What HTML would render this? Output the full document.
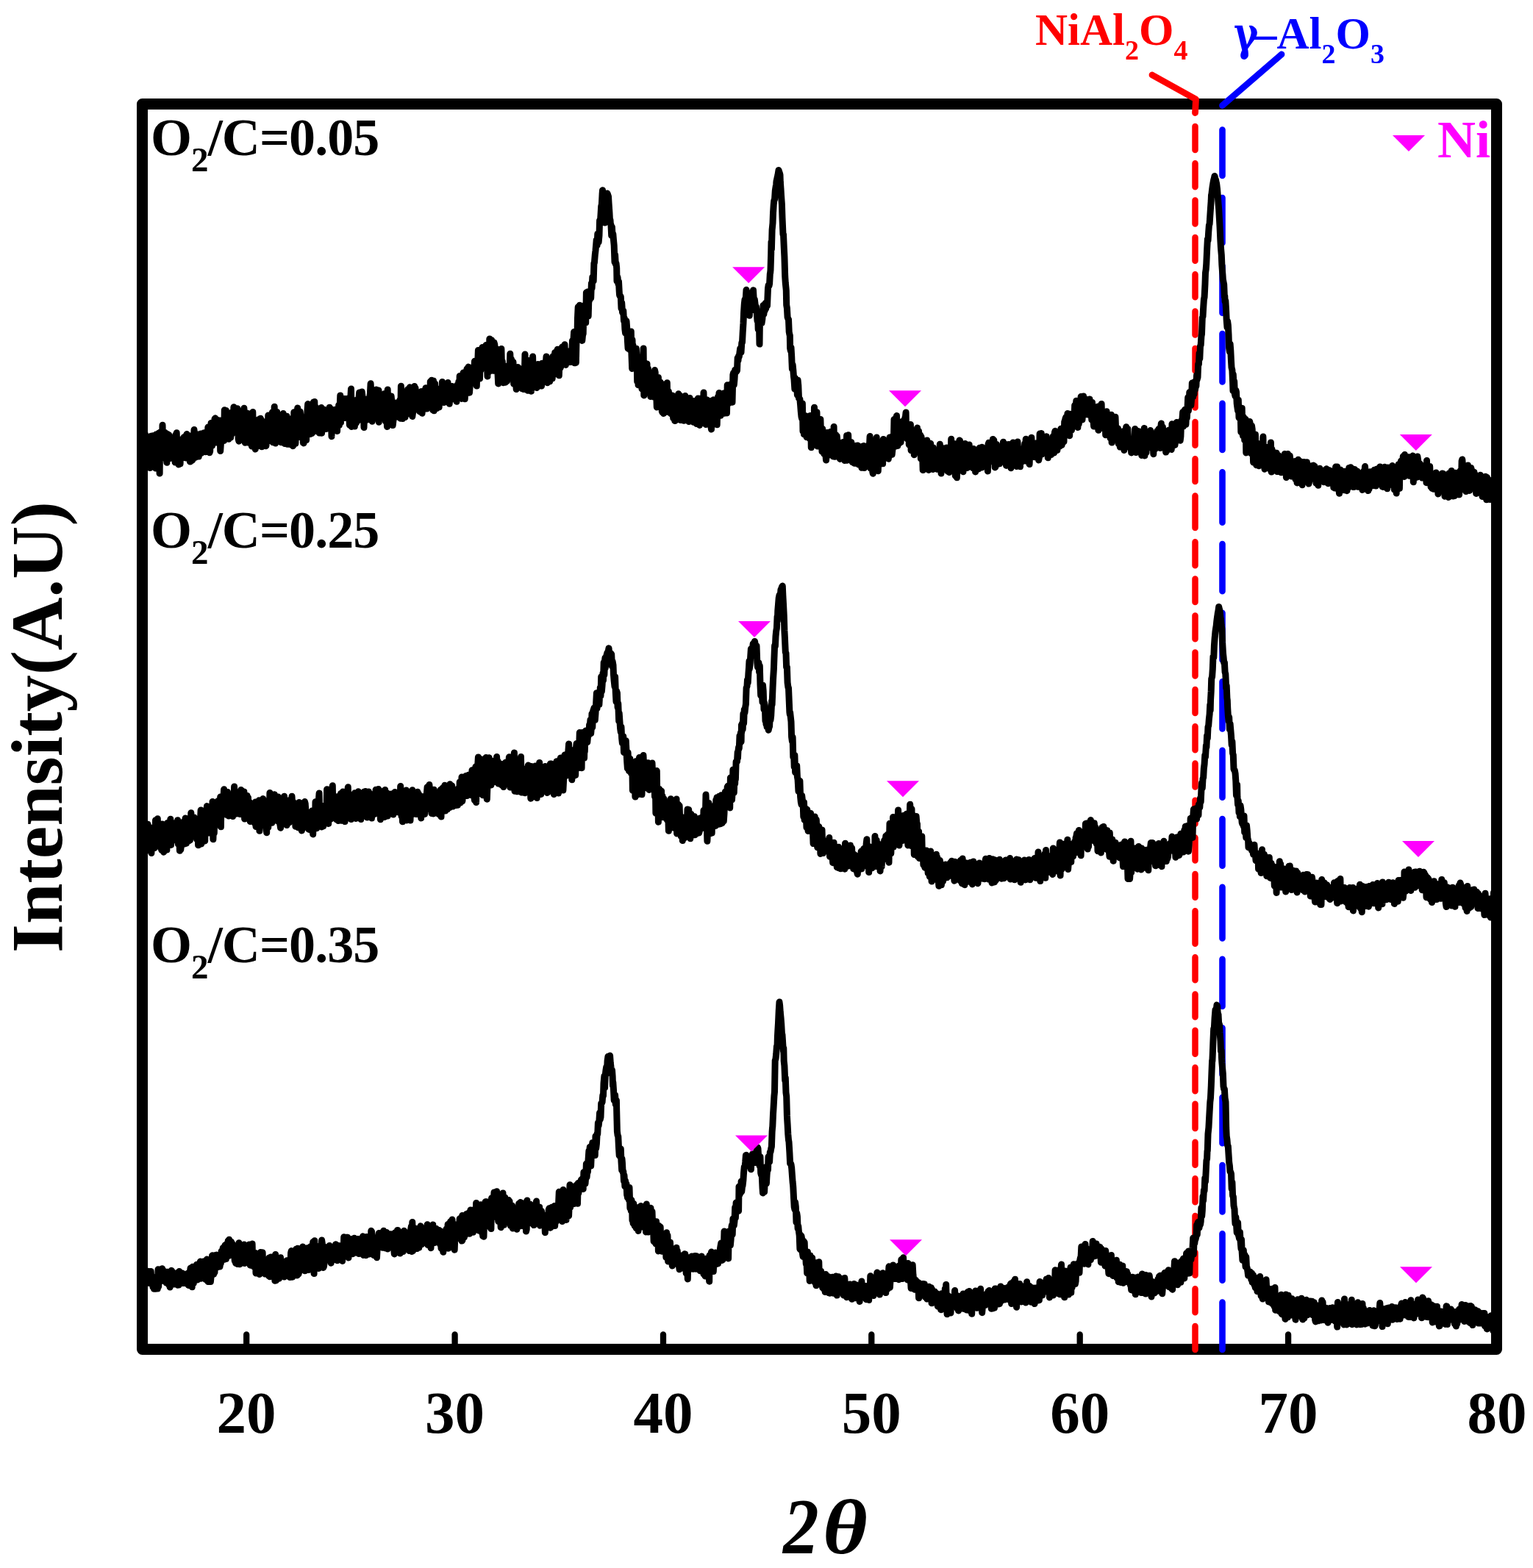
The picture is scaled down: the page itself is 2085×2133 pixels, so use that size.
<!DOCTYPE html>
<html><head><meta charset="utf-8"><title>XRD patterns</title>
<style>
html,body{margin:0;padding:0;background:#fff;overflow:hidden;width:2085px;height:2133px;}
svg{display:block;}
text{font-family:"Liberation Serif","Times New Roman",serif;font-weight:bold;}
</style></head><body>
<svg width="2085" height="2133" viewBox="0 0 2085 2133">
<rect x="0" y="0" width="2085" height="2133" fill="#fff"/>
<!-- frame -->
<rect x="193.5" y="141.5" width="1842" height="1694" fill="none" stroke="#000" stroke-width="15" stroke-linejoin="round"/>
<!-- ticks -->
<g stroke="#000" stroke-width="8.3" stroke-linecap="round">
<line x1="335.2" y1="1830" x2="335.2" y2="1815.5"/>
<line x1="618.6" y1="1830" x2="618.6" y2="1815.5"/>
<line x1="902.0" y1="1830" x2="902.0" y2="1815.5"/>
<line x1="1185.3" y1="1830" x2="1185.3" y2="1815.5"/>
<line x1="1468.7" y1="1830" x2="1468.7" y2="1815.5"/>
<line x1="1752.1" y1="1830" x2="1752.1" y2="1815.5"/>
</g>
<!-- tick labels -->
<g font-size="81" text-anchor="middle">
<text x="335" y="1949">20</text>
<text x="618.6" y="1949">30</text>
<text x="902" y="1949">40</text>
<text x="1185.3" y="1949">50</text>
<text x="1468.7" y="1949">60</text>
<text x="1752.1" y="1949">70</text>
<text x="2036" y="1949">80</text>
</g>
<!-- axis titles -->
<text transform="translate(1065,2113) scale(0.91,1)" font-size="107" font-style="italic">2</text>
<text transform="translate(1119,2113) scale(1.118,1)" font-size="105" font-style="italic">θ</text>
<text transform="translate(84,1296) rotate(-90)" font-size="100">Intensity(A.U)</text>
<!-- sample labels -->
<g font-size="72">
<text x="205" y="210.6" letter-spacing="-0.9">O<tspan font-size="47" dy="22">2</tspan><tspan dy="-22">/C=0.05</tspan></text>
<text x="205" y="744.5" letter-spacing="-0.9">O<tspan font-size="47" dy="22">2</tspan><tspan dy="-22">/C=0.25</tspan></text>
<text x="205" y="1308.6" letter-spacing="-0.9">O<tspan font-size="47" dy="22">2</tspan><tspan dy="-22">/C=0.35</tspan></text>
</g>
<!-- phase labels -->
<text x="1408" y="61" font-size="61" fill="#ff0000">NiAl<tspan font-size="38" dy="20">2</tspan><tspan dy="-20">O</tspan><tspan font-size="38" dy="20">4</tspan></text>
<text transform="translate(1678,67.5) scale(0.79,1)" font-size="64" fill="#0000ff" style="font-family:'DejaVu Serif',serif">γ</text>
<text x="1706" y="65.5" font-size="61" fill="#0000ff">–Al<tspan font-size="38" dy="20">2</tspan><tspan dy="-20">O</tspan><tspan font-size="38" dy="20">3</tspan></text>
<!-- Ni legend -->
<polygon points="1894,184 1938,184 1916,206" fill="#ff00ff"/>
<text x="1955" y="214" font-size="72" fill="#ff00ff">Ni</text>
<path d="M1625.5,171.9V203.9M1625.5,222.2V254.2M1625.5,272.6V304.6M1625.5,322.9V354.8M1625.5,373.2V404.2M1625.5,423.6V455.4M1625.5,473.9V504.2M1625.5,522.8V554.5M1625.5,573.9V605.8M1625.5,624.2V655.1M1625.5,674.5V718.0M1625.5,737.2V769.2M1625.5,787.6V819.0M1625.5,837.4V869.2M1625.5,887.6V919.5M1625.5,938.0V970.0M1625.5,988.2V1020.2M1625.5,1038.5V1070.5M1625.5,1088.8V1120.8M1625.5,1139.5V1170.5M1625.5,1189.0V1220.8M1625.5,1239.2V1283.8M1625.5,1302.2V1333.2M1625.5,1352.5V1383.5M1625.5,1401.8V1433.8M1625.5,1452.2V1484.2M1625.5,1501.8V1535.0M1625.5,1553.7V1584.7M1625.5,1603.2V1635.3M1625.5,1654.0V1685.2M1625.5,1703.8V1734.8M1625.5,1753.2V1785.3M1625.5,1804.0V1836.0" fill="none" stroke="#ff0000" stroke-width="8.5" stroke-linecap="round"/>
<path d="M1662.5,176.5V238.9M1662.5,269.0V330.5M1662.5,361.8V425.7M1662.5,454.1V519.5M1662.5,548.7V612.0M1662.5,642.2V710.8M1662.5,740.1V804.2M1662.5,833.8V897.7M1662.5,927.3V991.4M1662.5,1020.7V1084.7M1662.5,1114.1V1177.7M1662.5,1206.9V1276.5M1662.5,1304.9V1369.0M1662.5,1398.3V1461.7M1662.5,1492.8V1555.2M1662.5,1585.1V1648.5M1662.5,1678.3V1741.7M1662.5,1771.6V1836.0" fill="none" stroke="#0000ff" stroke-width="8.6" stroke-linecap="round"/>
<polyline points="1567,102 1626.5,135 1625.5,153.5" fill="none" stroke="#ff0000" stroke-width="8.8" stroke-linecap="round" stroke-linejoin="round"/>
<line x1="1743" y1="74" x2="1662.5" y2="143.5" stroke="#0000ff" stroke-width="8.8" stroke-linecap="round"/>
<path d="M194.0,612.2 L194.7,621.9 L195.4,611.3 L196.1,615.1 L196.8,612.1 L197.5,591.0 L198.2,624.0 L198.9,601.4 L199.6,607.8 L200.3,631.1 L201.0,630.8 L201.7,628.9 L202.4,600.1 L203.1,598.3 L203.8,636.6 L204.5,599.3 L205.2,593.2 L205.9,633.3 L206.6,631.5 L207.3,618.5 L208.0,592.8 L208.7,618.3 L209.4,622.8 L210.1,605.2 L210.8,614.8 L211.5,636.9 L212.2,591.1 L212.9,602.6 L213.6,599.4 L214.0,623.1 L214.3,632.2 L215.0,632.7 L215.7,589.2 L216.4,602.7 L217.1,644.1 L217.8,587.9 L218.5,596.4 L219.2,616.9 L219.9,623.3 L220.6,601.5 L221.0,578.3 L221.3,590.3 L222.0,586.9 L222.7,590.3 L223.4,593.1 L224.1,617.0 L224.8,588.5 L225.5,589.5 L226.2,621.6 L226.9,629.3 L227.6,590.4 L228.3,593.0 L229.0,618.0 L229.7,591.7 L230.4,608.4 L231.1,611.2 L231.8,623.6 L232.5,622.2 L233.2,595.5 L233.9,602.5 L234.6,622.0 L235.3,597.4 L236.0,596.3 L236.7,594.7 L237.4,595.6 L238.1,628.9 L238.8,591.4 L239.5,617.5 L240.2,588.8 L240.9,615.7 L241.6,617.5 L242.3,625.9 L243.0,631.9 L243.7,598.0 L244.4,615.9 L245.1,630.8 L245.8,605.3 L246.5,599.2 L247.2,621.5 L247.9,601.0 L248.6,614.0 L249.3,612.2 L250.0,594.7 L250.7,622.5 L251.4,598.7 L252.1,607.5 L252.8,623.0 L253.5,591.6 L254.2,590.5 L254.9,593.7 L255.6,614.3 L256.3,612.0 L257.0,594.7 L257.7,612.8 L258.4,628.0 L259.1,604.4 L260.0,592.8 L260.5,623.7 L261.2,626.3 L261.9,625.8 L262.6,618.2 L263.3,602.0 L264.0,584.6 L264.7,591.2 L265.4,622.4 L266.1,601.1 L266.8,606.4 L267.5,612.9 L268.2,596.9 L268.9,606.7 L269.6,591.0 L270.3,621.0 L271.0,603.6 L271.7,590.8 L272.4,598.0 L273.1,590.1 L273.8,616.5 L274.5,607.6 L275.2,591.5 L275.9,607.8 L276.6,592.4 L277.3,588.8 L278.0,596.0 L278.7,588.5 L279.4,614.8 L280.1,601.1 L280.8,603.5 L281.5,611.8 L282.2,593.1 L282.9,581.1 L283.6,584.0 L284.3,585.2 L285.0,615.8 L285.7,613.8 L286.0,588.8 L286.4,584.4 L287.1,575.4 L287.8,604.1 L288.5,606.5 L289.2,580.3 L289.9,580.7 L290.6,590.3 L291.3,580.5 L292.0,569.9 L292.7,568.8 L293.4,602.0 L294.1,594.2 L294.8,589.6 L295.5,571.2 L296.2,571.7 L297.0,581.2 L297.6,597.9 L298.3,586.1 L299.0,572.1 L299.7,613.4 L300.4,603.2 L301.1,590.6 L301.8,580.1 L302.5,598.1 L303.2,580.2 L303.9,590.0 L304.6,599.4 L305.3,557.7 L306.0,596.1 L306.7,587.0 L307.4,558.6 L308.1,580.3 L308.8,573.3 L309.5,584.7 L310.0,588.3 L310.9,597.3 L311.6,573.2 L312.3,579.4 L313.0,567.3 L313.7,595.2 L314.4,570.2 L315.1,561.0 L315.8,590.0 L316.5,586.3 L317.2,573.5 L317.9,553.8 L318.6,574.0 L319.3,566.9 L320.0,574.4 L320.7,578.3 L321.4,576.0 L322.1,584.1 L322.8,555.7 L323.5,559.9 L324.2,597.3 L324.9,600.2 L325.6,594.8 L326.0,566.6 L326.3,563.6 L327.0,580.8 L327.7,574.8 L328.4,588.9 L329.1,584.3 L329.8,559.1 L330.5,559.0 L331.2,576.6 L331.9,555.2 L332.6,574.1 L333.3,602.2 L334.0,589.3 L334.7,592.2 L335.4,580.5 L336.1,572.6 L336.8,562.2 L337.5,564.2 L338.2,602.3 L338.9,586.0 L339.6,570.4 L340.3,593.6 L341.0,578.5 L341.7,571.1 L342.4,607.0 L343.0,578.8 L343.8,560.6 L344.5,605.9 L345.2,602.4 L345.9,607.7 L346.6,606.6 L347.3,611.0 L348.0,602.2 L348.7,598.9 L349.4,588.1 L350.1,577.2 L350.8,606.8 L351.5,570.8 L352.2,583.7 L352.9,573.9 L353.6,569.7 L354.3,569.2 L355.0,570.4 L355.7,590.6 L356.0,607.7 L356.4,603.5 L357.1,587.6 L357.8,588.2 L358.5,597.8 L359.2,587.1 L359.9,574.1 L360.6,594.8 L361.3,606.8 L362.0,606.5 L362.7,573.0 L363.4,579.8 L364.1,600.4 L364.8,565.1 L365.5,568.7 L366.2,592.7 L366.9,580.3 L367.6,573.1 L368.3,574.3 L369.0,580.0 L369.7,584.5 L370.4,560.7 L371.1,601.8 L371.8,594.1 L372.5,594.1 L373.2,553.2 L373.9,594.7 L374.6,603.1 L375.3,576.2 L376.0,585.8 L376.7,560.6 L377.4,581.8 L378.1,594.7 L378.8,580.4 L379.5,591.1 L380.2,590.4 L380.9,573.5 L381.6,566.0 L382.3,601.8 L383.0,590.1 L383.7,594.6 L384.4,587.4 L385.1,562.5 L385.8,593.7 L386.5,570.4 L387.2,603.5 L387.9,571.6 L388.6,568.2 L389.3,587.4 L390.0,566.2 L390.7,604.2 L391.4,591.9 L392.1,570.3 L392.8,594.2 L393.5,604.0 L394.2,604.4 L394.9,603.1 L395.6,593.9 L396.3,594.8 L397.0,577.2 L397.7,569.0 L398.4,606.8 L399.1,605.7 L399.8,560.7 L400.5,596.3 L401.2,573.5 L401.9,603.2 L402.6,586.0 L403.0,587.4 L403.3,582.7 L404.0,564.4 L404.7,555.0 L405.4,568.5 L406.1,576.6 L406.8,594.6 L407.5,564.0 L408.2,560.0 L408.9,565.6 L409.6,579.0 L410.3,585.6 L411.0,589.5 L411.7,574.5 L412.4,602.4 L413.1,602.9 L413.8,588.3 L414.5,571.3 L415.2,583.7 L415.9,578.3 L416.6,598.6 L417.3,571.1 L418.0,558.4 L418.7,549.6 L419.4,579.9 L420.1,583.7 L420.8,581.8 L421.5,556.4 L422.2,590.5 L422.9,557.8 L423.6,583.8 L424.3,589.5 L425.0,588.0 L425.7,587.3 L426.4,547.1 L427.1,586.9 L427.8,546.6 L428.5,581.6 L429.2,553.8 L429.9,586.3 L430.6,567.0 L431.3,576.2 L432.0,568.9 L432.7,573.4 L433.4,562.4 L434.1,589.0 L434.8,578.7 L435.5,556.2 L436.2,557.8 L436.9,554.5 L437.6,589.2 L438.3,579.8 L439.0,582.1 L439.7,563.3 L440.4,557.0 L441.1,572.9 L441.8,560.1 L442.5,558.4 L443.2,583.6 L443.9,564.7 L444.6,559.2 L445.3,564.4 L446.0,564.1 L446.7,569.1 L447.4,567.7 L448.1,554.2 L448.8,583.6 L449.5,570.1 L450.2,556.5 L451.0,593.7 L451.6,576.4 L452.3,570.4 L453.0,575.9 L453.7,579.9 L454.4,566.8 L455.1,577.0 L455.8,571.9 L456.5,556.9 L457.2,559.8 L457.9,571.2 L458.6,586.5 L459.3,556.0 L460.0,570.2 L460.7,551.0 L461.4,578.4 L462.1,555.9 L462.8,537.9 L463.5,574.7 L464.2,552.7 L464.9,565.1 L465.6,565.1 L466.0,559.0 L466.3,568.8 L467.0,542.3 L467.7,552.2 L468.4,551.9 L469.1,568.4 L469.8,542.5 L470.5,567.9 L471.2,550.3 L471.9,543.9 L472.6,547.3 L473.0,546.1 L473.3,545.8 L474.0,541.8 L474.7,559.5 L475.4,578.1 L476.1,562.5 L476.8,541.6 L477.5,529.0 L478.2,580.4 L478.9,563.4 L479.6,557.2 L480.3,560.5 L481.0,549.1 L481.7,558.7 L482.4,580.0 L483.1,566.8 L483.8,544.5 L484.5,575.0 L485.2,550.9 L485.9,573.0 L486.6,543.0 L487.3,565.3 L488.0,541.8 L488.7,534.0 L489.4,567.8 L490.1,570.8 L490.8,539.2 L491.5,542.9 L492.2,532.9 L493.0,539.5 L493.6,550.6 L494.3,548.3 L495.0,581.5 L495.7,561.3 L496.4,549.4 L497.1,543.1 L497.8,546.6 L498.5,559.9 L499.2,567.8 L499.9,570.9 L500.6,546.0 L501.3,549.5 L502.0,564.7 L502.7,540.9 L503.4,535.3 L504.1,521.8 L504.8,534.4 L505.5,563.2 L506.2,573.3 L506.9,558.8 L507.6,555.8 L508.3,552.2 L509.0,555.4 L509.7,541.1 L510.4,554.0 L511.1,541.4 L511.8,529.9 L512.5,530.7 L513.2,539.0 L513.9,570.2 L514.6,555.9 L515.0,530.9 L515.3,574.3 L516.0,538.2 L516.7,556.1 L517.4,564.3 L518.1,536.5 L518.8,552.9 L519.5,567.7 L520.2,565.5 L520.9,566.7 L521.6,553.8 L522.3,545.0 L523.0,535.5 L523.7,554.3 L524.4,573.3 L525.1,552.3 L525.8,563.4 L526.5,580.4 L527.2,530.0 L527.9,566.8 L528.6,543.5 L529.3,539.1 L530.0,566.9 L530.7,574.4 L531.4,572.1 L532.1,539.1 L532.8,545.5 L533.5,555.6 L534.2,578.6 L534.9,572.6 L535.6,566.1 L536.3,556.8 L537.0,554.4 L537.7,566.1 L538.4,548.1 L539.1,558.6 L539.8,552.2 L540.5,562.2 L541.2,567.2 L541.9,565.4 L542.6,564.5 L543.3,561.6 L544.0,543.7 L544.7,569.3 L545.4,525.3 L546.1,547.4 L546.8,551.0 L547.5,569.5 L548.2,554.9 L548.9,537.0 L549.6,567.3 L550.3,547.0 L551.0,567.6 L551.7,555.3 L552.4,562.2 L553.1,542.4 L553.8,536.5 L554.5,529.7 L555.2,539.7 L555.9,534.4 L556.6,536.2 L557.3,526.8 L558.0,563.2 L558.7,547.3 L559.4,548.1 L560.1,555.1 L560.8,566.5 L561.5,561.6 L562.2,558.2 L562.9,550.2 L563.6,525.4 L564.3,554.2 L565.0,528.0 L565.7,544.8 L566.4,548.7 L567.1,539.9 L567.8,552.2 L568.5,546.7 L569.2,551.4 L569.9,541.6 L570.6,559.8 L571.3,545.1 L572.0,534.3 L572.7,532.6 L573.4,548.3 L574.1,562.2 L574.8,546.7 L575.5,536.7 L576.2,540.1 L576.9,531.3 L577.6,538.0 L578.3,534.4 L579.0,527.8 L579.7,540.6 L580.4,556.1 L581.1,531.1 L581.8,530.1 L582.5,541.9 L583.2,553.3 L583.9,544.4 L584.6,548.1 L585.3,518.9 L586.0,524.8 L586.7,540.9 L587.0,517.3 L587.4,534.2 L588.1,544.2 L588.8,558.0 L589.5,518.1 L590.2,558.8 L590.9,538.2 L591.6,522.0 L592.3,555.2 L593.0,544.8 L593.7,555.5 L594.4,531.1 L595.1,553.1 L595.8,529.1 L596.5,535.9 L597.2,553.9 L597.9,534.1 L598.6,537.6 L599.3,542.5 L600.0,536.4 L600.7,546.1 L601.0,538.2 L601.4,519.5 L602.1,527.4 L602.8,532.5 L603.5,547.5 L604.2,527.1 L604.9,526.7 L605.6,528.8 L606.3,524.4 L607.0,528.8 L607.7,530.4 L608.4,533.4 L609.1,520.6 L609.8,536.5 L610.5,539.3 L611.2,549.3 L611.9,541.9 L612.6,539.2 L613.3,530.8 L614.0,536.5 L614.7,525.4 L615.0,536.3 L615.4,537.2 L616.1,541.0 L616.8,528.2 L617.5,534.6 L618.2,543.3 L618.9,535.1 L619.6,539.9 L620.3,540.6 L621.0,546.3 L621.7,523.8 L622.4,534.7 L623.1,532.5 L623.8,519.2 L624.5,541.9 L625.2,511.4 L625.9,518.6 L626.6,514.5 L627.3,541.9 L628.0,542.4 L628.7,531.5 L629.0,519.5 L629.4,528.0 L630.1,507.0 L630.8,518.6 L631.5,507.6 L632.2,542.8 L632.9,533.4 L633.6,524.8 L634.3,518.1 L635.0,501.7 L635.7,519.2 L636.4,504.4 L637.1,499.1 L637.8,505.0 L638.5,534.2 L639.2,525.1 L639.9,522.5 L640.6,503.1 L641.3,503.4 L642.0,521.4 L642.7,519.5 L643.0,499.6 L643.4,519.2 L644.1,511.1 L644.8,504.2 L645.5,491.3 L646.2,499.0 L646.9,491.8 L647.6,490.5 L648.3,525.1 L649.0,499.2 L649.7,494.0 L650.4,476.4 L651.0,486.0 L651.8,510.4 L652.5,515.1 L653.2,482.2 L653.9,503.6 L654.6,497.6 L655.3,479.1 L656.0,472.6 L656.7,492.5 L657.4,498.2 L658.0,478.4 L658.8,489.8 L659.5,496.5 L660.2,480.5 L660.9,469.6 L661.6,488.3 L662.3,488.8 L663.0,512.0 L663.7,476.1 L664.4,479.9 L665.0,505.7 L665.8,461.1 L666.5,478.7 L667.2,492.9 L667.9,493.7 L668.6,462.7 L669.3,494.6 L670.0,495.4 L670.7,504.3 L671.4,503.9 L672.0,466.0 L672.8,468.8 L673.5,503.4 L674.2,493.3 L674.9,502.3 L675.6,474.7 L676.3,503.0 L677.0,508.3 L677.7,521.9 L678.4,489.2 L679.0,483.4 L679.8,477.7 L680.5,479.2 L681.2,513.7 L681.9,474.6 L682.6,504.4 L683.3,491.7 L684.0,513.6 L684.7,520.7 L685.4,518.8 L686.0,515.6 L686.8,516.7 L687.5,520.2 L688.2,501.7 L688.9,498.3 L689.6,518.5 L690.3,508.7 L691.0,511.6 L691.7,501.2 L692.4,507.7 L693.1,504.4 L693.8,481.2 L694.5,500.5 L695.2,488.1 L695.9,490.0 L696.6,501.3 L697.3,493.6 L698.0,492.4 L698.7,522.2 L699.4,507.7 L700.0,506.5 L700.8,509.0 L701.5,517.2 L702.2,529.6 L702.9,515.9 L703.6,512.2 L704.3,499.4 L705.0,499.8 L705.7,510.7 L706.4,510.7 L707.1,505.8 L707.8,507.4 L708.5,521.1 L709.2,513.2 L709.9,528.7 L710.6,516.7 L711.3,515.4 L712.0,529.6 L712.7,517.9 L713.4,507.3 L714.0,481.9 L714.8,500.1 L715.5,516.4 L716.2,509.3 L716.9,508.8 L717.6,531.3 L718.3,499.8 L719.0,490.5 L719.7,529.8 L720.4,525.3 L721.1,504.2 L721.8,514.9 L722.5,532.2 L723.2,490.8 L723.9,527.2 L724.6,485.1 L725.3,514.9 L726.0,499.0 L726.7,516.9 L727.4,500.5 L728.0,525.2 L728.8,507.7 L729.5,525.7 L730.2,527.6 L730.9,507.3 L731.6,495.4 L732.3,509.9 L733.0,514.5 L733.7,517.2 L734.4,510.8 L735.1,510.5 L735.8,521.9 L736.5,525.1 L737.2,494.3 L737.9,496.4 L738.6,502.3 L739.3,501.1 L740.0,497.5 L740.7,514.6 L741.4,509.6 L742.1,497.1 L743.0,485.0 L743.5,508.3 L744.2,520.7 L744.9,504.2 L745.6,503.6 L746.3,518.1 L747.0,496.6 L747.7,519.0 L748.4,509.6 L749.1,503.3 L749.8,496.0 L750.5,493.4 L751.2,515.0 L751.9,484.8 L752.6,504.5 L753.3,509.9 L754.0,505.5 L754.7,479.4 L755.4,501.8 L756.1,507.9 L757.0,508.2 L757.5,505.7 L758.2,475.2 L758.9,501.8 L759.6,479.4 L760.3,510.8 L761.0,491.4 L761.7,501.4 L762.4,499.7 L763.1,498.3 L763.8,477.1 L764.5,472.1 L765.2,479.5 L765.9,493.3 L766.6,480.4 L767.3,489.2 L768.0,468.7 L768.7,487.6 L769.4,496.4 L770.1,491.2 L771.0,479.5 L771.5,480.6 L772.2,477.9 L772.9,492.8 L773.6,487.2 L774.3,482.3 L775.0,478.9 L775.7,492.5 L776.4,486.5 L777.1,483.6 L778.0,475.7 L778.5,463.2 L779.2,490.0 L779.9,463.2 L780.6,451.6 L781.3,493.8 L782.0,488.5 L782.7,469.1 L783.0,492.5 L783.4,493.4 L784.1,459.2 L785.0,458.8 L785.5,432.7 L786.2,417.6 L786.9,443.1 L787.6,460.6 L788.3,415.3 L789.0,452.7 L789.7,442.0 L790.0,423.1 L790.4,422.2 L791.1,458.1 L791.8,463.4 L792.5,456.1 L793.2,453.9 L793.9,420.6 L794.6,416.0 L795.3,414.9 L796.0,419.7 L796.7,438.8 L797.4,397.9 L798.1,406.6 L799.0,396.9 L799.5,419.8 L800.2,429.8 L800.9,404.8 L801.6,408.6 L802.3,398.1 L803.0,396.7 L803.7,405.4 L804.4,385.3 L805.1,391.7 L805.8,376.9 L806.5,382.1 L807.2,382.0 L807.9,358.0 L808.4,357.6 L809.3,346.5 L810.0,340.7 L810.7,332.8 L811.2,326.5 L812.1,333.6 L812.8,318.0 L813.5,317.7 L814.2,329.0 L815.0,320.3 L815.6,299.7 L816.3,303.7 L817.0,292.6 L817.7,280.7 L818.4,278.0 L819.1,263.9 L819.5,258.8 L819.8,261.7 L820.5,266.0 L821.0,279.1 L821.9,295.1 L822.5,303.1 L823.3,290.9 L824.0,283.6 L824.7,274.6 L825.4,269.5 L826.0,263.0 L826.8,265.4 L827.5,267.3 L828.0,275.7 L828.9,288.8 L829.6,302.3 L830.0,299.4 L830.3,304.0 L831.0,306.0 L831.7,320.5 L832.4,309.0 L833.0,320.5 L833.8,318.0 L834.5,326.7 L835.2,333.9 L836.0,356.7 L836.6,346.8 L837.3,359.2 L838.0,357.9 L838.7,364.5 L839.0,382.5 L839.4,375.8 L840.1,377.8 L840.8,386.0 L841.5,383.1 L842.2,396.1 L842.5,400.7 L842.9,402.4 L843.6,402.5 L844.3,403.6 L845.0,419.6 L845.7,412.1 L846.5,424.7 L847.1,426.1 L847.8,423.0 L848.5,436.5 L849.2,432.8 L849.9,447.6 L850.6,453.3 L851.0,437.8 L851.3,438.6 L852.0,436.6 L852.7,446.1 L853.4,463.0 L854.1,474.0 L855.0,462.4 L855.5,459.8 L856.2,475.5 L856.9,473.0 L857.6,468.2 L858.3,450.9 L859.0,482.6 L859.7,501.4 L860.0,462.5 L860.4,476.0 L861.1,470.0 L861.8,500.8 L862.5,475.2 L863.2,495.7 L863.9,491.6 L864.6,488.9 L865.0,498.6 L865.3,474.2 L866.0,484.3 L866.7,519.1 L867.4,489.5 L868.1,523.8 L868.8,517.2 L869.5,507.1 L870.0,499.7 L870.9,521.3 L871.6,510.3 L872.3,504.4 L873.0,529.1 L873.7,518.7 L874.4,499.2 L875.1,474.0 L875.8,537.9 L876.5,517.0 L877.2,514.9 L877.9,515.9 L878.6,501.0 L879.3,499.5 L880.0,494.9 L880.7,533.8 L881.4,501.5 L882.1,528.5 L882.8,510.9 L883.5,511.5 L884.2,530.8 L884.9,539.6 L885.6,526.5 L886.3,508.1 L887.0,507.6 L887.7,524.9 L888.4,514.5 L889.1,540.0 L890.0,527.3 L890.5,503.6 L891.2,506.6 L891.9,534.2 L892.6,532.9 L893.3,553.9 L894.0,520.1 L894.7,538.6 L895.4,513.4 L896.1,537.9 L896.8,527.6 L897.5,526.5 L898.2,520.0 L898.9,526.6 L899.6,523.0 L900.0,532.9 L900.3,559.7 L901.0,561.0 L901.7,543.9 L902.4,562.4 L903.1,530.0 L903.8,529.6 L904.5,522.7 L905.2,541.4 L905.9,528.4 L906.6,557.3 L907.3,520.8 L908.0,560.2 L908.7,535.8 L909.4,532.6 L910.0,554.8 L910.8,539.3 L911.5,559.9 L912.2,562.6 L912.9,560.1 L913.6,544.4 L914.3,537.9 L915.0,561.3 L915.7,568.9 L916.4,569.0 L917.1,554.9 L917.8,572.5 L918.5,552.1 L919.2,557.8 L920.0,571.2 L920.6,546.2 L921.3,561.3 L922.0,551.0 L922.7,535.8 L923.4,539.8 L924.1,551.9 L924.8,538.2 L925.5,571.5 L926.2,559.1 L926.9,543.4 L927.6,541.1 L928.3,539.8 L929.0,541.0 L929.7,551.3 L930.0,572.2 L930.4,563.1 L931.1,549.7 L931.8,538.5 L932.5,558.2 L933.2,552.6 L933.9,568.9 L934.6,569.8 L935.3,547.4 L936.0,556.7 L936.7,573.5 L937.4,552.7 L938.1,541.6 L938.8,568.6 L939.5,564.5 L940.0,558.2 L940.9,568.9 L941.6,562.4 L942.3,552.6 L943.0,574.2 L943.7,545.6 L944.4,552.5 L945.1,554.4 L945.8,548.1 L946.5,560.8 L947.2,576.5 L947.9,567.9 L948.6,572.8 L949.3,541.9 L950.0,573.0 L950.7,567.7 L951.4,578.4 L952.1,551.6 L952.8,555.3 L953.5,541.9 L954.2,574.0 L954.9,575.1 L955.6,555.6 L956.3,563.0 L957.0,533.9 L957.7,565.5 L958.4,576.0 L959.1,567.9 L960.0,577.5 L960.5,552.3 L961.2,543.7 L961.9,564.9 L962.6,553.1 L963.3,570.2 L964.0,567.2 L964.7,567.9 L965.4,553.9 L966.1,545.4 L966.8,579.7 L967.5,584.0 L968.2,555.5 L968.9,551.5 L969.6,557.3 L970.0,545.1 L970.3,543.8 L971.0,576.3 L971.7,559.6 L972.4,548.6 L973.1,564.6 L973.8,550.5 L974.5,574.2 L975.2,577.8 L975.9,551.5 L976.6,539.3 L977.3,558.4 L978.0,534.4 L978.7,551.5 L979.4,554.1 L980.0,565.3 L980.8,554.3 L981.5,536.1 L982.2,541.3 L982.9,539.0 L983.6,556.4 L984.3,534.9 L985.0,562.3 L985.7,540.6 L986.4,543.2 L987.1,554.8 L987.8,548.6 L988.5,562.0 L989.2,523.8 L990.0,548.3 L990.6,549.1 L991.3,528.8 L992.0,536.6 L992.7,531.8 L993.4,523.1 L994.1,533.6 L994.8,539.2 L995.5,524.8 L996.0,547.2 L996.9,509.9 L997.6,507.0 L998.3,523.4 L999.0,515.8 L999.7,503.2 L1000.4,507.0 L1001.0,505.3 L1001.8,505.3 L1002.5,503.8 L1003.2,486.7 L1004.0,490.3 L1004.6,484.3 L1005.3,485.3 L1006.0,479.3 L1006.7,474.2 L1007.4,476.5 L1008.0,479.1 L1008.8,466.2 L1009.5,465.7 L1010.2,452.0 L1011.0,439.5 L1011.6,424.3 L1012.3,413.6 L1013.0,407.4 L1013.7,408.7 L1014.4,403.7 L1015.0,394.3 L1015.8,404.7 L1016.5,407.1 L1017.0,414.5 L1017.9,417.2 L1018.6,418.6 L1019.3,429.3 L1020.0,410.3 L1020.7,418.7 L1021.4,421.1 L1022.1,404.8 L1022.5,421.7 L1022.8,397.7 L1023.5,408.6 L1024.2,398.3 L1024.5,394.8 L1024.9,401.7 L1025.6,412.6 L1026.3,407.4 L1027.0,412.8 L1027.7,422.8 L1028.4,417.3 L1029.1,423.3 L1030.0,436.5 L1030.5,423.8 L1031.2,448.2 L1031.9,432.4 L1032.6,447.1 L1033.0,468.1 L1033.3,445.0 L1034.0,439.7 L1034.7,429.3 L1035.4,435.9 L1036.0,439.6 L1036.8,434.4 L1037.5,425.7 L1038.0,415.4 L1038.9,427.2 L1039.6,417.9 L1040.3,422.4 L1041.0,412.4 L1041.7,419.7 L1042.4,413.2 L1043.1,410.3 L1043.5,415.9 L1043.8,409.1 L1044.5,392.1 L1045.2,387.8 L1046.0,388.9 L1046.6,385.9 L1047.3,372.6 L1047.7,370.7 L1048.0,367.3 L1048.7,344.6 L1049.0,328.9 L1049.4,338.8 L1050.1,312.7 L1051.0,303.6 L1051.5,290.0 L1052.2,278.7 L1052.7,273.3 L1053.6,270.9 L1054.3,259.5 L1055.0,254.8 L1055.7,250.7 L1056.0,246.8 L1056.4,245.0 L1057.1,241.8 L1057.8,238.9 L1058.5,234.6 L1059.0,231.5 L1059.9,234.3 L1060.6,236.3 L1061.0,238.1 L1061.3,247.4 L1062.0,256.8 L1062.5,265.5 L1063.4,278.1 L1064.0,296.3 L1065.0,318.7 L1065.5,318.8 L1066.3,337.3 L1066.9,349.0 L1067.7,375.8 L1068.3,385.0 L1069.0,391.7 L1069.3,395.2 L1069.7,414.9 L1070.4,419.0 L1071.1,431.6 L1071.6,433.0 L1072.5,434.5 L1073.2,451.5 L1073.9,455.1 L1074.3,456.1 L1074.6,473.5 L1075.3,477.0 L1076.0,473.0 L1076.7,484.9 L1077.0,493.0 L1077.4,502.0 L1078.1,496.1 L1078.8,503.3 L1079.5,512.5 L1080.0,516.2 L1080.9,529.4 L1081.6,514.4 L1082.3,523.4 L1083.0,529.6 L1083.7,522.4 L1084.4,537.4 L1085.1,517.3 L1085.8,524.1 L1086.5,541.8 L1087.0,541.6 L1087.9,543.0 L1088.6,550.6 L1089.3,559.8 L1090.0,566.8 L1090.7,569.6 L1091.4,549.0 L1092.0,586.7 L1092.8,579.0 L1093.5,590.9 L1094.2,581.0 L1094.9,569.5 L1095.6,565.6 L1096.3,579.3 L1097.0,594.6 L1097.7,572.8 L1098.4,589.0 L1099.1,582.5 L1100.0,584.3 L1100.5,596.3 L1101.2,581.3 L1101.9,565.4 L1102.6,568.2 L1103.3,608.8 L1104.0,597.1 L1104.7,569.2 L1105.4,572.1 L1106.1,566.0 L1106.8,593.0 L1107.5,554.2 L1108.2,589.0 L1108.9,588.3 L1109.6,581.2 L1110.0,599.7 L1110.3,601.9 L1111.0,560.8 L1111.7,607.1 L1112.4,586.9 L1113.1,606.9 L1113.8,606.8 L1114.5,596.9 L1115.2,591.8 L1115.9,570.5 L1116.6,593.3 L1117.3,586.5 L1118.0,614.3 L1118.7,583.6 L1119.4,611.8 L1120.0,593.0 L1120.8,617.5 L1121.5,598.8 L1122.2,594.5 L1122.9,618.7 L1123.6,626.0 L1124.3,616.0 L1125.0,588.4 L1125.7,604.2 L1126.4,595.6 L1127.1,609.8 L1127.8,603.7 L1128.5,596.9 L1129.2,587.6 L1130.0,589.6 L1130.6,619.2 L1131.3,597.1 L1132.0,601.6 L1132.7,609.3 L1133.4,621.1 L1134.1,580.4 L1134.8,619.6 L1135.5,621.3 L1136.2,610.0 L1136.9,591.7 L1137.6,600.1 L1138.3,593.3 L1139.0,601.0 L1139.7,610.5 L1140.0,604.1 L1140.4,610.1 L1141.1,620.2 L1141.8,623.1 L1142.5,624.4 L1143.2,613.7 L1143.9,605.4 L1144.6,613.1 L1145.3,621.7 L1146.0,615.9 L1146.7,601.4 L1147.4,624.4 L1148.1,616.4 L1148.8,626.5 L1149.5,601.0 L1150.0,611.7 L1150.9,614.3 L1151.6,592.4 L1152.3,626.2 L1153.0,607.9 L1153.7,591.8 L1154.4,624.2 L1155.1,614.6 L1155.8,607.4 L1156.5,613.6 L1157.2,602.7 L1157.9,601.6 L1158.6,609.5 L1159.3,628.8 L1160.0,616.2 L1160.7,608.2 L1161.4,618.0 L1162.1,630.3 L1162.8,616.8 L1163.5,620.6 L1164.2,629.2 L1164.9,606.2 L1165.6,609.4 L1166.3,606.0 L1167.0,626.7 L1167.7,631.8 L1168.4,616.0 L1169.1,623.7 L1170.0,630.5 L1170.5,630.6 L1171.2,631.8 L1171.9,636.3 L1172.6,607.2 L1173.3,614.8 L1174.0,612.2 L1174.7,606.5 L1175.4,636.4 L1176.1,622.8 L1176.8,623.7 L1177.5,610.6 L1178.2,616.7 L1178.9,612.0 L1179.6,627.3 L1180.0,613.3 L1180.3,626.0 L1181.0,606.8 L1181.7,604.9 L1182.4,608.5 L1183.1,593.6 L1183.8,637.0 L1184.5,624.8 L1185.2,632.2 L1185.9,622.6 L1186.6,641.0 L1187.3,644.3 L1188.0,634.2 L1188.7,624.1 L1189.4,611.4 L1190.0,611.8 L1190.8,636.8 L1191.5,608.1 L1192.2,595.0 L1192.9,615.9 L1193.6,634.5 L1194.3,640.7 L1195.0,621.2 L1195.7,617.2 L1196.4,616.0 L1197.1,630.7 L1197.8,621.6 L1198.5,610.3 L1199.2,615.3 L1200.0,609.8 L1200.6,630.8 L1201.3,597.6 L1202.0,613.7 L1202.7,616.0 L1203.4,599.4 L1204.1,609.7 L1204.8,609.7 L1205.5,602.3 L1206.2,618.0 L1206.9,602.2 L1207.6,614.8 L1208.3,624.2 L1209.0,606.3 L1209.7,620.2 L1210.0,594.9 L1210.4,599.4 L1211.1,609.8 L1211.8,602.6 L1212.5,594.5 L1213.2,618.3 L1213.9,611.8 L1214.6,605.8 L1215.3,603.8 L1216.0,570.5 L1216.7,581.8 L1217.4,603.9 L1218.1,607.2 L1218.8,573.0 L1219.5,565.6 L1220.0,576.9 L1220.9,606.4 L1221.6,586.3 L1222.3,593.7 L1223.0,603.1 L1223.7,596.7 L1224.4,594.3 L1225.1,601.5 L1225.8,585.9 L1226.5,578.8 L1227.2,573.3 L1227.9,573.9 L1228.6,584.9 L1229.3,592.7 L1230.0,591.0 L1230.7,568.9 L1231.4,567.4 L1232.1,561.0 L1232.8,596.0 L1233.5,586.0 L1234.2,597.4 L1234.9,577.9 L1235.6,579.8 L1236.3,604.9 L1237.0,581.6 L1237.7,578.3 L1238.4,577.4 L1239.1,612.7 L1239.8,586.0 L1240.5,597.4 L1241.2,607.6 L1241.9,606.8 L1242.6,601.6 L1243.3,618.7 L1244.0,596.6 L1244.7,590.4 L1245.0,591.5 L1245.4,599.0 L1246.1,590.9 L1246.8,590.8 L1247.5,582.1 L1248.2,605.8 L1248.9,592.5 L1249.6,586.8 L1250.0,610.6 L1250.3,597.7 L1251.0,609.7 L1251.7,592.1 L1252.4,624.1 L1253.1,594.5 L1253.8,610.6 L1254.5,615.8 L1255.2,639.6 L1255.9,611.8 L1256.6,606.0 L1257.3,612.6 L1258.0,634.4 L1258.7,611.9 L1259.4,630.0 L1260.0,622.3 L1260.8,598.9 L1261.5,616.4 L1262.2,625.7 L1262.9,639.4 L1263.6,609.8 L1264.3,615.0 L1265.0,604.3 L1265.7,603.2 L1266.4,627.4 L1267.1,624.0 L1267.8,624.7 L1268.5,638.5 L1269.2,609.0 L1270.0,628.7 L1270.6,632.3 L1271.3,628.7 L1272.0,614.4 L1272.7,618.3 L1273.4,636.9 L1274.1,638.2 L1274.8,622.6 L1275.5,632.5 L1276.2,627.1 L1276.9,616.5 L1277.6,630.0 L1278.3,604.3 L1279.0,619.2 L1279.7,608.4 L1280.0,644.0 L1280.4,635.9 L1281.1,626.4 L1281.8,623.8 L1282.5,621.3 L1283.2,628.2 L1283.9,609.9 L1284.6,636.2 L1285.3,623.5 L1286.0,612.2 L1286.7,615.1 L1287.4,608.9 L1288.1,638.4 L1288.8,641.0 L1289.5,630.7 L1290.0,636.5 L1290.9,642.5 L1291.6,608.7 L1292.3,609.0 L1293.0,635.2 L1293.7,597.3 L1294.4,626.6 L1295.1,630.0 L1295.8,616.9 L1296.5,634.3 L1297.2,606.6 L1297.9,617.5 L1298.6,603.8 L1299.3,647.2 L1300.0,641.9 L1300.7,611.2 L1301.4,649.7 L1302.1,633.0 L1302.8,604.7 L1303.5,629.7 L1304.2,614.5 L1304.9,599.0 L1305.6,599.3 L1306.3,607.3 L1307.0,611.1 L1307.7,618.8 L1308.4,608.8 L1309.1,635.2 L1310.0,641.7 L1310.5,609.9 L1311.2,629.4 L1311.9,608.2 L1312.6,603.4 L1313.3,612.7 L1314.0,611.5 L1314.7,628.4 L1315.4,636.5 L1316.1,623.0 L1316.8,629.3 L1317.5,631.2 L1318.2,605.1 L1318.9,622.3 L1319.6,615.4 L1320.0,621.1 L1320.3,630.3 L1321.0,626.4 L1321.7,634.9 L1322.4,622.3 L1323.1,636.7 L1323.8,612.1 L1324.5,610.5 L1325.2,616.8 L1325.9,628.3 L1326.6,642.0 L1327.3,636.4 L1328.0,615.9 L1328.7,620.7 L1329.4,625.3 L1330.0,629.4 L1330.8,638.0 L1331.5,629.4 L1332.2,609.3 L1332.9,614.9 L1333.6,618.2 L1334.3,618.1 L1335.0,636.1 L1335.7,608.2 L1336.4,610.0 L1337.1,624.9 L1337.8,622.8 L1338.5,619.5 L1339.2,628.1 L1340.0,614.4 L1340.6,613.2 L1341.3,631.5 L1342.0,631.5 L1342.7,608.4 L1343.4,641.0 L1344.1,604.1 L1344.8,602.2 L1345.5,625.4 L1346.2,605.6 L1346.9,623.0 L1347.6,613.3 L1348.3,601.8 L1349.0,627.5 L1349.7,618.1 L1350.4,597.4 L1351.1,618.5 L1351.8,599.0 L1352.5,623.2 L1353.2,635.9 L1353.9,635.6 L1354.6,622.9 L1355.3,604.5 L1356.0,623.1 L1356.7,607.3 L1357.4,631.3 L1358.0,621.0 L1358.8,612.7 L1359.5,630.7 L1360.2,615.3 L1360.9,626.2 L1361.6,607.9 L1362.3,620.5 L1363.0,612.5 L1363.7,616.2 L1364.4,601.3 L1365.1,609.1 L1365.8,619.4 L1366.5,610.1 L1367.2,610.5 L1367.9,629.7 L1368.6,633.4 L1369.3,604.8 L1370.0,614.4 L1370.7,605.4 L1371.4,625.9 L1372.1,604.5 L1372.8,605.1 L1373.5,621.0 L1374.2,631.4 L1374.9,636.7 L1375.6,607.8 L1376.3,610.1 L1377.0,632.0 L1377.7,601.9 L1378.4,614.9 L1379.1,625.3 L1379.8,603.6 L1380.5,626.8 L1381.2,619.6 L1381.9,617.5 L1382.6,634.5 L1383.3,630.8 L1384.0,601.1 L1384.7,613.0 L1385.4,625.6 L1386.1,628.2 L1386.8,613.2 L1387.5,634.7 L1388.2,616.8 L1388.9,619.6 L1389.6,621.2 L1390.3,627.8 L1391.0,622.7 L1391.7,624.1 L1392.4,627.0 L1393.1,610.4 L1393.8,603.1 L1394.5,619.7 L1395.2,597.3 L1396.0,627.3 L1396.6,605.2 L1397.3,626.4 L1398.0,604.4 L1398.7,602.1 L1399.4,608.8 L1400.1,631.5 L1400.8,614.5 L1401.5,616.9 L1402.2,602.9 L1402.9,595.2 L1403.6,613.7 L1404.3,609.0 L1405.0,607.3 L1405.7,617.6 L1406.4,613.6 L1407.1,621.7 L1407.8,606.2 L1408.5,603.0 L1409.2,615.3 L1409.9,616.4 L1410.6,607.2 L1411.3,621.3 L1412.0,603.2 L1412.7,626.0 L1413.4,622.4 L1414.1,590.0 L1415.0,611.5 L1415.5,599.8 L1416.2,589.5 L1416.9,617.9 L1417.6,612.1 L1418.3,612.5 L1419.0,611.3 L1419.7,614.9 L1420.4,594.1 L1421.1,599.8 L1421.8,594.7 L1422.5,602.1 L1423.2,593.8 L1423.9,613.8 L1424.6,600.0 L1425.3,622.8 L1426.0,609.3 L1426.7,618.7 L1427.4,616.3 L1428.1,612.3 L1428.8,607.5 L1429.5,618.6 L1430.2,612.3 L1431.0,599.1 L1431.6,610.9 L1432.3,593.2 L1433.0,608.6 L1433.7,615.9 L1434.4,588.3 L1435.1,586.3 L1435.8,593.9 L1436.5,605.9 L1437.2,603.4 L1437.9,612.4 L1438.6,600.2 L1439.3,590.1 L1440.0,598.8 L1440.7,605.5 L1441.4,607.1 L1442.1,601.4 L1442.8,583.3 L1443.5,598.8 L1444.2,605.4 L1444.9,598.1 L1445.6,599.3 L1446.3,600.6 L1447.0,601.0 L1447.7,573.9 L1448.4,572.1 L1449.1,569.2 L1449.8,567.5 L1450.5,587.6 L1451.2,590.8 L1451.9,562.5 L1452.6,566.0 L1453.3,591.5 L1454.0,584.0 L1454.7,592.7 L1455.4,563.3 L1456.1,572.3 L1456.8,573.9 L1457.5,585.0 L1458.2,571.0 L1459.0,577.9 L1459.6,571.1 L1460.3,576.7 L1461.0,571.3 L1461.7,551.2 L1462.4,551.3 L1463.1,553.9 L1463.8,545.3 L1464.5,580.5 L1465.2,548.0 L1465.9,581.5 L1466.6,547.9 L1467.3,576.7 L1468.0,557.1 L1468.7,556.6 L1469.4,554.0 L1470.1,539.6 L1470.8,553.7 L1471.5,560.6 L1472.0,570.9 L1472.9,559.3 L1473.6,538.9 L1474.3,564.6 L1475.0,549.9 L1475.7,558.9 L1476.4,558.2 L1477.1,543.3 L1477.8,549.7 L1478.5,552.7 L1479.2,564.0 L1479.9,553.1 L1480.6,554.5 L1481.3,550.9 L1482.0,543.1 L1482.7,558.8 L1483.4,554.6 L1484.0,559.8 L1484.8,571.1 L1485.5,547.4 L1486.2,566.3 L1486.9,571.0 L1487.6,580.0 L1488.3,573.1 L1489.0,559.5 L1489.7,565.8 L1490.4,572.0 L1491.1,571.2 L1491.8,558.8 L1492.5,553.3 L1493.2,552.9 L1493.9,585.3 L1494.6,570.5 L1495.3,567.6 L1496.0,577.0 L1496.7,582.8 L1497.0,574.9 L1497.4,565.9 L1498.1,549.4 L1498.8,573.6 L1499.5,563.4 L1500.2,573.0 L1500.9,567.0 L1501.6,562.4 L1502.3,569.4 L1503.0,569.2 L1503.7,591.8 L1504.4,589.5 L1505.1,559.8 L1505.8,585.4 L1506.5,579.9 L1507.2,589.7 L1507.9,587.3 L1508.6,587.2 L1509.3,567.3 L1510.0,596.0 L1510.7,595.8 L1511.4,564.2 L1512.1,602.1 L1512.8,572.9 L1513.5,575.2 L1514.2,578.4 L1514.9,577.5 L1515.6,593.2 L1516.3,592.7 L1517.0,567.3 L1517.7,585.4 L1518.4,594.4 L1519.1,598.4 L1519.8,596.6 L1520.5,583.1 L1521.2,603.6 L1522.0,600.5 L1522.6,591.8 L1523.3,608.1 L1524.0,605.3 L1524.7,601.0 L1525.4,587.3 L1526.1,600.0 L1526.8,596.2 L1527.5,596.5 L1528.2,603.7 L1528.9,612.5 L1529.6,607.3 L1530.3,584.7 L1531.0,605.2 L1531.7,580.8 L1532.4,584.1 L1533.1,589.7 L1533.8,583.5 L1534.5,596.7 L1535.0,596.6 L1535.9,607.6 L1536.6,606.8 L1537.3,609.5 L1538.0,604.7 L1538.7,615.9 L1539.4,601.8 L1540.1,601.0 L1540.8,597.0 L1541.5,600.1 L1542.2,604.3 L1542.9,608.3 L1543.6,583.6 L1544.3,612.7 L1545.0,615.6 L1545.7,606.3 L1546.4,594.3 L1547.0,611.7 L1547.8,591.0 L1548.5,586.6 L1549.2,598.0 L1549.9,590.5 L1550.6,614.8 L1551.3,612.6 L1552.0,592.9 L1552.7,619.5 L1553.4,593.9 L1554.1,600.5 L1554.8,589.7 L1555.5,592.9 L1556.2,582.5 L1556.9,620.0 L1557.6,594.7 L1558.3,604.1 L1559.0,615.5 L1559.7,598.4 L1560.0,594.4 L1560.4,596.5 L1561.1,591.6 L1561.8,588.5 L1562.5,590.5 L1563.2,597.7 L1563.9,601.4 L1564.6,585.6 L1565.3,588.7 L1566.0,590.0 L1566.7,603.4 L1567.4,610.6 L1568.1,597.0 L1568.8,617.7 L1569.5,591.5 L1570.2,608.7 L1570.9,611.2 L1571.6,604.8 L1572.3,603.3 L1573.0,604.5 L1573.7,586.4 L1574.4,592.8 L1575.1,593.2 L1575.8,583.6 L1576.5,592.7 L1577.2,596.6 L1577.9,609.6 L1578.6,583.6 L1579.3,576.1 L1580.0,602.7 L1580.7,593.0 L1581.4,580.9 L1582.1,598.8 L1582.8,600.7 L1583.5,587.2 L1584.2,599.1 L1585.0,601.9 L1585.6,615.1 L1586.3,589.2 L1587.0,613.1 L1587.7,593.0 L1588.4,603.0 L1589.1,587.3 L1589.8,585.1 L1590.5,609.1 L1591.2,602.5 L1591.9,596.4 L1592.6,610.3 L1593.3,611.5 L1594.0,576.7 L1594.7,578.9 L1595.4,606.3 L1596.1,590.5 L1596.8,604.1 L1597.5,582.7 L1598.0,605.2 L1598.9,599.4 L1599.6,589.2 L1600.3,574.6 L1601.0,585.2 L1601.7,582.6 L1602.4,578.1 L1603.1,595.6 L1603.8,583.5 L1604.5,582.1 L1605.2,599.2 L1605.9,593.7 L1606.6,572.2 L1607.3,579.8 L1608.0,569.9 L1608.7,560.4 L1609.4,580.0 L1610.0,574.7 L1610.8,575.5 L1611.5,557.2 L1612.2,561.4 L1612.9,577.4 L1613.6,562.3 L1614.3,568.4 L1615.0,556.5 L1615.7,540.6 L1616.4,558.6 L1617.0,554.1 L1617.8,533.5 L1618.5,547.9 L1619.2,537.1 L1619.9,551.0 L1620.6,543.3 L1621.3,521.0 L1622.0,526.5 L1622.7,539.7 L1623.4,529.5 L1624.1,536.1 L1625.0,519.1 L1625.5,529.9 L1626.2,525.9 L1626.9,525.3 L1627.6,510.1 L1628.0,516.7 L1628.3,515.6 L1629.0,513.3 L1629.7,495.1 L1630.4,495.5 L1631.1,480.2 L1631.5,488.4 L1631.8,487.8 L1632.5,470.7 L1633.2,469.3 L1633.9,457.6 L1634.5,454.4 L1635.3,431.9 L1636.0,430.5 L1636.5,421.3 L1637.4,407.5 L1638.1,404.0 L1639.0,386.3 L1639.5,371.2 L1640.2,366.4 L1640.8,358.4 L1641.6,340.1 L1642.4,325.0 L1643.0,327.0 L1643.7,315.8 L1644.4,306.3 L1645.1,304.5 L1645.5,298.2 L1645.8,293.5 L1646.5,282.9 L1647.2,273.1 L1647.5,265.6 L1647.9,263.9 L1648.6,257.8 L1649.3,252.7 L1650.0,248.5 L1650.7,244.7 L1651.4,242.4 L1652.0,239.4 L1652.8,243.3 L1653.5,244.5 L1654.2,248.2 L1654.5,249.0 L1654.9,251.7 L1655.6,257.8 L1656.5,269.4 L1657.0,276.3 L1657.7,284.7 L1658.4,296.9 L1659.0,307.7 L1659.8,325.6 L1660.5,337.7 L1661.3,346.8 L1661.9,360.7 L1662.6,370.1 L1663.0,374.7 L1663.3,379.8 L1664.0,383.5 L1664.7,387.2 L1665.4,404.0 L1665.8,402.6 L1666.1,410.3 L1666.8,408.9 L1667.5,420.3 L1668.2,435.4 L1669.0,445.3 L1669.6,437.2 L1670.3,442.1 L1671.0,454.7 L1671.6,473.6 L1672.4,478.6 L1673.1,467.9 L1673.8,476.9 L1674.5,491.4 L1675.0,499.8 L1675.9,503.6 L1676.6,519.4 L1677.0,531.8 L1677.3,509.5 L1678.0,525.2 L1678.7,519.0 L1679.0,527.0 L1679.4,536.4 L1680.1,539.1 L1681.0,531.3 L1681.5,533.4 L1682.2,548.9 L1682.9,554.2 L1683.6,558.8 L1684.0,546.5 L1684.3,544.1 L1685.0,568.2 L1685.7,556.6 L1686.4,562.8 L1687.1,557.0 L1687.8,587.7 L1688.5,565.2 L1689.2,555.2 L1690.0,590.0 L1690.6,593.1 L1691.3,567.2 L1692.0,569.9 L1692.7,598.8 L1693.4,582.3 L1694.1,570.6 L1694.8,615.9 L1695.5,576.6 L1696.2,600.4 L1696.9,601.7 L1697.6,576.1 L1698.3,587.7 L1699.0,611.9 L1699.7,573.4 L1700.0,574.7 L1700.4,610.7 L1701.1,595.3 L1701.8,617.0 L1702.5,579.2 L1703.2,584.0 L1703.9,608.0 L1704.6,628.9 L1705.3,611.1 L1706.0,627.1 L1706.7,599.4 L1707.4,591.1 L1708.1,615.6 L1708.8,632.8 L1709.5,615.0 L1710.0,603.1 L1710.9,619.8 L1711.6,631.9 L1712.3,633.8 L1713.0,629.4 L1713.7,621.7 L1714.4,614.0 L1715.1,620.4 L1715.8,608.8 L1716.5,630.9 L1717.2,614.9 L1717.9,594.1 L1718.6,620.6 L1719.3,630.0 L1720.0,638.2 L1720.7,637.6 L1721.4,608.9 L1722.1,608.3 L1722.8,628.6 L1723.5,618.0 L1724.2,618.3 L1724.9,631.8 L1725.6,611.1 L1726.3,611.9 L1727.0,638.1 L1727.7,621.6 L1728.4,601.9 L1729.1,642.0 L1730.0,611.3 L1730.5,618.3 L1731.2,633.3 L1731.9,623.6 L1732.6,637.6 L1733.3,635.9 L1734.0,632.5 L1734.7,616.2 L1735.4,640.0 L1736.1,616.3 L1736.8,641.6 L1737.5,636.0 L1738.2,637.1 L1738.9,619.7 L1739.6,628.0 L1740.0,631.6 L1740.3,641.7 L1741.0,625.8 L1741.7,631.7 L1742.4,642.8 L1743.1,623.7 L1743.8,641.1 L1744.5,626.8 L1745.2,638.5 L1745.9,639.3 L1746.6,625.6 L1747.3,617.5 L1748.0,642.6 L1748.7,623.1 L1749.4,649.5 L1750.0,639.7 L1750.8,633.5 L1751.5,617.4 L1752.2,633.1 L1752.9,646.1 L1753.6,636.1 L1754.3,620.3 L1755.0,627.4 L1755.7,628.4 L1756.4,647.9 L1757.1,631.1 L1757.8,648.0 L1758.5,646.4 L1759.2,644.4 L1760.0,639.1 L1760.6,637.1 L1761.3,627.5 L1762.0,652.1 L1762.7,641.5 L1763.4,647.9 L1764.1,656.9 L1764.8,636.5 L1765.5,625.3 L1766.2,649.2 L1766.9,650.6 L1767.6,627.3 L1768.3,627.5 L1769.0,640.4 L1769.7,650.2 L1770.0,636.7 L1770.4,635.4 L1771.1,659.7 L1771.8,653.8 L1772.5,639.5 L1773.2,628.6 L1773.9,648.8 L1774.6,636.6 L1775.3,632.4 L1776.0,649.2 L1776.7,646.2 L1777.4,628.7 L1778.1,646.3 L1778.8,653.5 L1779.5,645.9 L1780.0,658.1 L1780.9,654.2 L1781.6,649.9 L1782.3,642.8 L1783.0,648.8 L1783.7,633.7 L1784.4,637.1 L1785.1,644.4 L1785.8,633.6 L1786.5,633.1 L1787.2,640.8 L1787.9,634.2 L1788.6,647.4 L1789.3,647.2 L1790.0,657.4 L1790.7,649.1 L1791.4,653.6 L1792.1,641.3 L1792.8,660.3 L1793.5,638.9 L1794.2,653.2 L1794.9,637.3 L1795.6,654.2 L1796.3,647.8 L1797.0,640.2 L1797.7,653.2 L1798.4,647.1 L1799.1,643.1 L1800.0,640.3 L1800.5,655.8 L1801.2,653.3 L1801.9,655.2 L1802.6,641.1 L1803.3,642.1 L1804.0,637.8 L1804.7,641.8 L1805.4,644.3 L1806.1,657.7 L1806.8,650.6 L1807.5,648.0 L1808.2,639.8 L1808.9,652.2 L1809.6,647.1 L1810.0,656.3 L1810.3,644.9 L1811.0,642.1 L1811.7,645.7 L1812.4,656.4 L1813.1,642.3 L1813.8,663.3 L1814.5,646.6 L1815.2,664.0 L1815.9,647.7 L1816.6,635.1 L1817.3,663.7 L1818.0,664.5 L1818.7,635.1 L1819.4,638.6 L1820.0,648.4 L1820.8,665.1 L1821.5,671.3 L1822.2,654.4 L1822.9,639.1 L1823.6,659.2 L1824.3,663.9 L1825.0,661.7 L1825.7,659.8 L1826.4,656.6 L1827.1,653.4 L1827.8,666.8 L1828.5,641.3 L1829.2,665.5 L1830.0,662.9 L1830.6,655.8 L1831.3,666.9 L1832.0,667.7 L1832.7,650.1 L1833.4,642.2 L1834.1,641.8 L1834.8,636.4 L1835.5,642.5 L1836.2,662.2 L1836.9,635.8 L1837.6,661.3 L1838.3,658.7 L1839.0,643.8 L1839.7,637.6 L1840.0,643.5 L1840.4,645.6 L1841.1,662.6 L1841.8,646.2 L1842.5,638.5 L1843.2,646.4 L1843.9,650.1 L1844.6,656.2 L1845.3,644.0 L1846.0,641.2 L1846.7,662.3 L1847.4,656.9 L1848.1,653.9 L1848.8,657.1 L1849.5,646.0 L1850.0,652.2 L1850.9,647.4 L1851.6,655.1 L1852.3,652.4 L1853.0,666.6 L1853.7,664.9 L1854.4,641.3 L1855.1,641.6 L1855.8,644.9 L1856.5,634.6 L1857.2,642.3 L1857.9,655.8 L1858.6,641.7 L1859.3,658.0 L1860.0,662.2 L1860.7,667.6 L1861.4,645.9 L1862.1,664.9 L1862.8,658.5 L1863.5,641.7 L1864.2,645.8 L1864.9,647.7 L1865.6,652.7 L1866.3,655.8 L1867.0,660.6 L1867.7,660.5 L1868.4,649.6 L1869.1,639.2 L1870.0,650.1 L1870.5,642.6 L1871.2,661.0 L1871.9,641.1 L1872.6,638.0 L1873.3,657.9 L1874.0,650.9 L1874.7,653.0 L1875.4,650.1 L1876.1,644.7 L1876.8,635.0 L1877.5,640.1 L1878.2,650.8 L1878.9,646.6 L1879.6,648.8 L1880.0,662.0 L1880.3,658.2 L1881.0,662.4 L1881.7,635.9 L1882.4,635.8 L1883.1,635.3 L1883.8,649.6 L1884.5,656.1 L1885.2,637.6 L1885.9,643.5 L1886.6,664.8 L1887.3,635.9 L1888.0,660.8 L1888.7,654.0 L1889.4,659.3 L1890.0,658.5 L1890.8,647.3 L1891.5,647.1 L1892.2,657.0 L1892.9,638.5 L1893.6,633.5 L1894.3,635.2 L1895.0,634.8 L1895.7,655.1 L1896.4,666.1 L1897.1,648.3 L1897.8,663.3 L1898.5,661.3 L1899.2,671.0 L1900.0,644.6 L1900.6,640.0 L1901.3,656.3 L1902.0,631.8 L1902.7,637.7 L1903.4,664.4 L1904.1,630.4 L1904.8,645.1 L1905.5,627.1 L1906.2,647.0 L1906.9,642.9 L1907.6,642.7 L1908.3,620.9 L1909.0,640.2 L1909.7,648.4 L1910.0,625.8 L1910.4,618.5 L1911.1,638.9 L1911.8,645.4 L1912.5,631.7 L1913.2,635.4 L1913.9,636.6 L1914.6,645.7 L1915.3,632.6 L1916.0,621.8 L1916.7,647.3 L1917.4,628.9 L1918.1,636.4 L1918.8,633.3 L1919.5,623.1 L1920.0,632.0 L1920.9,621.1 L1921.6,620.0 L1922.3,655.7 L1923.0,638.0 L1923.7,631.3 L1924.4,629.3 L1925.1,642.4 L1925.8,648.0 L1926.5,630.9 L1927.2,649.2 L1927.9,620.9 L1928.6,625.6 L1929.3,639.2 L1930.0,637.3 L1930.7,644.7 L1931.4,630.9 L1932.1,635.1 L1932.8,648.3 L1933.5,635.5 L1934.2,650.1 L1934.9,635.5 L1935.6,643.3 L1936.3,643.2 L1937.0,648.6 L1937.7,634.7 L1938.4,632.8 L1939.1,639.1 L1940.0,656.7 L1940.5,626.4 L1941.2,653.2 L1941.9,645.9 L1942.6,647.1 L1943.3,638.8 L1944.0,650.0 L1944.7,634.6 L1945.4,652.5 L1946.1,662.4 L1946.8,661.8 L1947.5,664.2 L1948.2,650.2 L1948.9,646.0 L1949.6,665.2 L1950.0,663.2 L1950.3,664.5 L1951.0,665.3 L1951.7,659.0 L1952.4,654.3 L1953.1,642.9 L1953.8,655.5 L1954.5,652.9 L1955.2,649.0 L1955.9,671.9 L1956.6,656.1 L1957.3,652.3 L1958.0,660.0 L1958.7,649.1 L1959.4,645.5 L1960.0,658.9 L1960.8,663.4 L1961.5,644.1 L1962.2,656.0 L1962.9,644.5 L1963.6,665.2 L1964.3,657.8 L1965.0,675.2 L1965.7,650.6 L1966.4,663.3 L1967.1,646.1 L1967.8,669.7 L1968.5,667.9 L1969.2,646.6 L1970.0,676.5 L1970.6,643.9 L1971.3,654.6 L1972.0,670.6 L1972.7,654.7 L1973.4,656.6 L1974.1,640.4 L1974.8,666.5 L1975.5,643.5 L1976.2,675.1 L1976.9,643.6 L1977.6,652.3 L1978.3,674.6 L1979.0,669.7 L1979.7,643.3 L1980.0,653.9 L1980.4,660.8 L1981.1,650.0 L1981.8,653.5 L1982.5,660.2 L1983.2,658.1 L1983.9,666.3 L1984.6,672.9 L1985.3,649.9 L1986.0,640.5 L1986.7,661.4 L1987.4,659.8 L1988.1,627.1 L1988.8,624.9 L1989.5,633.7 L1990.0,651.9 L1990.9,665.8 L1991.6,643.1 L1992.3,637.5 L1993.0,643.8 L1993.7,668.5 L1994.4,654.2 L1995.1,643.0 L1995.8,651.8 L1996.5,633.0 L1997.2,639.1 L1997.9,663.3 L1998.6,667.4 L1999.3,645.2 L2000.0,661.3 L2000.7,636.4 L2001.4,638.8 L2002.1,661.7 L2002.8,658.4 L2003.5,652.7 L2004.2,651.0 L2004.9,642.2 L2005.6,659.0 L2006.3,645.4 L2007.0,657.5 L2007.7,671.4 L2008.4,649.8 L2009.1,655.7 L2010.0,670.0 L2010.5,660.9 L2011.2,655.5 L2011.9,651.1 L2012.6,651.6 L2013.3,646.2 L2014.0,656.3 L2014.7,667.5 L2015.4,668.6 L2016.1,675.6 L2016.8,667.9 L2017.5,665.0 L2018.2,652.5 L2018.9,666.3 L2019.6,674.4 L2020.0,651.1 L2020.3,648.2 L2021.0,668.0 L2021.7,679.8 L2022.4,649.6 L2023.1,668.3 L2023.8,670.4 L2024.5,652.5 L2025.2,666.5 L2025.9,654.7 L2026.6,679.5 L2027.3,668.4 L2028.0,658.6 L2028.7,661.6 L2029.4,658.2 L2030.1,660.6 L2030.8,666.4 L2031.5,676.4 L2032.2,657.0 L2032.9,652.2 L2033.6,661.6 L2034.3,674.0 L2035.0,673.1" fill="none" stroke="#000" stroke-width="9" stroke-linejoin="round" stroke-linecap="round"/>
<path d="M194.0,1120.6 L194.7,1156.2 L195.4,1143.5 L196.1,1121.9 L196.8,1144.9 L197.5,1158.5 L198.2,1120.5 L198.9,1148.7 L199.6,1134.1 L200.3,1142.2 L201.0,1121.3 L201.7,1125.7 L202.4,1150.5 L203.1,1142.5 L203.8,1129.2 L204.5,1130.3 L205.2,1141.6 L205.9,1160.4 L206.6,1146.7 L207.3,1126.1 L208.0,1147.0 L208.7,1128.9 L209.4,1143.7 L210.1,1153.6 L210.8,1148.9 L211.5,1115.8 L212.0,1131.0 L212.9,1117.2 L213.6,1148.2 L214.3,1113.7 L215.0,1134.6 L215.7,1131.2 L216.4,1141.7 L217.1,1139.3 L217.8,1141.2 L218.5,1153.6 L219.2,1154.4 L219.9,1156.6 L220.6,1121.1 L221.3,1131.0 L222.0,1121.8 L222.7,1159.2 L223.0,1128.0 L223.4,1133.1 L224.1,1126.1 L224.8,1136.2 L225.5,1150.2 L226.2,1128.7 L226.9,1156.1 L227.6,1119.4 L228.3,1141.6 L229.0,1120.1 L229.7,1147.4 L230.4,1125.1 L231.1,1129.2 L231.8,1114.3 L232.5,1149.5 L233.2,1118.9 L234.0,1119.0 L234.6,1121.2 L235.3,1130.2 L236.0,1140.6 L236.7,1141.5 L237.4,1140.7 L238.1,1122.6 L238.8,1129.2 L239.5,1143.4 L240.2,1133.5 L240.9,1129.1 L241.6,1115.7 L242.3,1148.3 L243.0,1121.8 L243.7,1126.9 L244.4,1157.3 L245.0,1147.1 L245.8,1155.8 L246.5,1149.9 L247.2,1144.6 L247.9,1118.7 L248.6,1137.0 L249.3,1118.9 L250.0,1130.6 L250.7,1116.9 L251.4,1147.9 L252.1,1113.0 L252.8,1135.2 L253.5,1147.0 L254.0,1134.6 L254.9,1144.3 L255.6,1137.8 L256.3,1115.5 L257.0,1143.6 L257.7,1139.8 L258.4,1143.0 L259.1,1129.8 L259.8,1105.7 L260.5,1114.9 L261.2,1111.6 L261.9,1136.7 L262.6,1132.5 L263.3,1125.0 L264.0,1112.1 L264.7,1129.7 L265.4,1120.9 L266.1,1137.0 L267.0,1130.7 L267.5,1141.6 L268.2,1137.5 L268.9,1121.0 L269.6,1149.8 L270.3,1116.7 L271.0,1129.9 L271.7,1125.2 L272.4,1116.6 L273.1,1102.1 L273.8,1148.1 L274.5,1146.1 L275.2,1129.9 L275.9,1130.3 L276.6,1134.2 L277.3,1127.0 L278.0,1135.6 L278.7,1143.9 L279.4,1116.4 L280.1,1103.1 L280.8,1102.7 L281.5,1096.6 L282.2,1116.1 L282.9,1129.8 L283.6,1126.6 L284.3,1117.2 L285.0,1132.9 L285.7,1123.2 L286.4,1103.6 L287.1,1125.7 L287.8,1106.9 L288.5,1119.3 L289.0,1090.5 L289.9,1141.8 L290.6,1120.7 L291.3,1133.1 L292.0,1098.0 L292.7,1094.0 L293.4,1121.8 L294.1,1111.6 L294.8,1106.9 L295.5,1120.9 L296.2,1089.7 L296.9,1119.9 L297.6,1112.7 L298.3,1120.9 L299.0,1112.2 L299.7,1084.0 L300.0,1103.7 L300.4,1124.8 L301.1,1085.8 L301.8,1100.8 L302.5,1106.0 L303.2,1101.4 L303.9,1087.1 L304.6,1073.8 L305.3,1084.7 L306.0,1090.3 L306.7,1084.4 L307.4,1108.1 L308.1,1108.3 L308.8,1087.0 L309.5,1077.4 L310.2,1082.7 L310.9,1110.1 L311.6,1103.4 L312.3,1085.1 L313.0,1087.6 L313.7,1097.2 L314.4,1108.4 L315.0,1086.7 L315.8,1085.8 L316.5,1110.6 L317.2,1080.6 L317.9,1102.3 L318.6,1070.0 L319.3,1105.3 L320.0,1082.9 L320.7,1097.6 L321.4,1077.7 L322.1,1106.9 L322.8,1106.2 L323.5,1099.8 L324.2,1105.2 L324.9,1103.9 L325.6,1077.8 L326.3,1107.5 L327.0,1102.8 L327.7,1074.4 L328.4,1090.9 L329.1,1096.0 L330.0,1102.1 L330.5,1097.6 L331.2,1085.5 L331.9,1076.9 L332.6,1114.0 L333.3,1090.6 L334.0,1081.5 L334.7,1093.6 L335.4,1107.5 L336.1,1082.6 L336.8,1095.1 L337.5,1085.2 L338.2,1113.6 L338.9,1092.3 L339.6,1091.2 L340.3,1117.6 L341.0,1104.4 L341.7,1116.9 L342.4,1111.9 L343.1,1109.2 L344.0,1109.6 L344.5,1109.2 L345.2,1100.7 L345.9,1112.2 L346.6,1120.1 L347.3,1091.0 L348.0,1124.5 L348.7,1116.3 L349.4,1091.0 L350.1,1099.7 L350.8,1098.3 L351.5,1116.4 L352.2,1088.7 L352.9,1130.3 L353.6,1090.9 L354.3,1102.7 L355.0,1100.7 L355.7,1111.1 L356.4,1110.0 L357.1,1089.1 L357.8,1086.5 L358.5,1090.4 L359.2,1092.7 L359.9,1098.2 L360.6,1123.7 L361.3,1107.0 L362.0,1126.6 L362.7,1132.8 L363.0,1091.9 L363.4,1118.3 L364.1,1119.4 L364.8,1125.3 L365.5,1093.4 L366.2,1120.1 L366.9,1078.5 L367.6,1110.2 L368.3,1087.1 L369.0,1091.3 L369.7,1119.3 L370.4,1093.6 L371.1,1109.8 L371.8,1108.5 L372.5,1090.3 L373.2,1080.8 L373.9,1115.9 L374.6,1116.1 L375.3,1111.1 L376.0,1091.8 L376.7,1106.1 L377.4,1116.9 L378.1,1083.9 L378.8,1097.0 L379.5,1089.2 L380.2,1118.6 L381.0,1122.4 L381.6,1126.2 L382.3,1115.9 L383.0,1089.6 L383.7,1094.1 L384.4,1104.9 L385.1,1097.7 L385.8,1086.5 L386.5,1083.2 L387.2,1111.9 L387.9,1118.5 L388.6,1120.2 L389.3,1111.4 L390.0,1122.6 L390.7,1108.2 L391.4,1111.6 L392.0,1089.1 L392.8,1116.6 L393.5,1118.9 L394.2,1115.3 L394.9,1108.9 L395.6,1104.0 L396.3,1096.3 L397.0,1083.2 L397.7,1093.9 L398.4,1109.1 L399.1,1091.6 L399.8,1098.5 L400.5,1104.2 L401.2,1096.0 L401.9,1124.3 L402.6,1095.4 L403.3,1104.3 L404.0,1115.4 L404.7,1107.9 L405.4,1125.7 L406.1,1099.2 L406.8,1091.4 L407.5,1116.2 L408.2,1106.1 L408.9,1100.0 L409.6,1097.6 L410.3,1129.9 L411.0,1105.7 L411.7,1127.0 L412.4,1110.7 L413.1,1120.8 L413.8,1112.0 L414.5,1090.6 L415.2,1093.2 L415.9,1103.8 L416.6,1120.1 L417.3,1108.7 L418.0,1120.1 L418.7,1105.3 L419.4,1124.4 L420.1,1128.4 L420.8,1114.4 L421.5,1114.2 L422.2,1128.8 L422.9,1108.0 L423.6,1124.9 L424.3,1103.1 L425.0,1124.0 L425.7,1134.9 L426.4,1102.5 L427.1,1111.7 L427.8,1120.7 L428.5,1127.0 L429.0,1090.8 L429.9,1121.2 L430.6,1126.7 L431.3,1109.1 L432.0,1118.4 L432.7,1097.3 L433.4,1088.4 L434.1,1079.0 L434.8,1115.7 L435.5,1120.4 L436.2,1122.5 L436.9,1101.9 L437.6,1124.9 L438.3,1118.1 L439.0,1104.5 L439.7,1124.0 L440.4,1096.2 L441.1,1108.5 L441.8,1100.9 L442.5,1112.9 L443.2,1102.3 L443.9,1109.8 L444.6,1073.8 L445.3,1112.7 L446.0,1073.9 L446.7,1120.4 L447.0,1103.1 L447.4,1096.2 L448.1,1077.8 L448.8,1111.5 L449.5,1113.8 L450.2,1114.1 L450.9,1107.4 L451.6,1104.3 L452.3,1068.8 L453.0,1107.8 L453.7,1090.0 L454.4,1085.1 L455.1,1089.5 L455.8,1084.1 L456.5,1103.5 L457.2,1104.3 L457.9,1115.2 L458.6,1110.8 L459.3,1083.6 L460.0,1116.4 L460.7,1104.0 L461.4,1098.3 L462.1,1109.5 L462.8,1094.5 L463.5,1079.4 L464.2,1116.2 L464.9,1108.9 L465.6,1093.8 L466.0,1088.5 L466.3,1077.0 L467.0,1084.9 L467.7,1116.0 L468.4,1101.7 L469.1,1117.6 L469.8,1101.4 L470.5,1088.3 L471.2,1106.7 L471.9,1083.7 L472.6,1083.1 L473.3,1070.8 L474.0,1111.7 L474.7,1090.7 L475.4,1080.8 L476.1,1083.1 L476.8,1104.1 L477.5,1114.6 L478.2,1110.8 L478.9,1106.3 L479.6,1097.0 L480.3,1092.5 L481.0,1109.4 L481.7,1112.2 L482.4,1078.7 L483.1,1093.0 L484.0,1113.5 L484.5,1082.2 L485.2,1092.9 L485.9,1099.1 L486.6,1099.0 L487.3,1076.7 L488.0,1078.7 L488.7,1080.5 L489.4,1101.9 L490.1,1104.5 L490.8,1114.5 L491.5,1089.3 L492.2,1099.8 L492.9,1088.9 L493.6,1089.3 L494.3,1078.8 L495.0,1077.1 L495.7,1103.7 L496.4,1083.1 L497.1,1076.4 L497.8,1107.4 L498.5,1087.4 L499.2,1112.1 L499.9,1106.8 L500.6,1080.4 L501.3,1076.9 L502.0,1086.1 L502.7,1097.6 L503.4,1095.8 L504.1,1080.2 L504.8,1084.5 L505.5,1113.0 L506.2,1088.3 L506.9,1085.4 L507.6,1101.5 L508.3,1088.1 L509.0,1093.1 L509.7,1107.3 L510.4,1106.9 L511.1,1074.2 L511.8,1094.3 L512.5,1104.5 L513.2,1094.2 L513.9,1085.7 L514.6,1073.5 L515.3,1106.9 L516.0,1088.7 L516.7,1084.9 L517.4,1114.7 L518.1,1109.4 L518.8,1098.4 L519.5,1086.4 L520.2,1092.4 L521.0,1088.7 L521.6,1076.1 L522.3,1091.5 L523.0,1111.4 L523.7,1074.4 L524.4,1098.5 L525.1,1096.6 L525.8,1089.8 L526.5,1079.1 L527.2,1110.0 L527.9,1102.3 L528.6,1086.8 L529.3,1101.8 L530.0,1099.0 L530.7,1080.3 L531.4,1101.8 L532.1,1080.0 L532.8,1083.2 L533.5,1099.7 L534.2,1094.8 L534.9,1108.1 L535.6,1093.9 L536.3,1100.1 L537.0,1077.6 L537.7,1091.8 L538.4,1093.8 L539.1,1095.0 L539.8,1094.7 L540.5,1089.0 L541.2,1104.8 L541.9,1104.9 L542.6,1105.2 L543.3,1100.5 L544.0,1090.7 L544.7,1069.5 L545.4,1091.5 L546.1,1110.5 L546.8,1091.1 L547.5,1117.8 L548.2,1096.3 L548.9,1108.8 L549.6,1084.0 L550.3,1091.6 L551.0,1097.9 L551.7,1100.9 L552.4,1075.1 L553.1,1115.9 L553.8,1098.1 L554.5,1089.0 L555.2,1082.5 L555.9,1085.1 L556.6,1109.8 L557.3,1086.6 L558.0,1116.0 L558.7,1094.8 L559.4,1094.5 L560.1,1105.6 L560.8,1074.7 L561.5,1092.9 L562.2,1089.9 L562.9,1107.2 L563.6,1089.0 L564.3,1094.4 L565.0,1093.3 L565.7,1103.4 L566.4,1107.6 L567.1,1092.6 L567.8,1077.2 L568.5,1100.4 L569.2,1079.7 L569.9,1102.9 L570.6,1083.5 L571.3,1102.0 L572.0,1082.9 L572.7,1113.0 L573.4,1083.5 L574.1,1108.5 L574.8,1107.6 L575.5,1088.3 L576.2,1093.8 L576.9,1094.3 L577.6,1107.4 L578.3,1087.2 L579.0,1082.1 L579.7,1081.4 L580.4,1078.9 L581.1,1070.7 L581.8,1078.9 L582.5,1096.7 L583.2,1100.2 L583.9,1067.5 L584.6,1074.3 L585.3,1097.2 L586.0,1079.5 L586.7,1085.3 L587.0,1106.5 L587.4,1079.8 L588.1,1101.8 L588.8,1079.8 L589.5,1107.0 L590.2,1074.2 L590.9,1105.4 L591.6,1078.6 L592.3,1101.3 L593.0,1101.4 L593.7,1097.0 L594.4,1086.0 L595.1,1102.6 L595.8,1083.0 L596.5,1107.4 L597.2,1103.1 L597.9,1080.3 L598.6,1077.7 L599.3,1074.2 L600.0,1111.1 L600.7,1079.6 L601.0,1077.9 L601.4,1080.6 L602.1,1071.8 L602.8,1087.2 L603.5,1101.5 L604.2,1078.8 L604.9,1068.2 L605.6,1103.0 L606.3,1086.1 L607.0,1088.3 L607.7,1089.0 L608.4,1100.9 L609.1,1081.0 L609.8,1068.8 L610.5,1088.0 L611.2,1098.6 L611.9,1066.8 L612.6,1085.6 L613.3,1073.5 L614.0,1093.3 L614.7,1069.0 L615.0,1071.2 L615.4,1093.3 L616.1,1097.0 L616.8,1084.5 L617.5,1080.8 L618.2,1083.6 L618.9,1085.4 L619.6,1080.6 L620.3,1095.5 L621.0,1078.0 L621.7,1090.2 L622.4,1095.3 L623.1,1072.7 L623.8,1072.8 L624.5,1090.3 L625.2,1063.7 L625.9,1092.2 L626.6,1062.9 L627.3,1078.4 L628.0,1057.0 L628.7,1089.9 L629.0,1088.9 L629.4,1060.2 L630.1,1070.8 L630.8,1063.7 L631.5,1072.6 L632.2,1082.5 L632.9,1077.3 L633.6,1055.5 L634.3,1063.8 L635.0,1082.6 L635.7,1061.3 L636.4,1077.7 L637.1,1054.2 L637.8,1055.6 L638.5,1068.5 L639.2,1067.3 L639.9,1081.1 L640.6,1060.2 L641.3,1081.8 L642.0,1047.8 L642.7,1062.6 L643.0,1054.7 L643.4,1066.1 L644.1,1047.4 L644.8,1083.6 L645.5,1088.7 L646.2,1079.2 L646.9,1042.9 L647.6,1091.4 L648.3,1047.4 L649.0,1042.0 L649.7,1041.7 L650.4,1029.9 L651.1,1079.7 L651.8,1058.9 L652.5,1045.5 L653.2,1058.0 L653.9,1032.8 L654.6,1046.2 L655.3,1055.7 L656.0,1052.8 L656.7,1081.8 L657.4,1051.8 L658.0,1039.1 L658.8,1035.7 L659.5,1034.7 L660.2,1060.2 L660.9,1030.4 L661.6,1075.3 L662.3,1087.2 L663.0,1067.9 L663.7,1050.1 L664.4,1036.0 L665.1,1030.7 L665.8,1036.2 L666.5,1063.1 L667.2,1048.7 L667.9,1068.0 L668.6,1034.9 L669.3,1039.1 L670.0,1064.5 L670.7,1058.8 L671.4,1054.7 L672.0,1037.2 L672.8,1063.6 L673.5,1058.7 L674.2,1044.1 L674.9,1055.4 L675.6,1029.6 L676.3,1049.7 L677.0,1035.6 L677.7,1066.0 L678.4,1049.2 L679.1,1046.3 L679.8,1062.7 L680.5,1039.1 L681.2,1050.2 L681.9,1067.8 L682.6,1058.2 L683.3,1055.3 L684.0,1044.9 L684.7,1070.5 L685.4,1057.4 L686.0,1059.9 L686.8,1066.7 L687.5,1037.3 L688.2,1051.9 L688.9,1049.1 L689.6,1059.2 L690.3,1051.7 L691.0,1042.3 L691.7,1039.8 L692.4,1029.8 L693.1,1037.3 L693.8,1071.1 L694.5,1041.5 L695.2,1068.2 L695.9,1062.8 L696.6,1058.6 L697.3,1037.1 L698.0,1041.9 L698.7,1034.9 L699.4,1023.9 L700.0,1076.2 L700.8,1033.8 L701.5,1040.2 L702.2,1059.3 L702.9,1062.6 L703.6,1076.8 L704.3,1035.2 L705.0,1038.5 L705.7,1052.5 L706.4,1054.9 L707.1,1053.7 L707.8,1063.5 L708.5,1029.6 L709.2,1078.0 L709.9,1073.2 L710.6,1077.9 L711.3,1074.6 L712.0,1046.7 L712.7,1046.2 L713.4,1070.8 L714.0,1078.8 L714.8,1076.1 L715.5,1075.6 L716.2,1067.9 L716.9,1054.5 L717.6,1048.9 L718.3,1041.1 L719.0,1066.0 L719.7,1067.5 L720.4,1059.9 L721.1,1060.3 L721.8,1086.2 L722.5,1042.4 L723.2,1058.2 L723.9,1079.6 L724.6,1076.5 L725.3,1058.6 L726.0,1067.2 L726.7,1070.0 L727.4,1083.7 L728.0,1041.9 L728.8,1049.6 L729.5,1078.3 L730.2,1085.6 L730.9,1076.2 L731.6,1073.2 L732.3,1055.2 L733.0,1059.8 L733.7,1037.4 L734.4,1060.6 L735.1,1060.0 L735.8,1080.4 L736.5,1063.7 L737.2,1057.3 L737.9,1057.4 L738.6,1072.8 L739.3,1048.1 L740.0,1065.3 L740.7,1072.5 L741.4,1042.6 L742.1,1054.7 L743.0,1052.0 L743.5,1056.6 L744.2,1078.4 L744.9,1059.4 L745.6,1056.4 L746.3,1059.4 L747.0,1062.1 L747.7,1074.8 L748.4,1039.1 L749.1,1076.3 L749.8,1038.9 L750.5,1040.9 L751.2,1072.7 L751.9,1044.7 L752.6,1054.0 L753.3,1080.5 L754.0,1076.2 L754.7,1055.3 L755.4,1053.8 L756.1,1045.9 L757.0,1035.8 L757.5,1046.9 L758.2,1043.4 L758.9,1043.9 L759.6,1079.0 L760.3,1050.2 L761.0,1043.3 L761.7,1035.1 L762.4,1031.0 L763.1,1045.2 L763.8,1045.1 L764.5,1054.2 L765.2,1037.9 L765.9,1074.9 L766.6,1062.1 L767.3,1051.3 L768.0,1027.1 L768.7,1030.0 L769.4,1043.7 L770.1,1054.3 L771.0,1055.1 L771.5,1041.0 L772.2,1031.5 L772.9,1021.8 L773.6,1011.9 L774.3,1038.1 L775.0,1019.1 L775.7,1041.8 L776.4,1054.9 L777.1,1033.8 L777.8,1060.7 L778.5,1043.2 L779.2,1042.3 L779.9,1047.7 L780.6,1053.8 L781.3,1055.0 L782.0,1045.3 L782.7,1054.5 L783.4,1018.0 L784.1,1011.6 L785.0,1043.3 L785.5,1037.3 L786.2,1013.5 L786.9,1044.7 L787.6,1020.6 L788.3,996.6 L789.0,1029.9 L789.7,1018.0 L790.4,1016.8 L791.1,1044.8 L791.8,996.4 L792.5,1020.9 L793.2,1027.9 L793.9,1019.1 L794.6,1031.2 L795.0,1012.5 L795.3,1022.3 L796.0,997.9 L796.7,994.0 L797.4,1002.9 L798.1,1009.3 L798.8,1009.7 L799.5,1002.0 L800.2,998.9 L801.0,1000.1 L801.6,985.9 L802.3,986.9 L803.0,979.1 L803.7,997.6 L804.4,989.3 L805.0,970.7 L805.8,989.0 L806.5,968.0 L807.2,965.5 L808.0,963.0 L808.6,972.0 L809.3,979.4 L810.0,970.4 L810.7,955.9 L811.4,942.7 L812.0,963.6 L812.8,953.5 L813.5,942.6 L814.2,955.9 L814.9,958.5 L815.6,946.7 L816.0,947.5 L816.3,935.3 L817.0,946.3 L817.7,920.4 L818.4,940.3 L819.1,932.0 L820.0,915.7 L820.5,925.3 L821.2,901.0 L821.9,917.9 L822.6,898.0 L823.0,894.9 L823.3,908.5 L824.0,901.9 L824.7,892.7 L825.4,889.9 L826.0,887.6 L826.8,887.3 L827.5,884.5 L828.0,881.8 L828.9,889.8 L829.6,888.5 L830.3,889.7 L831.0,889.0 L831.7,889.9 L832.4,906.2 L833.1,899.8 L834.0,904.8 L834.5,917.9 L835.2,926.6 L836.0,934.1 L836.6,920.7 L837.3,941.8 L838.0,954.6 L838.7,940.3 L839.4,942.5 L840.1,962.4 L840.8,957.3 L841.7,981.0 L842.2,970.3 L842.9,980.7 L843.6,990.8 L844.3,995.8 L845.0,989.1 L845.7,1004.5 L846.4,1011.1 L847.1,1004.2 L847.8,1001.9 L848.5,1023.4 L849.2,1014.5 L849.9,1014.7 L850.7,1022.2 L851.3,1007.7 L852.0,1022.1 L852.7,1035.8 L853.4,1045.3 L854.1,1023.7 L855.0,1043.7 L855.5,1048.8 L856.2,1034.9 L856.9,1032.2 L857.6,1042.7 L858.3,1051.9 L859.0,1050.1 L859.7,1041.9 L860.0,1049.5 L860.4,1075.3 L861.1,1037.3 L861.8,1056.8 L862.5,1055.7 L863.2,1037.4 L863.9,1084.0 L864.6,1061.8 L865.0,1035.5 L865.3,1079.5 L866.0,1040.8 L866.7,1081.2 L867.4,1043.6 L868.1,1070.7 L868.8,1057.2 L869.5,1030.5 L870.0,1080.2 L870.9,1041.0 L871.6,1060.1 L872.3,1063.0 L873.0,1080.8 L873.7,1060.1 L874.4,1048.6 L875.0,1027.6 L875.8,1047.4 L876.5,1060.2 L877.2,1036.9 L877.9,1048.5 L878.6,1061.6 L879.3,1058.6 L880.0,1072.2 L880.7,1053.6 L881.4,1037.7 L882.1,1060.9 L882.8,1074.5 L883.5,1064.7 L884.2,1059.0 L885.0,1062.9 L885.6,1047.6 L886.3,1049.6 L887.0,1038.0 L887.7,1053.0 L888.4,1073.4 L889.1,1068.1 L890.0,1059.5 L890.5,1083.7 L891.2,1049.0 L891.9,1106.3 L892.6,1096.0 L893.3,1048.6 L894.0,1097.3 L894.7,1089.1 L895.0,1084.9 L895.4,1118.2 L896.1,1090.4 L896.8,1073.4 L897.5,1083.7 L898.2,1098.7 L898.9,1095.7 L899.6,1076.3 L900.0,1109.7 L900.3,1097.5 L901.0,1083.0 L901.7,1111.8 L902.4,1089.2 L903.1,1086.8 L903.8,1103.9 L904.5,1108.4 L905.0,1100.6 L905.9,1113.0 L906.6,1093.0 L907.3,1115.4 L908.0,1111.2 L908.7,1105.8 L909.4,1130.3 L910.0,1108.1 L910.8,1105.1 L911.5,1116.5 L912.2,1086.7 L912.9,1116.0 L913.6,1116.8 L914.3,1115.5 L915.0,1111.9 L915.7,1108.6 L916.4,1126.1 L917.1,1096.9 L917.8,1099.7 L918.5,1102.2 L919.2,1115.7 L920.0,1086.9 L920.6,1134.0 L921.3,1102.5 L922.0,1111.9 L922.7,1094.6 L923.4,1104.3 L924.1,1096.2 L925.0,1120.9 L925.5,1133.1 L926.2,1137.6 L926.9,1122.9 L927.6,1111.7 L928.3,1143.6 L929.0,1128.7 L929.7,1114.2 L930.0,1124.7 L930.4,1140.3 L931.1,1135.5 L931.8,1133.0 L932.5,1114.4 L933.2,1136.5 L933.9,1113.5 L934.6,1111.7 L935.0,1100.9 L935.3,1129.2 L936.0,1124.6 L936.7,1101.4 L937.4,1115.2 L938.1,1110.0 L938.8,1140.8 L939.5,1121.3 L940.0,1107.5 L940.9,1112.6 L941.6,1123.6 L942.3,1126.5 L943.0,1115.2 L943.7,1121.9 L944.4,1110.8 L945.0,1135.7 L945.8,1120.1 L946.5,1121.0 L947.2,1134.2 L947.9,1115.9 L948.6,1116.1 L949.3,1120.3 L950.0,1124.5 L950.7,1133.1 L951.4,1130.6 L952.1,1112.9 L952.8,1121.1 L953.5,1118.1 L954.2,1122.1 L955.0,1115.0 L955.6,1123.2 L956.3,1126.3 L957.0,1102.2 L957.7,1105.9 L958.4,1114.6 L959.1,1124.4 L960.0,1081.1 L960.5,1093.4 L961.2,1115.6 L961.9,1144.2 L962.6,1129.0 L963.3,1106.5 L964.0,1092.6 L964.7,1108.8 L965.0,1114.1 L965.4,1134.1 L966.1,1099.1 L966.8,1108.6 L967.5,1098.4 L968.2,1133.2 L968.9,1097.3 L969.6,1109.6 L970.0,1109.1 L970.3,1118.9 L971.0,1111.1 L971.7,1106.0 L972.4,1099.2 L973.1,1123.4 L973.8,1088.0 L974.5,1089.0 L975.0,1084.8 L975.9,1121.0 L976.6,1096.4 L977.3,1121.3 L978.0,1083.3 L978.7,1101.3 L979.4,1090.8 L980.0,1120.7 L980.8,1081.8 L981.5,1102.8 L982.2,1119.5 L982.9,1106.7 L983.6,1109.6 L984.3,1117.0 L985.0,1106.7 L985.7,1084.0 L986.4,1077.1 L987.1,1090.4 L987.8,1091.1 L988.5,1089.0 L989.2,1070.5 L990.0,1069.2 L990.6,1069.6 L991.3,1084.3 L992.0,1086.2 L992.7,1098.9 L993.4,1058.1 L994.1,1065.9 L995.0,1078.2 L995.5,1087.9 L996.2,1077.3 L996.9,1047.0 L997.6,1055.1 L998.3,1078.1 L999.0,1055.7 L999.7,1065.8 L1000.0,1051.4 L1000.4,1060.0 L1001.1,1036.1 L1001.8,1036.8 L1002.5,1036.1 L1003.2,1023.1 L1003.5,1031.1 L1003.9,1022.2 L1004.6,1016.5 L1005.3,1018.0 L1006.0,1000.8 L1006.7,1010.5 L1007.4,996.6 L1008.1,1008.7 L1008.5,985.9 L1008.8,995.8 L1009.5,983.8 L1010.2,991.9 L1010.9,970.9 L1011.6,983.8 L1012.3,965.0 L1013.0,969.4 L1013.7,962.0 L1014.4,958.0 L1015.1,935.9 L1016.0,933.5 L1016.5,924.7 L1017.2,928.7 L1017.9,916.5 L1018.6,906.9 L1019.0,899.2 L1019.3,909.8 L1020.0,905.2 L1020.7,893.3 L1021.4,882.6 L1022.0,886.0 L1022.8,886.9 L1023.5,882.8 L1024.2,875.6 L1024.9,880.6 L1025.6,874.7 L1026.5,872.4 L1027.0,875.1 L1027.7,882.9 L1028.4,883.9 L1029.0,878.7 L1029.8,901.6 L1030.5,907.6 L1031.0,901.0 L1031.9,901.5 L1032.6,914.3 L1033.3,906.1 L1034.0,931.9 L1034.7,946.1 L1035.4,934.5 L1036.1,936.6 L1037.0,955.2 L1037.5,932.2 L1038.2,939.9 L1039.0,965.1 L1039.6,956.0 L1040.3,959.6 L1041.0,980.8 L1041.7,979.2 L1042.0,985.3 L1042.4,971.6 L1043.1,989.0 L1043.8,981.6 L1044.5,974.4 L1045.2,993.2 L1045.8,990.3 L1046.6,988.0 L1047.3,972.9 L1048.0,979.4 L1048.7,973.8 L1049.4,960.2 L1049.7,953.4 L1050.1,958.3 L1051.0,935.9 L1051.5,924.5 L1052.4,910.1 L1052.9,896.4 L1053.6,878.1 L1054.4,879.0 L1055.0,865.8 L1055.7,858.5 L1056.4,854.6 L1057.1,838.6 L1057.4,844.7 L1057.8,830.9 L1058.5,822.3 L1059.2,813.6 L1060.0,809.5 L1060.6,814.1 L1061.3,810.1 L1062.0,801.8 L1062.5,801.5 L1063.4,798.6 L1064.3,797.1 L1064.8,809.0 L1065.5,821.7 L1066.3,837.8 L1066.9,858.0 L1067.4,867.1 L1068.3,887.3 L1069.0,888.5 L1069.6,907.3 L1070.4,907.5 L1071.1,928.6 L1072.0,935.4 L1072.5,935.7 L1073.2,952.8 L1073.9,969.0 L1074.3,971.9 L1074.6,969.1 L1075.3,975.6 L1076.0,981.7 L1076.6,1002.3 L1077.4,1008.5 L1078.1,1003.0 L1078.8,1029.9 L1079.7,1027.1 L1080.2,1043.3 L1080.9,1027.6 L1081.6,1050.6 L1082.0,1049.9 L1082.3,1043.5 L1083.0,1043.4 L1083.7,1041.4 L1084.4,1056.7 L1085.1,1060.8 L1086.0,1076.6 L1086.5,1061.4 L1087.2,1065.8 L1087.9,1062.3 L1088.6,1083.7 L1089.3,1090.9 L1090.0,1094.4 L1090.7,1082.6 L1091.4,1088.6 L1092.1,1091.6 L1092.8,1111.2 L1093.5,1091.5 L1094.2,1115.6 L1095.0,1099.2 L1095.6,1115.7 L1096.3,1107.9 L1097.0,1125.7 L1097.7,1101.3 L1098.4,1104.4 L1099.1,1130.5 L1099.8,1122.9 L1100.5,1115.7 L1101.0,1118.6 L1101.9,1127.1 L1102.6,1106.6 L1103.3,1122.6 L1104.0,1115.2 L1104.7,1123.3 L1105.4,1129.0 L1106.1,1147.6 L1106.8,1113.1 L1107.5,1143.9 L1108.2,1111.0 L1108.9,1129.1 L1109.6,1130.4 L1110.0,1145.1 L1110.3,1115.3 L1111.0,1132.4 L1111.7,1152.7 L1112.4,1150.0 L1113.1,1125.5 L1113.8,1124.5 L1114.5,1143.2 L1115.2,1135.4 L1115.9,1161.4 L1116.6,1160.6 L1117.3,1136.0 L1118.0,1129.0 L1118.7,1148.1 L1119.4,1160.6 L1120.0,1143.6 L1120.8,1155.7 L1121.5,1157.9 L1122.2,1144.9 L1122.9,1147.3 L1123.6,1151.0 L1124.3,1153.6 L1125.0,1144.6 L1125.7,1156.7 L1126.4,1151.9 L1127.1,1153.0 L1127.8,1139.5 L1128.5,1165.2 L1129.2,1146.2 L1130.0,1158.8 L1130.6,1159.0 L1131.3,1156.2 L1132.0,1162.5 L1132.7,1173.7 L1133.4,1169.0 L1134.1,1146.2 L1134.8,1173.5 L1135.5,1153.4 L1136.2,1172.6 L1136.9,1164.7 L1137.6,1163.0 L1138.3,1179.7 L1139.0,1171.8 L1139.7,1155.2 L1140.0,1180.6 L1140.4,1152.3 L1141.1,1169.2 L1141.8,1177.8 L1142.5,1168.1 L1143.2,1181.8 L1143.9,1174.9 L1144.6,1158.8 L1145.3,1177.7 L1146.0,1167.8 L1146.7,1166.4 L1147.4,1154.1 L1148.1,1168.5 L1148.8,1182.2 L1149.5,1147.3 L1150.0,1177.1 L1150.9,1177.2 L1151.6,1154.2 L1152.3,1157.8 L1153.0,1178.3 L1153.7,1174.8 L1154.4,1169.8 L1155.1,1151.2 L1155.8,1169.2 L1156.5,1150.1 L1157.2,1158.8 L1157.9,1169.7 L1158.6,1153.8 L1159.3,1169.5 L1160.0,1169.9 L1160.7,1182.0 L1161.4,1162.3 L1162.1,1180.1 L1162.8,1163.2 L1163.5,1181.1 L1164.2,1172.1 L1164.9,1169.4 L1165.6,1186.3 L1166.3,1189.2 L1167.0,1181.1 L1167.7,1182.7 L1168.4,1166.9 L1169.1,1167.5 L1170.0,1173.1 L1170.5,1169.0 L1171.2,1158.1 L1171.9,1181.9 L1172.6,1161.6 L1173.3,1166.6 L1174.0,1174.7 L1174.7,1154.5 L1175.4,1167.9 L1176.1,1167.5 L1176.8,1162.8 L1177.5,1157.1 L1178.2,1147.8 L1178.9,1141.8 L1179.6,1178.8 L1180.0,1169.5 L1180.3,1167.8 L1181.0,1155.2 L1181.7,1186.6 L1182.4,1151.8 L1183.1,1156.5 L1183.8,1169.4 L1184.5,1154.0 L1185.2,1155.4 L1185.9,1180.9 L1186.6,1163.8 L1187.3,1153.5 L1188.0,1155.4 L1188.7,1154.3 L1189.4,1176.4 L1190.0,1137.5 L1190.8,1178.6 L1191.5,1159.6 L1192.2,1143.0 L1192.9,1157.5 L1193.6,1149.7 L1194.3,1177.2 L1195.0,1148.2 L1195.7,1159.4 L1196.4,1172.1 L1197.1,1184.9 L1197.8,1168.9 L1198.5,1155.1 L1199.2,1178.7 L1200.0,1153.8 L1200.6,1169.9 L1201.3,1164.3 L1202.0,1153.9 L1202.7,1143.1 L1203.4,1157.3 L1204.1,1144.7 L1204.8,1137.3 L1205.5,1165.5 L1206.2,1147.1 L1206.9,1135.3 L1207.6,1149.6 L1208.3,1144.6 L1209.0,1173.2 L1209.7,1135.0 L1210.0,1120.2 L1210.4,1151.3 L1211.1,1142.4 L1211.8,1160.9 L1212.5,1141.4 L1213.2,1142.1 L1213.9,1139.2 L1214.6,1111.4 L1215.3,1152.1 L1216.0,1136.2 L1216.7,1146.9 L1217.4,1146.1 L1218.1,1117.8 L1218.8,1114.0 L1219.5,1128.9 L1220.0,1117.1 L1220.9,1118.6 L1221.6,1101.9 L1222.3,1125.4 L1223.0,1149.9 L1223.7,1139.4 L1224.4,1115.4 L1225.1,1121.5 L1225.8,1124.1 L1226.5,1143.7 L1227.2,1130.3 L1227.9,1136.6 L1228.6,1109.4 L1229.3,1117.4 L1230.0,1123.9 L1230.7,1143.0 L1231.4,1131.3 L1232.1,1131.8 L1232.8,1107.3 L1233.5,1116.1 L1234.2,1134.2 L1234.9,1150.0 L1235.6,1122.4 L1236.3,1111.0 L1237.0,1118.2 L1237.7,1094.2 L1238.4,1106.1 L1239.1,1150.4 L1240.0,1100.3 L1240.5,1147.2 L1241.2,1108.2 L1241.9,1110.4 L1242.6,1121.8 L1243.3,1162.5 L1244.0,1129.2 L1244.7,1151.4 L1245.4,1143.2 L1246.1,1110.4 L1246.8,1119.0 L1247.5,1120.9 L1248.2,1165.2 L1248.9,1152.7 L1249.6,1131.2 L1250.0,1152.4 L1250.3,1167.4 L1251.0,1141.5 L1251.7,1148.4 L1252.4,1162.0 L1253.1,1163.7 L1253.8,1137.7 L1254.5,1166.8 L1255.2,1159.1 L1255.9,1176.5 L1256.6,1156.6 L1257.3,1178.1 L1258.0,1180.3 L1258.7,1158.6 L1259.4,1163.9 L1260.0,1156.9 L1260.8,1160.1 L1261.5,1176.5 L1262.2,1188.0 L1262.9,1163.8 L1263.6,1176.3 L1264.3,1192.4 L1265.0,1190.7 L1265.7,1158.1 L1266.4,1179.7 L1267.1,1199.0 L1267.8,1176.3 L1268.5,1193.9 L1269.2,1164.4 L1270.0,1170.3 L1270.6,1190.0 L1271.3,1164.5 L1272.0,1168.0 L1272.7,1184.9 L1273.4,1162.2 L1274.1,1196.9 L1274.8,1166.6 L1275.5,1180.5 L1276.2,1197.5 L1276.9,1205.3 L1277.6,1171.3 L1278.3,1170.4 L1279.0,1174.2 L1279.7,1197.6 L1280.0,1181.9 L1280.4,1203.8 L1281.1,1184.3 L1281.8,1186.9 L1282.5,1198.7 L1283.2,1185.6 L1283.9,1195.2 L1284.6,1188.0 L1285.3,1185.6 L1286.0,1175.9 L1286.7,1193.3 L1287.4,1176.7 L1288.1,1193.8 L1288.8,1189.3 L1289.5,1184.5 L1290.0,1191.4 L1290.9,1180.0 L1291.6,1190.1 L1292.3,1173.7 L1293.0,1191.3 L1293.7,1179.1 L1294.4,1171.3 L1295.1,1184.3 L1295.8,1179.5 L1296.5,1174.3 L1297.2,1179.0 L1297.9,1198.2 L1298.6,1172.2 L1299.3,1174.7 L1300.0,1191.4 L1300.7,1178.0 L1301.4,1194.7 L1302.1,1184.0 L1302.8,1173.2 L1303.5,1184.9 L1304.2,1192.8 L1304.9,1182.9 L1305.6,1197.8 L1306.3,1170.5 L1307.0,1171.5 L1307.7,1191.4 L1308.4,1201.9 L1309.1,1167.9 L1310.0,1176.5 L1310.5,1187.5 L1311.2,1190.0 L1311.9,1203.7 L1312.6,1196.8 L1313.3,1184.3 L1314.0,1180.7 L1314.7,1173.9 L1315.4,1199.5 L1316.1,1183.6 L1316.8,1189.4 L1317.5,1180.3 L1318.2,1182.5 L1318.9,1189.2 L1319.6,1173.3 L1320.0,1182.2 L1320.3,1188.4 L1321.0,1179.4 L1321.7,1200.1 L1322.4,1202.9 L1323.1,1183.0 L1323.8,1172.0 L1324.5,1200.6 L1325.2,1174.4 L1325.9,1199.8 L1326.6,1191.4 L1327.3,1199.7 L1328.0,1192.3 L1328.7,1199.9 L1329.4,1200.3 L1330.0,1201.8 L1330.8,1181.8 L1331.5,1175.8 L1332.2,1173.9 L1332.9,1177.6 L1333.6,1179.0 L1334.3,1179.2 L1335.0,1185.3 L1335.7,1176.4 L1336.4,1195.3 L1337.1,1187.3 L1337.8,1183.9 L1338.5,1187.2 L1339.2,1195.7 L1339.9,1172.4 L1340.6,1168.2 L1341.3,1194.2 L1342.0,1191.5 L1342.7,1191.1 L1343.4,1176.9 L1344.1,1175.8 L1344.8,1196.1 L1345.5,1167.6 L1346.0,1190.7 L1346.9,1178.2 L1347.6,1177.1 L1348.3,1183.1 L1349.0,1200.9 L1349.7,1170.3 L1350.4,1168.8 L1351.1,1187.5 L1351.8,1174.1 L1352.5,1200.0 L1353.2,1169.8 L1353.9,1170.1 L1354.6,1197.4 L1355.3,1195.3 L1356.0,1190.0 L1356.7,1194.4 L1357.4,1175.3 L1358.1,1187.9 L1358.8,1177.6 L1359.5,1169.3 L1360.2,1171.9 L1360.9,1172.4 L1361.6,1172.8 L1362.3,1195.2 L1363.0,1175.8 L1363.7,1177.5 L1364.4,1172.0 L1365.1,1194.8 L1365.8,1194.5 L1366.5,1191.1 L1367.2,1174.5 L1367.9,1169.9 L1368.6,1170.9 L1369.3,1170.5 L1370.0,1188.7 L1370.7,1182.9 L1371.4,1189.8 L1372.1,1172.3 L1372.8,1186.5 L1373.5,1167.6 L1374.2,1196.1 L1374.9,1178.7 L1375.6,1181.5 L1376.3,1171.4 L1377.0,1176.1 L1377.7,1181.9 L1378.4,1182.0 L1379.0,1181.8 L1379.8,1196.8 L1380.5,1182.2 L1381.2,1172.1 L1381.9,1176.6 L1382.6,1169.0 L1383.3,1191.2 L1384.0,1183.2 L1384.7,1183.7 L1385.4,1169.8 L1386.1,1187.6 L1386.8,1193.3 L1387.5,1192.1 L1388.2,1200.3 L1388.9,1171.8 L1389.6,1183.4 L1390.3,1194.4 L1391.0,1181.1 L1391.7,1186.0 L1392.4,1187.9 L1393.1,1170.0 L1393.8,1186.7 L1394.5,1192.7 L1395.0,1196.9 L1395.9,1171.7 L1396.6,1184.5 L1397.3,1191.1 L1398.0,1193.3 L1398.7,1192.2 L1399.4,1169.4 L1400.1,1175.7 L1400.8,1196.7 L1401.5,1189.9 L1402.2,1193.5 L1402.9,1190.9 L1403.6,1173.8 L1404.3,1178.9 L1405.0,1172.8 L1405.7,1178.7 L1406.4,1173.9 L1407.1,1167.5 L1407.8,1169.3 L1408.5,1194.3 L1409.2,1189.7 L1409.9,1186.3 L1410.6,1168.9 L1411.0,1187.3 L1411.3,1190.0 L1412.0,1159.1 L1412.7,1180.0 L1413.4,1164.9 L1414.1,1177.6 L1414.8,1198.6 L1415.5,1178.9 L1416.2,1167.0 L1416.9,1170.2 L1417.6,1169.2 L1418.3,1175.9 L1419.0,1188.0 L1419.7,1181.3 L1420.4,1174.2 L1421.1,1161.0 L1421.8,1194.3 L1422.5,1156.5 L1423.2,1173.2 L1423.9,1169.6 L1424.6,1163.9 L1425.3,1186.5 L1426.0,1169.9 L1426.7,1169.0 L1427.4,1174.6 L1428.0,1179.7 L1428.8,1184.7 L1429.5,1166.1 L1430.2,1176.8 L1430.9,1187.3 L1431.6,1189.5 L1432.3,1154.1 L1433.0,1183.8 L1433.7,1172.9 L1434.4,1177.9 L1435.1,1174.7 L1435.8,1159.4 L1436.5,1176.3 L1437.2,1173.1 L1437.9,1178.3 L1438.6,1185.2 L1439.3,1185.3 L1440.0,1164.8 L1440.7,1157.7 L1441.4,1145.9 L1442.1,1191.0 L1442.8,1151.9 L1443.5,1157.2 L1444.0,1182.3 L1444.9,1157.5 L1445.6,1148.3 L1446.3,1154.5 L1447.0,1157.3 L1447.7,1169.3 L1448.4,1159.8 L1449.1,1156.2 L1449.8,1156.0 L1450.5,1163.4 L1451.2,1149.9 L1451.9,1142.2 L1452.6,1182.5 L1453.3,1174.6 L1454.0,1147.6 L1454.7,1162.2 L1455.4,1168.5 L1456.1,1168.2 L1456.8,1172.6 L1457.5,1151.9 L1458.2,1157.2 L1458.9,1155.0 L1459.6,1164.8 L1460.0,1162.1 L1460.3,1149.6 L1461.0,1160.7 L1461.7,1144.6 L1462.4,1160.0 L1463.1,1139.4 L1463.8,1138.0 L1464.5,1133.7 L1465.2,1135.1 L1465.9,1141.6 L1466.6,1146.6 L1467.3,1129.6 L1468.0,1135.8 L1468.7,1131.6 L1469.4,1155.7 L1470.1,1163.8 L1470.8,1133.8 L1471.5,1148.7 L1472.2,1141.5 L1472.9,1147.8 L1473.6,1131.5 L1474.3,1150.4 L1475.0,1134.3 L1475.7,1142.5 L1476.0,1143.3 L1476.4,1120.6 L1477.1,1147.1 L1477.8,1120.0 L1478.5,1128.6 L1479.2,1155.0 L1479.9,1131.1 L1480.6,1151.3 L1481.3,1120.8 L1482.0,1136.7 L1482.7,1118.5 L1483.4,1115.6 L1484.1,1136.3 L1485.0,1124.4 L1485.5,1118.8 L1486.2,1141.8 L1486.9,1143.3 L1487.6,1143.0 L1488.3,1119.7 L1489.0,1129.2 L1489.7,1125.2 L1490.4,1133.1 L1491.1,1147.6 L1491.8,1143.1 L1492.5,1140.8 L1493.0,1157.7 L1493.9,1143.0 L1494.6,1135.2 L1495.3,1149.0 L1496.0,1151.4 L1496.7,1143.0 L1497.4,1160.0 L1498.1,1130.4 L1498.8,1125.6 L1499.5,1150.8 L1500.2,1142.6 L1500.9,1124.4 L1501.6,1151.0 L1502.3,1138.4 L1503.0,1135.1 L1503.7,1129.0 L1504.4,1132.2 L1505.1,1155.4 L1505.8,1129.7 L1506.5,1141.2 L1507.2,1149.5 L1507.9,1158.0 L1508.6,1159.3 L1509.0,1165.3 L1509.3,1133.0 L1510.0,1151.4 L1510.7,1150.2 L1511.4,1145.4 L1512.1,1159.3 L1512.8,1142.1 L1513.5,1165.9 L1514.2,1171.3 L1514.9,1147.8 L1515.6,1148.4 L1516.3,1151.8 L1517.0,1146.3 L1517.7,1158.6 L1518.4,1153.2 L1519.1,1149.9 L1519.8,1150.7 L1520.5,1164.5 L1521.2,1152.9 L1521.9,1158.8 L1522.6,1166.9 L1523.3,1149.8 L1524.0,1160.2 L1524.7,1160.3 L1525.0,1166.9 L1525.4,1149.7 L1526.1,1148.8 L1526.8,1164.8 L1527.5,1178.8 L1528.2,1168.0 L1528.9,1175.3 L1529.6,1144.9 L1530.3,1153.3 L1531.0,1152.9 L1531.7,1152.9 L1532.4,1157.0 L1533.1,1164.1 L1534.0,1195.4 L1534.5,1175.7 L1535.2,1186.8 L1535.9,1150.6 L1536.6,1195.5 L1537.3,1184.9 L1538.0,1144.3 L1538.7,1186.7 L1539.4,1165.2 L1540.1,1168.2 L1540.8,1159.3 L1541.5,1161.0 L1542.0,1178.8 L1542.9,1168.7 L1543.6,1154.0 L1544.3,1177.4 L1545.0,1162.9 L1545.7,1179.0 L1546.4,1176.7 L1547.1,1182.2 L1547.8,1162.2 L1548.5,1151.4 L1549.2,1162.4 L1549.9,1164.3 L1550.6,1165.0 L1551.3,1163.8 L1552.0,1182.9 L1552.7,1154.1 L1553.4,1180.9 L1554.1,1156.7 L1554.8,1176.9 L1555.5,1174.6 L1556.2,1170.6 L1556.9,1180.2 L1557.6,1177.9 L1558.0,1156.7 L1558.3,1176.0 L1559.0,1156.2 L1559.7,1158.5 L1560.4,1170.7 L1561.1,1177.5 L1561.8,1183.8 L1562.5,1157.9 L1563.2,1169.3 L1563.9,1163.8 L1564.6,1152.3 L1565.3,1146.5 L1566.0,1168.3 L1566.7,1154.6 L1567.4,1146.5 L1568.1,1171.4 L1568.8,1150.4 L1569.5,1157.9 L1570.2,1158.9 L1570.9,1170.2 L1571.6,1177.8 L1572.3,1177.6 L1573.0,1175.2 L1573.7,1148.9 L1574.0,1158.7 L1574.4,1176.5 L1575.1,1151.4 L1575.8,1147.5 L1576.5,1170.5 L1577.2,1167.1 L1577.9,1159.1 L1578.6,1157.5 L1579.3,1151.7 L1580.0,1178.7 L1580.7,1148.9 L1581.4,1152.9 L1582.1,1159.0 L1582.8,1144.3 L1583.5,1171.8 L1584.2,1160.0 L1584.9,1162.6 L1585.6,1164.9 L1586.3,1171.6 L1587.0,1152.6 L1587.7,1168.3 L1588.4,1166.0 L1589.1,1157.5 L1590.0,1154.1 L1590.5,1151.0 L1591.2,1147.2 L1591.9,1150.0 L1592.6,1155.5 L1593.3,1151.5 L1594.0,1138.0 L1594.7,1139.5 L1595.4,1146.2 L1596.1,1158.0 L1596.8,1147.4 L1597.5,1153.3 L1598.2,1149.9 L1598.9,1166.3 L1599.6,1165.2 L1600.3,1139.0 L1601.0,1148.9 L1601.7,1157.1 L1602.4,1138.5 L1603.1,1155.4 L1603.8,1163.4 L1604.5,1161.1 L1605.2,1142.0 L1605.9,1134.3 L1606.6,1135.3 L1607.0,1158.8 L1607.3,1153.3 L1608.0,1149.6 L1608.7,1147.5 L1609.4,1159.1 L1610.1,1144.3 L1610.8,1129.1 L1611.5,1157.4 L1612.2,1124.3 L1612.9,1140.6 L1613.6,1141.5 L1614.3,1148.7 L1615.0,1123.6 L1615.7,1154.5 L1616.4,1158.2 L1617.1,1150.0 L1617.8,1136.9 L1618.5,1137.5 L1619.2,1113.1 L1620.0,1112.8 L1620.6,1135.1 L1621.3,1115.6 L1622.0,1139.5 L1622.7,1111.6 L1623.4,1100.8 L1624.1,1114.8 L1624.8,1104.8 L1625.7,1108.4 L1626.2,1102.1 L1626.9,1099.5 L1627.6,1114.1 L1628.3,1098.7 L1629.0,1105.4 L1629.7,1102.6 L1630.0,1108.6 L1630.4,1094.3 L1631.1,1097.1 L1631.8,1098.5 L1632.5,1085.5 L1633.2,1090.5 L1634.0,1072.6 L1634.6,1064.8 L1635.3,1071.7 L1636.0,1059.6 L1636.7,1057.6 L1637.3,1045.9 L1638.1,1039.4 L1638.8,1027.0 L1639.5,1029.6 L1640.4,1013.9 L1640.9,1016.2 L1641.6,1000.5 L1642.3,1004.4 L1643.0,988.8 L1643.7,987.0 L1644.4,977.7 L1645.1,971.7 L1645.8,958.4 L1646.2,966.1 L1646.5,953.1 L1647.2,940.2 L1647.7,923.6 L1648.6,920.5 L1649.3,910.1 L1650.0,892.9 L1650.8,894.5 L1651.4,878.3 L1652.1,868.7 L1653.0,858.8 L1653.5,855.4 L1654.2,851.2 L1654.9,844.3 L1655.6,838.9 L1656.0,836.6 L1656.3,834.1 L1657.0,830.5 L1657.7,825.4 L1658.4,828.7 L1659.1,831.3 L1660.0,840.2 L1660.5,842.2 L1661.2,850.3 L1662.0,855.9 L1662.6,873.4 L1663.5,889.0 L1664.0,893.5 L1664.7,901.7 L1665.4,901.1 L1666.1,914.2 L1666.8,916.8 L1667.7,936.4 L1668.2,932.9 L1668.9,949.6 L1669.3,952.5 L1669.6,961.3 L1670.3,973.0 L1671.0,981.0 L1671.7,976.0 L1672.4,992.2 L1673.1,984.7 L1673.8,993.0 L1674.5,1000.9 L1675.2,1013.6 L1675.9,1009.0 L1676.6,1024.7 L1677.3,1027.0 L1678.0,1046.1 L1678.7,1047.9 L1679.3,1048.0 L1680.1,1052.3 L1680.8,1062.2 L1681.5,1082.2 L1682.2,1071.9 L1682.6,1067.8 L1682.9,1083.5 L1683.6,1094.6 L1684.3,1089.6 L1685.0,1105.5 L1685.5,1095.6 L1686.4,1110.9 L1687.1,1096.1 L1687.8,1100.9 L1688.5,1110.9 L1689.2,1119.1 L1689.9,1121.2 L1690.6,1112.1 L1691.4,1124.2 L1692.0,1110.1 L1692.7,1132.3 L1693.4,1130.1 L1694.1,1130.4 L1694.8,1139.7 L1695.5,1122.9 L1696.2,1130.0 L1696.9,1140.6 L1697.6,1142.7 L1698.0,1152.7 L1698.3,1145.6 L1699.0,1146.4 L1699.7,1152.2 L1700.4,1153.7 L1701.1,1151.4 L1701.8,1150.0 L1702.5,1157.0 L1703.0,1156.1 L1703.9,1157.9 L1704.6,1162.4 L1705.3,1155.5 L1706.0,1149.2 L1706.7,1161.5 L1707.4,1163.6 L1708.1,1170.9 L1708.8,1165.6 L1709.5,1161.7 L1710.0,1169.1 L1710.9,1161.2 L1711.6,1182.3 L1712.3,1174.0 L1713.0,1171.0 L1713.7,1163.6 L1714.4,1174.7 L1715.1,1187.6 L1715.8,1182.6 L1716.5,1155.8 L1717.2,1173.6 L1717.9,1165.1 L1718.6,1167.8 L1719.3,1162.2 L1720.0,1183.0 L1720.7,1183.2 L1721.4,1186.6 L1722.1,1166.1 L1722.8,1191.8 L1723.5,1169.6 L1724.2,1172.7 L1724.9,1169.6 L1725.6,1181.2 L1726.3,1166.5 L1727.0,1190.7 L1727.7,1194.4 L1728.4,1193.1 L1729.1,1174.4 L1730.0,1182.4 L1730.5,1177.5 L1731.2,1190.0 L1731.9,1186.6 L1732.6,1189.6 L1733.3,1205.1 L1734.0,1197.4 L1734.7,1179.8 L1735.4,1179.7 L1736.1,1214.4 L1736.8,1189.5 L1737.5,1181.9 L1738.2,1197.5 L1738.9,1186.2 L1739.6,1205.7 L1740.0,1182.8 L1740.3,1171.7 L1741.0,1195.7 L1741.7,1175.4 L1742.4,1207.1 L1743.1,1190.3 L1743.8,1183.2 L1744.5,1204.1 L1745.2,1184.0 L1745.9,1190.6 L1746.6,1181.9 L1747.3,1194.6 L1748.0,1203.9 L1748.7,1213.1 L1749.4,1200.0 L1750.0,1187.8 L1750.8,1190.4 L1751.5,1193.1 L1752.2,1196.4 L1752.9,1178.2 L1753.6,1190.6 L1754.3,1178.1 L1755.0,1195.3 L1755.7,1192.2 L1756.4,1210.5 L1757.1,1202.3 L1757.8,1184.0 L1758.5,1200.1 L1759.2,1184.6 L1760.0,1191.8 L1760.6,1191.0 L1761.3,1200.3 L1762.0,1210.3 L1762.7,1185.0 L1763.4,1198.6 L1764.1,1214.0 L1764.8,1187.4 L1765.5,1203.9 L1766.2,1190.7 L1766.9,1205.5 L1767.6,1198.7 L1768.3,1199.3 L1769.0,1206.3 L1769.7,1193.1 L1770.0,1192.4 L1770.4,1206.4 L1771.1,1195.5 L1771.8,1210.7 L1772.5,1190.3 L1773.2,1200.8 L1773.9,1211.1 L1774.6,1213.0 L1775.3,1194.9 L1776.0,1206.0 L1776.7,1189.6 L1777.4,1203.8 L1778.1,1204.3 L1778.8,1189.8 L1779.5,1204.6 L1780.0,1192.0 L1780.9,1193.2 L1781.6,1210.7 L1782.3,1219.0 L1783.0,1194.9 L1783.7,1207.3 L1784.4,1193.2 L1785.1,1198.0 L1785.8,1217.6 L1786.5,1213.3 L1787.2,1214.5 L1787.9,1220.9 L1788.6,1227.1 L1789.3,1219.9 L1790.0,1226.2 L1790.7,1207.1 L1791.4,1201.1 L1792.1,1206.2 L1792.8,1218.5 L1793.5,1209.2 L1794.2,1219.3 L1794.9,1216.0 L1795.6,1230.4 L1796.3,1214.4 L1797.0,1230.6 L1797.7,1196.4 L1798.4,1200.8 L1799.1,1202.4 L1800.0,1206.8 L1800.5,1206.1 L1801.2,1200.6 L1801.9,1202.6 L1802.6,1215.7 L1803.3,1219.7 L1804.0,1212.2 L1804.7,1203.7 L1805.4,1216.9 L1806.1,1213.7 L1806.8,1209.3 L1807.5,1207.0 L1808.2,1222.7 L1808.9,1223.5 L1809.6,1219.1 L1810.0,1211.4 L1810.3,1216.5 L1811.0,1211.3 L1811.7,1210.5 L1812.4,1220.0 L1813.1,1208.4 L1813.8,1215.8 L1814.5,1200.8 L1815.2,1221.2 L1815.9,1221.1 L1816.6,1208.1 L1817.3,1214.1 L1818.0,1215.1 L1818.7,1228.7 L1819.4,1198.5 L1820.0,1199.5 L1820.8,1200.6 L1821.5,1222.6 L1822.2,1201.1 L1822.9,1195.5 L1823.6,1225.9 L1824.3,1223.7 L1825.0,1224.2 L1825.7,1212.4 L1826.4,1216.5 L1827.1,1223.7 L1827.8,1222.1 L1828.5,1207.6 L1829.2,1220.3 L1830.0,1226.8 L1830.6,1222.5 L1831.3,1220.8 L1832.0,1222.8 L1832.7,1229.4 L1833.4,1213.6 L1834.1,1233.8 L1834.8,1219.1 L1835.5,1207.6 L1836.2,1219.0 L1836.9,1229.2 L1837.6,1227.2 L1838.3,1223.8 L1839.0,1216.1 L1839.7,1219.3 L1840.0,1207.4 L1840.4,1238.9 L1841.1,1233.2 L1841.8,1211.3 L1842.5,1228.4 L1843.2,1224.2 L1843.9,1210.7 L1844.6,1231.9 L1845.3,1221.6 L1846.0,1208.9 L1846.7,1228.3 L1847.4,1226.4 L1848.1,1214.5 L1848.8,1228.6 L1849.5,1203.2 L1850.0,1235.2 L1850.9,1236.1 L1851.6,1232.9 L1852.3,1240.7 L1853.0,1205.6 L1853.7,1219.1 L1854.4,1208.7 L1855.1,1226.4 L1855.8,1213.8 L1856.5,1211.2 L1857.2,1228.1 L1857.9,1232.6 L1858.6,1206.4 L1859.3,1207.0 L1860.0,1229.3 L1860.7,1230.6 L1861.4,1233.2 L1862.1,1205.6 L1862.8,1230.0 L1863.5,1209.7 L1864.2,1226.4 L1864.9,1215.8 L1865.6,1216.8 L1866.3,1221.6 L1867.0,1203.6 L1867.7,1210.4 L1868.4,1228.3 L1869.1,1228.8 L1870.0,1211.2 L1870.5,1204.3 L1871.2,1223.8 L1871.9,1211.5 L1872.6,1208.6 L1873.3,1201.5 L1874.0,1220.4 L1874.7,1235.0 L1875.4,1224.8 L1876.1,1208.2 L1876.8,1206.7 L1877.5,1211.0 L1878.2,1209.2 L1878.9,1207.6 L1879.6,1221.1 L1880.0,1229.8 L1880.3,1200.0 L1881.0,1224.3 L1881.7,1221.9 L1882.4,1218.9 L1883.1,1212.5 L1883.8,1208.2 L1884.5,1203.3 L1885.2,1219.5 L1885.9,1223.7 L1886.6,1202.6 L1887.3,1205.8 L1888.0,1212.1 L1888.7,1200.2 L1889.4,1210.2 L1890.0,1215.0 L1890.8,1216.9 L1891.5,1223.5 L1892.2,1206.4 L1892.9,1203.7 L1893.6,1204.7 L1894.3,1200.8 L1895.0,1207.3 L1895.7,1215.5 L1896.4,1229.4 L1897.1,1223.0 L1897.8,1212.5 L1898.5,1210.7 L1899.2,1222.0 L1900.0,1205.7 L1900.6,1204.3 L1901.3,1226.2 L1902.0,1197.4 L1902.7,1197.8 L1903.4,1202.7 L1904.1,1203.2 L1904.8,1206.3 L1905.5,1197.2 L1906.2,1211.0 L1906.9,1209.9 L1907.6,1205.1 L1908.3,1221.3 L1909.0,1214.8 L1909.7,1204.7 L1910.0,1186.1 L1910.4,1187.5 L1911.1,1201.0 L1911.8,1212.5 L1912.5,1210.7 L1913.2,1207.7 L1913.9,1204.2 L1914.6,1202.4 L1915.3,1198.8 L1916.0,1182.9 L1916.7,1194.5 L1917.4,1191.2 L1918.1,1205.3 L1918.8,1211.5 L1919.5,1198.3 L1920.0,1191.2 L1920.9,1205.0 L1921.6,1198.0 L1922.3,1189.4 L1923.0,1205.3 L1923.7,1186.2 L1924.4,1207.3 L1925.1,1206.6 L1925.8,1186.0 L1926.5,1189.3 L1927.2,1204.9 L1927.9,1198.3 L1928.6,1200.5 L1929.3,1204.3 L1930.0,1195.0 L1930.7,1185.2 L1931.4,1196.2 L1932.1,1198.4 L1932.8,1186.8 L1933.5,1202.9 L1934.2,1210.7 L1934.9,1196.4 L1935.6,1205.9 L1936.3,1186.3 L1937.0,1187.3 L1937.7,1193.2 L1938.4,1189.8 L1939.1,1191.6 L1940.0,1220.7 L1940.5,1217.5 L1941.2,1193.7 L1941.9,1203.7 L1942.6,1195.1 L1943.3,1196.5 L1944.0,1218.2 L1944.7,1222.2 L1945.4,1223.5 L1946.1,1221.5 L1946.8,1219.2 L1947.5,1227.5 L1948.2,1210.8 L1948.9,1212.6 L1949.6,1206.4 L1950.0,1219.5 L1950.3,1198.7 L1951.0,1222.4 L1951.7,1215.0 L1952.4,1205.5 L1953.1,1208.1 L1953.8,1223.6 L1954.5,1202.6 L1955.2,1208.6 L1955.9,1222.1 L1956.6,1214.3 L1957.3,1211.7 L1958.0,1206.2 L1958.7,1214.8 L1959.4,1218.2 L1960.0,1222.3 L1960.8,1196.4 L1961.5,1207.7 L1962.2,1209.6 L1962.9,1214.3 L1963.6,1217.4 L1964.3,1200.8 L1965.0,1217.2 L1965.7,1214.3 L1966.4,1229.2 L1967.1,1233.5 L1967.8,1217.0 L1968.5,1206.7 L1969.2,1207.6 L1970.0,1212.5 L1970.6,1207.8 L1971.3,1225.1 L1972.0,1226.9 L1972.7,1219.6 L1973.4,1214.1 L1974.1,1232.0 L1974.8,1228.2 L1975.5,1207.3 L1976.2,1215.5 L1976.9,1231.2 L1977.6,1213.4 L1978.3,1229.0 L1979.0,1233.3 L1979.7,1212.3 L1980.0,1226.5 L1980.4,1224.5 L1981.1,1210.3 L1981.8,1211.0 L1982.5,1216.5 L1983.2,1212.7 L1983.9,1205.5 L1984.6,1204.1 L1985.3,1227.6 L1986.0,1201.1 L1986.7,1203.1 L1987.4,1211.9 L1988.1,1206.0 L1988.8,1213.5 L1989.5,1218.0 L1990.0,1221.2 L1990.9,1229.7 L1991.6,1218.7 L1992.3,1219.7 L1993.0,1234.8 L1993.7,1220.3 L1994.4,1222.5 L1995.1,1239.4 L1995.8,1205.4 L1996.5,1219.4 L1997.2,1214.7 L1997.9,1235.4 L1998.6,1215.1 L1999.3,1210.7 L2000.0,1212.8 L2000.7,1233.5 L2001.4,1229.0 L2002.1,1228.7 L2002.8,1222.8 L2003.5,1210.3 L2004.2,1226.8 L2004.9,1209.9 L2005.6,1214.6 L2006.3,1218.6 L2007.0,1217.4 L2007.7,1219.2 L2008.4,1213.3 L2009.1,1221.8 L2010.0,1235.7 L2010.5,1215.5 L2011.2,1218.4 L2011.9,1231.9 L2012.6,1219.3 L2013.3,1235.7 L2014.0,1230.4 L2014.7,1221.8 L2015.4,1220.0 L2016.1,1234.4 L2016.8,1235.3 L2017.5,1236.9 L2018.2,1229.0 L2018.9,1244.6 L2019.6,1237.0 L2020.0,1215.2 L2020.3,1218.7 L2021.0,1223.5 L2021.7,1233.6 L2022.4,1244.2 L2023.1,1244.0 L2023.8,1238.6 L2024.5,1225.8 L2025.2,1225.5 L2025.9,1239.3 L2026.6,1222.7 L2027.3,1248.0 L2028.0,1238.4 L2028.7,1232.3 L2029.4,1230.3 L2030.1,1222.8 L2030.8,1242.0 L2031.5,1214.0 L2032.2,1232.1 L2032.9,1228.3 L2033.6,1215.8 L2034.3,1226.4 L2035.0,1241.5" fill="none" stroke="#000" stroke-width="9" stroke-linejoin="round" stroke-linecap="round"/>
<path d="M194.0,1742.1 L194.7,1744.3 L195.4,1736.9 L196.1,1741.0 L196.8,1725.2 L197.5,1733.4 L198.2,1746.5 L198.9,1742.0 L199.6,1739.5 L200.3,1740.2 L201.0,1742.2 L201.7,1743.4 L202.4,1729.4 L203.1,1743.9 L203.8,1745.6 L204.5,1736.3 L205.2,1729.6 L205.9,1741.4 L206.6,1736.7 L207.3,1736.8 L208.0,1750.8 L208.7,1743.0 L209.4,1753.3 L210.1,1742.6 L210.8,1744.6 L211.5,1746.8 L212.0,1753.3 L212.9,1739.2 L213.6,1738.9 L214.3,1753.1 L215.0,1726.8 L215.7,1749.8 L216.4,1734.1 L217.1,1743.7 L217.8,1728.8 L218.5,1742.8 L219.2,1735.2 L219.9,1737.1 L220.6,1725.7 L221.3,1727.9 L222.0,1728.1 L222.7,1732.8 L223.4,1735.4 L224.1,1729.7 L224.8,1743.6 L225.5,1736.7 L226.2,1745.2 L227.0,1745.2 L227.6,1731.4 L228.3,1730.2 L229.0,1735.1 L229.7,1748.0 L230.4,1736.9 L231.1,1751.0 L231.8,1736.1 L232.5,1731.9 L233.2,1728.3 L233.9,1729.2 L234.6,1741.9 L235.3,1731.0 L236.0,1742.1 L236.7,1747.0 L237.4,1742.4 L238.1,1743.1 L238.8,1743.6 L239.5,1737.3 L240.2,1741.9 L241.0,1742.6 L241.6,1748.2 L242.3,1730.7 L243.0,1748.1 L243.7,1729.6 L244.4,1732.0 L245.1,1733.1 L245.8,1739.6 L246.5,1733.2 L247.2,1741.7 L247.9,1732.0 L248.6,1745.6 L249.3,1741.6 L250.0,1743.8 L250.7,1745.6 L251.4,1741.6 L252.1,1736.2 L252.8,1736.6 L253.5,1742.3 L254.0,1733.9 L254.9,1732.4 L255.6,1735.3 L256.3,1748.4 L257.0,1741.1 L257.7,1741.9 L258.4,1729.8 L259.1,1725.1 L259.8,1745.7 L260.5,1740.3 L261.2,1750.8 L261.9,1723.3 L262.6,1740.0 L263.3,1745.6 L264.0,1726.7 L264.7,1726.8 L265.4,1738.1 L266.1,1723.6 L267.0,1723.0 L267.5,1720.2 L268.2,1741.1 L268.9,1725.2 L269.6,1722.1 L270.3,1737.6 L271.0,1723.1 L271.7,1723.9 L272.4,1716.1 L273.1,1739.3 L273.8,1727.1 L274.5,1732.4 L275.2,1735.7 L275.9,1729.5 L276.6,1715.9 L277.3,1728.8 L278.0,1721.4 L278.7,1735.8 L279.4,1740.4 L280.1,1734.0 L280.8,1719.5 L281.5,1712.9 L282.2,1714.8 L282.9,1743.5 L283.6,1732.0 L284.3,1721.7 L285.0,1719.7 L285.7,1714.0 L286.4,1743.5 L287.1,1736.6 L287.8,1719.5 L288.5,1708.3 L289.0,1707.8 L289.9,1729.4 L290.6,1733.3 L291.3,1724.4 L292.0,1730.5 L292.7,1709.3 L293.4,1707.3 L294.1,1713.1 L294.8,1707.1 L295.5,1712.5 L296.2,1723.7 L296.9,1713.6 L297.6,1711.1 L298.3,1711.3 L299.0,1723.1 L299.7,1718.0 L300.0,1711.2 L300.4,1718.3 L301.1,1702.1 L301.8,1705.3 L302.5,1714.1 L303.2,1697.6 L303.9,1707.4 L304.6,1711.1 L305.3,1713.3 L306.0,1694.0 L306.7,1693.4 L307.4,1712.6 L308.1,1692.4 L308.8,1698.6 L309.5,1706.1 L310.2,1687.8 L311.0,1708.5 L311.6,1686.2 L312.3,1693.0 L313.0,1695.3 L313.7,1693.9 L314.4,1689.3 L315.1,1694.5 L315.8,1691.7 L316.5,1706.0 L317.2,1694.1 L317.9,1698.0 L318.6,1706.0 L319.3,1715.1 L320.0,1715.3 L320.7,1718.5 L321.4,1710.7 L322.0,1699.9 L322.8,1719.4 L323.5,1698.3 L324.2,1713.3 L324.9,1690.7 L325.6,1719.8 L326.3,1719.7 L327.0,1717.8 L327.7,1716.4 L328.4,1700.5 L329.1,1713.0 L329.8,1718.0 L330.5,1703.2 L331.2,1716.2 L331.9,1693.0 L332.6,1718.6 L333.3,1714.2 L334.0,1704.6 L334.7,1713.5 L335.4,1704.8 L336.1,1717.6 L337.0,1708.0 L337.5,1709.4 L338.2,1700.6 L338.9,1692.9 L339.6,1709.5 L340.3,1721.2 L341.0,1695.1 L341.7,1697.1 L342.4,1699.3 L343.1,1692.0 L343.8,1717.6 L344.5,1709.5 L345.2,1723.2 L345.9,1712.6 L346.6,1723.8 L347.3,1704.6 L348.0,1732.0 L348.7,1716.0 L349.4,1729.0 L350.1,1706.6 L350.8,1707.5 L351.5,1724.8 L352.0,1721.9 L352.9,1733.5 L353.6,1724.6 L354.3,1703.5 L355.0,1715.4 L355.7,1710.0 L356.4,1706.4 L357.1,1703.8 L357.8,1726.9 L358.5,1713.3 L359.2,1726.4 L359.9,1727.1 L360.6,1733.1 L361.3,1729.9 L362.0,1716.0 L362.7,1729.0 L363.4,1722.1 L364.1,1728.4 L364.8,1718.9 L365.5,1735.6 L366.0,1711.0 L366.9,1736.8 L367.6,1725.3 L368.3,1709.9 L369.0,1731.4 L369.7,1718.3 L370.4,1725.9 L371.1,1734.8 L371.8,1733.1 L372.5,1712.7 L373.2,1713.6 L373.9,1742.3 L374.6,1706.5 L375.3,1742.0 L376.0,1712.7 L376.7,1716.6 L377.4,1726.5 L378.1,1718.9 L378.8,1732.3 L379.5,1739.2 L380.2,1729.7 L381.0,1728.7 L381.6,1710.8 L382.3,1719.8 L383.0,1723.8 L383.7,1721.1 L384.4,1717.2 L385.1,1716.2 L385.8,1721.1 L386.5,1737.0 L387.2,1725.5 L387.9,1729.1 L388.6,1731.0 L389.3,1724.4 L390.0,1714.8 L390.7,1728.3 L391.4,1730.3 L392.0,1731.6 L392.8,1721.9 L393.5,1726.7 L394.2,1737.6 L394.9,1727.3 L395.6,1704.4 L396.3,1701.5 L397.0,1704.5 L397.7,1737.2 L398.4,1704.1 L399.1,1716.8 L399.8,1707.3 L400.5,1731.2 L401.2,1718.8 L401.9,1724.6 L402.6,1699.2 L403.3,1709.9 L404.0,1735.0 L404.7,1698.3 L405.4,1702.4 L406.1,1732.9 L406.8,1729.9 L407.5,1700.5 L408.2,1723.9 L408.9,1725.2 L409.6,1715.1 L410.3,1708.0 L411.0,1702.8 L411.7,1696.0 L412.4,1705.9 L413.1,1701.4 L413.8,1699.9 L414.5,1728.8 L415.2,1700.3 L415.9,1717.1 L416.6,1708.1 L417.3,1719.6 L418.0,1697.8 L418.7,1713.4 L419.4,1727.6 L420.1,1705.5 L420.8,1724.1 L421.5,1712.1 L422.2,1695.8 L422.9,1720.8 L423.6,1725.6 L424.3,1704.5 L425.0,1716.2 L425.7,1689.5 L426.4,1698.8 L427.1,1732.6 L427.8,1687.7 L428.5,1716.0 L429.0,1718.1 L429.9,1718.9 L430.6,1725.0 L431.3,1719.5 L432.0,1724.7 L432.7,1706.4 L433.4,1725.4 L434.1,1706.6 L434.8,1695.1 L435.5,1697.7 L436.2,1711.2 L436.9,1708.1 L437.6,1687.0 L438.3,1691.5 L439.0,1706.9 L439.7,1724.5 L440.4,1723.1 L441.1,1718.5 L441.8,1703.0 L442.5,1701.4 L443.2,1709.4 L443.9,1708.0 L444.6,1696.4 L445.3,1703.3 L446.0,1710.1 L446.7,1710.7 L447.0,1706.6 L447.4,1711.9 L448.1,1694.4 L448.8,1707.1 L449.5,1695.9 L450.2,1718.2 L450.9,1713.3 L451.6,1701.7 L452.3,1705.8 L453.0,1696.7 L453.7,1704.6 L454.4,1713.5 L455.1,1702.8 L455.8,1698.0 L456.5,1692.8 L457.2,1710.4 L457.9,1697.1 L458.6,1714.7 L459.3,1701.6 L460.0,1699.4 L460.7,1694.8 L461.4,1708.6 L462.1,1694.8 L462.8,1696.8 L463.5,1704.0 L464.2,1698.1 L464.9,1704.3 L465.6,1715.4 L466.0,1694.5 L466.3,1708.4 L467.0,1710.4 L467.7,1682.8 L468.4,1688.7 L469.1,1707.9 L469.8,1697.4 L470.5,1700.3 L471.2,1683.2 L471.9,1702.2 L472.6,1683.2 L473.3,1689.4 L474.0,1711.0 L474.7,1701.6 L475.4,1685.5 L476.1,1696.9 L476.8,1698.5 L477.5,1686.4 L478.2,1685.7 L478.9,1695.7 L479.6,1705.7 L480.3,1695.1 L481.0,1699.2 L481.7,1684.3 L482.4,1704.2 L483.1,1697.3 L484.0,1687.6 L484.5,1702.0 L485.2,1688.1 L485.9,1699.1 L486.6,1685.6 L487.3,1694.5 L488.0,1705.6 L488.7,1690.2 L489.4,1704.6 L490.1,1689.6 L490.8,1686.8 L491.5,1692.4 L492.2,1702.0 L492.9,1683.4 L493.6,1681.8 L494.3,1707.4 L495.0,1707.3 L495.7,1699.6 L496.4,1693.2 L497.1,1683.6 L497.8,1707.7 L498.5,1682.6 L499.2,1697.2 L499.9,1696.4 L500.6,1688.1 L501.3,1690.2 L502.0,1703.3 L502.7,1706.0 L503.4,1691.0 L504.1,1692.2 L504.8,1674.3 L505.5,1675.2 L506.2,1681.1 L506.9,1691.1 L507.6,1697.1 L508.3,1707.5 L509.0,1688.5 L509.7,1696.7 L510.4,1684.2 L511.1,1694.1 L511.8,1694.0 L512.5,1710.7 L513.2,1697.7 L513.9,1697.7 L514.6,1697.1 L515.3,1677.6 L516.0,1685.1 L516.7,1687.0 L517.4,1682.6 L518.1,1677.7 L518.8,1687.3 L519.5,1686.1 L520.2,1697.3 L521.0,1686.5 L521.6,1674.3 L522.3,1682.5 L523.0,1688.0 L523.7,1688.2 L524.4,1698.0 L525.1,1697.9 L525.8,1676.5 L526.5,1679.6 L527.2,1699.0 L527.9,1696.9 L528.6,1682.5 L529.3,1695.1 L530.0,1692.4 L530.7,1696.8 L531.4,1678.8 L532.1,1680.9 L532.8,1688.7 L533.5,1683.0 L534.2,1686.4 L534.9,1685.7 L535.6,1698.2 L536.3,1705.9 L537.0,1677.1 L537.7,1684.7 L538.4,1692.4 L539.1,1695.9 L539.8,1699.9 L540.5,1673.6 L541.2,1673.4 L541.9,1683.4 L542.6,1689.3 L543.3,1701.3 L544.0,1705.1 L544.7,1677.1 L545.4,1697.5 L546.1,1702.5 L546.8,1684.2 L547.5,1681.6 L548.2,1702.4 L548.9,1696.3 L549.6,1674.3 L550.3,1675.3 L551.0,1694.5 L551.7,1698.4 L552.4,1686.5 L553.1,1683.0 L553.8,1688.8 L554.5,1683.7 L555.2,1680.4 L555.9,1699.4 L556.6,1701.6 L557.3,1695.6 L558.0,1686.0 L558.7,1672.3 L559.4,1668.3 L560.1,1702.5 L560.8,1662.6 L561.5,1701.7 L562.2,1692.7 L562.9,1685.5 L563.6,1671.1 L564.3,1674.6 L565.0,1673.9 L565.7,1671.3 L566.4,1690.3 L567.1,1698.6 L567.8,1684.0 L568.5,1674.4 L569.2,1677.9 L569.9,1697.2 L570.6,1673.8 L571.3,1689.1 L572.0,1667.8 L572.7,1669.3 L573.4,1692.8 L574.1,1682.8 L574.8,1685.6 L575.5,1682.5 L576.2,1679.5 L576.9,1673.4 L577.6,1687.0 L578.3,1677.6 L579.0,1689.9 L579.7,1685.0 L580.4,1678.4 L581.1,1665.8 L581.8,1693.6 L582.5,1682.1 L583.2,1687.3 L583.9,1686.5 L584.6,1690.4 L585.3,1675.0 L586.0,1697.7 L586.7,1676.0 L587.0,1682.7 L587.4,1674.1 L588.1,1676.5 L588.8,1666.0 L589.5,1690.9 L590.2,1670.0 L590.9,1689.1 L591.6,1690.4 L592.3,1677.2 L593.0,1671.1 L593.7,1689.3 L594.4,1676.2 L595.1,1678.5 L595.8,1688.8 L596.5,1682.4 L597.2,1673.5 L597.9,1679.6 L598.6,1692.8 L599.3,1674.9 L600.0,1698.1 L600.7,1693.7 L601.0,1695.6 L601.4,1688.3 L602.1,1688.3 L602.8,1703.2 L603.5,1696.2 L604.2,1676.2 L604.9,1683.5 L605.6,1674.7 L606.3,1685.9 L607.0,1671.8 L607.7,1686.0 L608.4,1696.0 L609.1,1665.6 L609.8,1698.2 L610.5,1676.4 L611.2,1675.1 L611.9,1671.0 L612.6,1661.7 L613.3,1687.8 L614.0,1690.3 L614.7,1689.4 L615.0,1659.0 L615.4,1684.0 L616.1,1681.0 L616.8,1668.6 L617.5,1671.8 L618.2,1700.2 L618.9,1680.4 L619.6,1680.9 L620.3,1670.5 L621.0,1665.7 L621.7,1684.7 L622.4,1674.2 L623.1,1668.4 L623.8,1681.0 L624.5,1672.3 L625.2,1657.8 L625.9,1662.8 L626.6,1661.5 L627.3,1664.7 L628.0,1688.1 L628.7,1653.6 L629.0,1687.3 L629.4,1660.5 L630.1,1675.5 L630.8,1681.3 L631.5,1683.1 L632.2,1664.0 L632.9,1680.0 L633.6,1678.2 L634.3,1651.4 L635.0,1669.4 L635.7,1665.1 L636.4,1652.8 L637.1,1650.1 L637.8,1654.5 L638.5,1678.2 L639.2,1672.1 L639.9,1645.9 L640.6,1662.5 L641.3,1669.3 L642.0,1651.6 L642.7,1654.0 L643.0,1656.7 L643.4,1676.2 L644.1,1661.8 L644.8,1668.1 L645.5,1645.0 L646.2,1657.7 L646.9,1672.3 L647.6,1636.5 L648.3,1650.5 L649.0,1658.8 L649.7,1651.9 L650.4,1638.9 L651.1,1674.1 L651.8,1650.0 L652.5,1644.2 L653.2,1665.1 L653.9,1638.8 L654.6,1662.6 L655.3,1676.8 L656.0,1674.0 L656.7,1681.6 L657.4,1675.6 L658.0,1682.2 L658.8,1647.0 L659.5,1639.6 L660.2,1634.8 L660.9,1668.6 L661.6,1634.8 L662.3,1640.1 L663.0,1644.1 L663.7,1654.7 L664.4,1649.3 L665.1,1653.7 L665.8,1650.5 L666.5,1636.0 L667.2,1657.7 L667.9,1671.6 L668.6,1629.7 L669.3,1651.6 L670.0,1644.7 L670.7,1652.9 L671.4,1633.2 L672.0,1621.9 L672.8,1628.8 L673.5,1635.4 L674.2,1655.2 L674.9,1651.5 L675.6,1620.8 L676.3,1654.0 L677.0,1640.0 L677.7,1661.4 L678.4,1635.1 L679.1,1651.4 L679.8,1659.8 L680.5,1657.7 L681.2,1669.7 L681.9,1656.3 L682.6,1661.5 L683.3,1635.3 L684.0,1622.9 L684.7,1640.0 L685.4,1666.3 L686.0,1639.8 L686.8,1628.9 L687.5,1657.8 L688.2,1643.7 L688.9,1637.1 L689.6,1661.0 L690.3,1635.0 L691.0,1652.9 L691.7,1632.4 L692.4,1646.8 L693.1,1634.6 L693.8,1657.0 L694.5,1667.5 L695.2,1663.2 L695.9,1662.3 L696.6,1640.2 L697.3,1671.0 L698.0,1657.3 L698.7,1668.7 L699.4,1660.1 L700.0,1661.9 L700.8,1647.2 L701.5,1644.8 L702.2,1666.4 L702.9,1672.2 L703.6,1660.6 L704.3,1643.1 L705.0,1659.5 L705.7,1637.3 L706.4,1668.0 L707.1,1645.3 L707.8,1635.6 L708.5,1653.0 L709.2,1654.4 L709.9,1659.1 L710.6,1649.3 L711.3,1667.8 L712.0,1643.1 L712.7,1655.6 L713.4,1658.1 L714.0,1662.9 L714.8,1636.1 L715.5,1675.1 L716.2,1672.5 L716.9,1632.9 L717.6,1663.9 L718.3,1645.1 L719.0,1663.9 L719.7,1640.0 L720.4,1663.8 L721.1,1638.3 L721.8,1658.2 L722.5,1645.6 L723.2,1661.9 L723.9,1657.5 L724.6,1656.2 L725.3,1648.4 L726.0,1666.6 L726.7,1643.2 L727.4,1663.5 L728.0,1644.7 L728.8,1645.2 L729.5,1634.0 L730.2,1646.3 L730.9,1662.5 L731.6,1664.6 L732.3,1642.8 L733.0,1652.3 L733.7,1642.0 L734.4,1667.2 L735.1,1659.4 L735.8,1648.7 L736.5,1647.5 L737.2,1659.6 L737.9,1667.1 L738.6,1655.6 L739.3,1663.6 L740.0,1653.2 L740.7,1659.7 L741.4,1676.7 L742.1,1655.3 L743.0,1660.3 L743.5,1670.5 L744.2,1654.7 L744.9,1655.6 L745.6,1654.4 L746.3,1645.4 L747.0,1643.7 L747.7,1663.0 L748.4,1670.2 L749.1,1664.1 L749.8,1664.3 L750.5,1642.2 L751.2,1655.1 L751.9,1667.9 L752.6,1649.2 L753.3,1659.9 L754.0,1640.6 L754.7,1667.5 L755.4,1649.5 L756.1,1662.1 L757.0,1650.2 L757.5,1649.3 L758.2,1644.2 L758.9,1657.7 L759.6,1637.1 L760.3,1621.3 L761.0,1626.9 L761.7,1626.8 L762.4,1659.2 L763.1,1659.2 L763.8,1641.6 L764.5,1661.4 L765.2,1647.8 L765.9,1618.4 L766.6,1649.0 L767.3,1650.6 L768.0,1632.6 L768.7,1643.1 L769.4,1633.3 L770.1,1659.4 L771.0,1625.7 L771.5,1641.8 L772.2,1640.0 L772.9,1644.3 L773.6,1653.7 L774.3,1636.9 L775.0,1611.8 L775.7,1642.2 L776.4,1635.8 L777.1,1631.2 L777.8,1629.8 L778.5,1627.8 L779.2,1626.5 L779.9,1614.2 L780.6,1637.4 L781.3,1624.7 L782.0,1627.9 L782.7,1625.5 L783.4,1620.6 L784.1,1612.0 L785.0,1615.5 L785.5,1637.3 L786.2,1609.6 L786.9,1623.0 L787.6,1617.7 L788.3,1608.3 L789.0,1609.2 L789.7,1615.7 L790.4,1605.0 L791.1,1608.6 L791.8,1603.7 L792.5,1617.0 L793.2,1617.6 L793.9,1594.5 L794.4,1598.3 L795.3,1608.9 L796.0,1610.3 L796.7,1601.6 L797.4,1583.0 L798.1,1601.2 L798.8,1592.8 L799.5,1594.2 L800.0,1578.8 L800.9,1565.5 L801.6,1566.7 L802.3,1560.2 L803.0,1581.3 L803.7,1586.0 L804.4,1569.9 L805.0,1561.3 L805.8,1554.4 L806.5,1561.9 L807.2,1569.6 L807.9,1563.8 L808.6,1561.5 L809.3,1571.6 L810.0,1545.4 L810.4,1546.2 L810.7,1562.0 L811.4,1556.2 L812.1,1542.3 L812.8,1542.3 L813.4,1527.3 L814.2,1531.0 L814.9,1524.9 L815.6,1513.6 L816.3,1522.7 L817.0,1519.8 L817.7,1501.0 L818.4,1500.8 L819.1,1499.1 L819.8,1490.0 L820.5,1490.7 L821.0,1473.7 L821.9,1463.8 L822.6,1479.6 L823.3,1462.0 L824.0,1455.8 L824.7,1451.5 L825.4,1460.4 L826.1,1443.1 L827.0,1437.0 L827.5,1444.9 L828.2,1444.9 L829.0,1436.7 L829.6,1436.0 L830.3,1445.8 L831.0,1451.6 L831.7,1456.4 L832.5,1455.7 L833.1,1464.0 L833.5,1476.8 L833.8,1472.3 L834.5,1482.6 L835.2,1496.8 L836.0,1495.6 L836.6,1489.8 L837.3,1502.5 L838.0,1496.6 L838.4,1496.6 L838.7,1510.9 L839.4,1539.1 L840.1,1544.4 L840.8,1545.9 L841.5,1560.8 L842.2,1572.0 L842.9,1570.1 L843.6,1573.7 L844.3,1563.0 L845.0,1580.6 L845.7,1592.0 L846.0,1576.5 L846.4,1581.3 L847.1,1594.5 L847.8,1593.6 L848.5,1606.7 L849.0,1599.0 L849.9,1614.0 L850.6,1606.5 L851.3,1614.9 L852.0,1610.7 L852.7,1625.9 L853.0,1620.5 L853.4,1629.1 L854.1,1623.3 L854.8,1622.6 L855.5,1632.7 L856.0,1615.5 L856.9,1643.7 L857.6,1631.2 L858.3,1647.2 L859.0,1632.7 L859.7,1642.7 L860.0,1660.1 L860.4,1640.8 L861.1,1664.2 L861.8,1637.4 L862.5,1662.6 L863.2,1667.7 L863.9,1661.7 L864.6,1644.4 L865.0,1666.4 L865.3,1670.8 L866.0,1642.5 L866.7,1646.7 L867.4,1643.4 L868.1,1674.4 L868.8,1651.1 L869.5,1668.5 L870.0,1648.3 L870.9,1647.7 L871.6,1640.4 L872.3,1657.7 L873.0,1660.6 L873.7,1669.0 L874.4,1643.2 L875.0,1662.6 L875.8,1646.8 L876.5,1644.5 L877.2,1651.4 L877.9,1656.5 L878.6,1676.0 L879.3,1638.1 L880.0,1663.9 L880.7,1667.6 L881.4,1676.1 L882.1,1660.2 L882.8,1666.9 L883.5,1670.8 L884.2,1644.0 L885.0,1643.3 L885.6,1662.8 L886.3,1669.5 L887.0,1648.3 L887.7,1666.6 L888.4,1665.4 L889.1,1688.6 L890.0,1667.1 L890.5,1664.9 L891.2,1668.5 L891.9,1691.9 L892.6,1661.8 L893.3,1676.8 L894.0,1689.8 L894.7,1688.6 L895.0,1679.9 L895.4,1701.9 L896.1,1667.4 L896.8,1685.8 L897.5,1697.5 L898.2,1669.3 L898.9,1696.3 L899.6,1685.2 L900.0,1687.9 L900.3,1702.2 L901.0,1694.1 L901.7,1680.0 L902.4,1691.7 L903.1,1682.6 L903.8,1702.0 L904.5,1685.7 L905.0,1678.8 L905.9,1710.5 L906.6,1676.7 L907.3,1695.4 L908.0,1680.8 L908.7,1716.1 L909.4,1690.6 L910.0,1711.9 L910.8,1699.8 L911.5,1690.1 L912.2,1708.3 L912.9,1716.7 L913.6,1700.1 L914.3,1721.9 L915.0,1698.8 L915.7,1711.6 L916.4,1709.1 L917.1,1719.0 L917.8,1706.0 L918.5,1711.0 L919.2,1706.0 L920.0,1697.2 L920.6,1711.6 L921.3,1701.8 L922.0,1718.8 L922.7,1715.1 L923.4,1721.7 L924.1,1726.8 L925.0,1721.2 L925.5,1707.7 L926.2,1709.9 L926.9,1717.8 L927.6,1710.7 L928.3,1724.9 L929.0,1716.4 L929.7,1712.5 L930.0,1710.3 L930.4,1724.5 L931.1,1705.8 L931.8,1705.9 L932.5,1715.2 L933.2,1732.2 L933.9,1732.8 L934.6,1714.9 L935.0,1728.3 L935.3,1739.9 L936.0,1710.5 L936.7,1727.7 L937.4,1712.2 L938.1,1723.6 L938.8,1716.5 L939.5,1723.6 L940.0,1722.6 L940.9,1709.0 L941.6,1722.7 L942.3,1721.4 L943.0,1726.3 L943.7,1719.2 L944.4,1719.9 L945.0,1708.4 L945.8,1720.1 L946.5,1726.2 L947.2,1708.7 L947.9,1717.0 L948.6,1710.9 L949.3,1724.3 L950.0,1711.0 L950.7,1722.8 L951.4,1725.0 L952.1,1728.8 L952.8,1718.9 L953.5,1715.2 L954.2,1709.0 L955.0,1720.5 L955.6,1726.1 L956.3,1713.6 L957.0,1733.3 L957.7,1730.1 L958.4,1717.9 L959.1,1736.0 L960.0,1718.7 L960.5,1730.4 L961.2,1712.0 L961.9,1732.0 L962.6,1728.2 L963.3,1732.2 L964.0,1733.8 L964.7,1743.2 L965.0,1707.8 L965.4,1729.1 L966.1,1714.6 L966.8,1714.9 L967.5,1703.1 L968.2,1705.8 L968.9,1708.8 L969.6,1720.0 L970.0,1720.9 L970.3,1729.5 L971.0,1713.8 L971.7,1708.0 L972.4,1709.0 L973.1,1703.9 L973.8,1706.3 L974.5,1719.6 L975.0,1717.8 L975.9,1704.3 L976.6,1718.9 L977.3,1713.5 L978.0,1705.3 L978.7,1715.1 L979.4,1699.2 L980.0,1695.2 L980.8,1690.9 L981.5,1714.5 L982.2,1707.2 L982.9,1713.7 L983.6,1703.6 L984.3,1697.7 L985.0,1675.0 L985.7,1690.9 L986.4,1685.3 L987.1,1694.0 L987.8,1681.3 L988.5,1683.9 L989.2,1678.8 L990.0,1680.6 L990.6,1712.0 L991.3,1674.9 L992.0,1688.5 L992.7,1681.5 L993.4,1693.8 L994.1,1686.1 L995.0,1668.4 L995.5,1666.2 L996.2,1679.0 L996.9,1657.9 L997.6,1659.1 L998.3,1666.9 L999.0,1661.1 L999.7,1642.3 L1000.0,1655.2 L1000.4,1656.6 L1001.1,1636.1 L1001.8,1636.7 L1002.5,1635.2 L1003.2,1641.1 L1003.9,1646.8 L1004.6,1647.3 L1005.0,1614.3 L1005.3,1613.8 L1006.0,1625.1 L1006.7,1619.1 L1007.4,1622.5 L1008.1,1607.1 L1008.8,1620.4 L1009.5,1613.9 L1010.0,1613.2 L1010.9,1605.4 L1011.6,1594.5 L1012.3,1587.2 L1013.0,1587.6 L1013.7,1580.7 L1014.4,1571.6 L1015.0,1571.3 L1015.8,1577.0 L1016.5,1576.0 L1017.2,1574.0 L1018.0,1583.3 L1018.6,1580.8 L1019.3,1577.3 L1020.0,1584.6 L1020.7,1586.7 L1021.4,1590.7 L1022.0,1577.8 L1022.8,1574.4 L1023.5,1569.7 L1024.2,1575.7 L1024.9,1572.0 L1025.6,1571.2 L1026.0,1570.7 L1026.3,1581.3 L1027.0,1581.5 L1027.7,1573.1 L1028.4,1575.1 L1029.1,1563.6 L1029.8,1564.2 L1030.5,1560.8 L1031.0,1562.7 L1031.9,1577.1 L1032.6,1583.7 L1033.3,1586.5 L1034.0,1573.8 L1034.7,1595.7 L1035.4,1598.5 L1036.1,1595.3 L1037.0,1615.6 L1037.5,1622.9 L1038.2,1620.6 L1039.0,1608.8 L1039.6,1621.2 L1040.3,1606.4 L1041.0,1602.5 L1041.7,1592.3 L1042.0,1587.3 L1042.4,1609.8 L1043.1,1597.5 L1043.8,1589.8 L1044.5,1591.5 L1045.0,1573.6 L1045.9,1575.3 L1046.6,1580.3 L1047.3,1567.3 L1048.0,1567.1 L1048.7,1562.6 L1049.4,1559.7 L1050.1,1539.8 L1050.5,1534.6 L1050.8,1532.2 L1051.5,1515.5 L1052.0,1507.7 L1052.9,1491.4 L1053.5,1485.3 L1054.2,1442.9 L1055.0,1440.3 L1055.7,1433.8 L1056.4,1423.7 L1057.1,1421.5 L1057.4,1410.8 L1057.8,1403.3 L1058.5,1391.5 L1059.2,1375.6 L1060.0,1363.1 L1060.6,1367.4 L1061.3,1377.2 L1062.0,1384.0 L1062.7,1392.8 L1063.4,1405.2 L1064.0,1408.0 L1064.8,1420.8 L1065.5,1430.1 L1065.8,1425.9 L1066.2,1443.4 L1066.9,1449.7 L1067.7,1469.9 L1068.3,1466.3 L1069.0,1486.4 L1069.7,1491.5 L1070.4,1517.7 L1070.8,1524.7 L1071.1,1529.5 L1071.8,1542.8 L1072.5,1550.9 L1073.0,1553.3 L1073.9,1568.0 L1074.6,1582.5 L1075.5,1582.7 L1076.0,1584.2 L1076.7,1589.0 L1077.4,1598.8 L1078.1,1608.1 L1078.5,1611.4 L1078.8,1615.1 L1079.5,1628.9 L1080.2,1642.1 L1081.0,1645.6 L1081.6,1635.7 L1082.3,1641.5 L1083.0,1662.8 L1083.7,1650.2 L1084.4,1654.8 L1085.1,1671.3 L1085.8,1668.2 L1086.3,1674.1 L1087.2,1680.5 L1087.9,1699.1 L1088.6,1679.9 L1089.0,1684.6 L1089.3,1700.6 L1090.0,1681.4 L1090.7,1685.8 L1091.4,1704.7 L1092.1,1709.4 L1093.0,1688.4 L1093.5,1709.8 L1094.2,1690.3 L1094.9,1711.4 L1095.6,1707.3 L1096.3,1719.4 L1097.0,1716.8 L1097.7,1732.0 L1098.4,1702.9 L1099.1,1728.7 L1100.0,1729.2 L1100.5,1715.6 L1101.2,1742.5 L1101.9,1708.0 L1102.6,1725.9 L1103.3,1713.3 L1104.0,1737.3 L1104.7,1711.2 L1105.4,1732.6 L1106.1,1738.8 L1106.8,1737.5 L1107.5,1728.6 L1108.2,1744.4 L1108.9,1743.5 L1109.6,1730.7 L1110.0,1748.7 L1110.3,1717.8 L1111.0,1728.8 L1111.7,1746.4 L1112.4,1738.9 L1113.1,1732.7 L1113.8,1716.7 L1114.5,1743.1 L1115.2,1728.3 L1115.9,1735.3 L1116.6,1729.1 L1117.3,1742.4 L1118.0,1745.7 L1118.7,1751.6 L1119.4,1745.4 L1120.0,1753.0 L1120.8,1738.6 L1121.5,1744.6 L1122.2,1757.6 L1122.9,1733.4 L1123.6,1754.2 L1124.3,1749.3 L1125.0,1744.4 L1125.7,1745.5 L1126.4,1736.5 L1127.1,1758.7 L1127.8,1753.4 L1128.5,1759.2 L1129.2,1756.5 L1130.0,1742.3 L1130.6,1745.3 L1131.3,1740.7 L1132.0,1737.2 L1132.7,1752.3 L1133.4,1759.3 L1134.1,1749.6 L1134.8,1752.2 L1135.5,1744.2 L1136.2,1755.1 L1136.9,1736.1 L1137.6,1739.7 L1138.3,1762.1 L1139.0,1744.3 L1139.7,1756.3 L1140.0,1748.7 L1140.4,1736.8 L1141.1,1750.6 L1141.8,1757.8 L1142.5,1747.8 L1143.2,1739.7 L1143.9,1743.7 L1144.6,1750.0 L1145.3,1739.6 L1146.0,1743.5 L1146.7,1739.4 L1147.4,1762.0 L1148.1,1757.4 L1148.8,1738.6 L1149.5,1748.7 L1150.0,1751.2 L1150.9,1763.3 L1151.6,1764.7 L1152.3,1753.3 L1153.0,1753.5 L1153.7,1764.0 L1154.4,1750.3 L1155.1,1759.6 L1155.8,1747.1 L1156.5,1755.9 L1157.2,1754.4 L1157.9,1751.2 L1158.6,1767.2 L1159.3,1755.0 L1160.0,1759.3 L1160.7,1764.3 L1161.4,1746.6 L1162.1,1762.7 L1162.8,1765.8 L1163.5,1748.9 L1164.2,1748.2 L1164.9,1747.9 L1165.6,1759.7 L1166.3,1749.9 L1167.0,1756.6 L1167.7,1761.0 L1168.4,1761.1 L1169.1,1770.5 L1170.0,1762.9 L1170.5,1764.2 L1171.2,1752.7 L1171.9,1743.0 L1172.6,1752.2 L1173.3,1751.3 L1174.0,1763.4 L1174.7,1759.2 L1175.4,1754.6 L1176.1,1757.4 L1176.8,1765.1 L1177.5,1749.6 L1178.2,1767.8 L1178.9,1759.4 L1179.6,1759.2 L1180.0,1752.3 L1180.3,1750.9 L1181.0,1756.2 L1181.7,1768.5 L1182.4,1749.5 L1183.1,1761.6 L1183.8,1735.8 L1184.5,1758.0 L1185.2,1757.9 L1185.9,1747.9 L1186.6,1748.9 L1187.3,1755.2 L1188.0,1762.5 L1188.7,1755.3 L1189.4,1752.3 L1190.0,1757.9 L1190.8,1739.9 L1191.5,1742.0 L1192.2,1738.5 L1192.9,1731.1 L1193.6,1743.4 L1194.3,1758.4 L1195.0,1751.8 L1195.7,1742.4 L1196.4,1761.1 L1197.1,1752.4 L1197.8,1752.3 L1198.5,1742.9 L1199.2,1749.8 L1200.0,1737.9 L1200.6,1731.7 L1201.3,1735.0 L1202.0,1756.9 L1202.7,1751.7 L1203.4,1737.2 L1204.1,1738.6 L1204.8,1758.6 L1205.5,1748.5 L1206.2,1736.8 L1206.9,1742.6 L1207.6,1753.2 L1208.3,1732.3 L1209.0,1722.8 L1209.7,1746.3 L1210.0,1738.8 L1210.4,1751.2 L1211.1,1739.9 L1211.8,1725.9 L1212.5,1735.9 L1213.2,1726.0 L1213.9,1733.5 L1214.6,1720.9 L1215.3,1737.3 L1216.0,1724.0 L1216.7,1723.2 L1217.4,1739.6 L1218.1,1724.1 L1218.8,1737.3 L1219.5,1723.3 L1220.0,1737.7 L1220.9,1734.5 L1221.6,1727.8 L1222.3,1740.7 L1223.0,1721.9 L1223.7,1727.9 L1224.4,1732.8 L1225.1,1738.7 L1225.8,1713.5 L1226.5,1729.2 L1227.2,1739.6 L1227.9,1731.1 L1228.6,1710.8 L1229.3,1733.0 L1230.0,1721.4 L1230.7,1721.3 L1231.4,1730.6 L1232.1,1733.3 L1232.8,1738.9 L1233.5,1726.0 L1234.2,1740.9 L1234.9,1718.6 L1235.6,1740.8 L1236.3,1734.0 L1237.0,1724.2 L1237.7,1723.4 L1238.4,1740.3 L1239.1,1752.6 L1240.0,1723.4 L1240.5,1744.0 L1241.2,1720.8 L1241.9,1733.6 L1242.6,1739.5 L1243.3,1748.5 L1244.0,1754.3 L1244.7,1743.6 L1245.4,1741.2 L1246.1,1743.5 L1246.8,1743.1 L1247.5,1748.7 L1248.2,1747.8 L1248.9,1744.7 L1249.6,1765.8 L1250.0,1745.6 L1250.3,1748.2 L1251.0,1750.5 L1251.7,1747.0 L1252.4,1760.4 L1253.1,1757.4 L1253.8,1758.0 L1254.5,1752.9 L1255.2,1746.5 L1255.9,1761.3 L1256.6,1752.9 L1257.3,1746.7 L1258.0,1764.1 L1258.7,1761.1 L1259.4,1755.8 L1260.0,1761.8 L1260.8,1767.0 L1261.5,1752.2 L1262.2,1755.3 L1262.9,1756.9 L1263.6,1750.3 L1264.3,1758.7 L1265.0,1754.8 L1265.7,1764.0 L1266.4,1751.7 L1267.1,1772.8 L1267.8,1754.2 L1268.5,1764.5 L1269.2,1767.4 L1270.0,1763.4 L1270.6,1764.4 L1271.3,1757.0 L1272.0,1760.9 L1272.7,1763.6 L1273.4,1759.3 L1274.1,1770.7 L1274.8,1774.2 L1275.5,1777.2 L1276.2,1764.8 L1276.9,1762.8 L1277.6,1773.0 L1278.3,1766.7 L1279.0,1768.4 L1279.7,1781.7 L1280.0,1779.0 L1280.4,1759.7 L1281.1,1768.0 L1281.8,1759.4 L1282.5,1776.0 L1283.2,1762.0 L1283.9,1765.5 L1284.6,1780.6 L1285.3,1753.1 L1286.0,1763.1 L1286.7,1747.4 L1287.4,1774.8 L1288.1,1787.8 L1288.8,1775.1 L1289.5,1782.0 L1290.0,1763.1 L1290.9,1768.7 L1291.6,1770.4 L1292.3,1771.2 L1293.0,1785.9 L1293.7,1773.6 L1294.4,1766.7 L1295.1,1774.4 L1295.8,1764.1 L1296.5,1764.5 L1297.2,1769.1 L1297.9,1776.1 L1298.6,1755.5 L1299.3,1772.9 L1300.0,1769.5 L1300.7,1761.9 L1301.4,1773.1 L1302.1,1780.4 L1302.8,1769.1 L1303.5,1783.0 L1304.2,1779.7 L1304.9,1774.5 L1305.6,1763.2 L1306.3,1770.6 L1307.0,1770.1 L1307.7,1764.4 L1308.4,1769.8 L1309.1,1780.0 L1310.0,1759.9 L1310.5,1771.0 L1311.2,1780.5 L1311.9,1776.9 L1312.6,1763.5 L1313.3,1764.4 L1314.0,1769.0 L1314.7,1782.1 L1315.4,1771.5 L1316.1,1757.5 L1316.8,1780.2 L1317.5,1782.2 L1318.2,1756.4 L1318.9,1774.3 L1319.6,1783.6 L1320.0,1781.0 L1320.3,1775.6 L1321.0,1764.9 L1321.7,1787.3 L1322.4,1766.0 L1323.1,1771.3 L1323.8,1759.3 L1324.5,1765.5 L1325.2,1761.1 L1325.9,1770.2 L1326.6,1756.0 L1327.3,1761.2 L1328.0,1777.7 L1328.7,1779.3 L1329.4,1773.3 L1330.0,1767.0 L1330.8,1760.5 L1331.5,1772.1 L1332.2,1776.8 L1332.9,1772.0 L1333.6,1753.2 L1334.3,1767.4 L1335.0,1775.6 L1335.7,1785.7 L1336.4,1777.4 L1337.1,1766.6 L1337.8,1773.3 L1338.5,1763.4 L1339.2,1763.5 L1339.9,1775.5 L1340.6,1761.6 L1341.3,1764.4 L1342.0,1759.8 L1342.7,1771.6 L1343.4,1762.4 L1344.1,1756.5 L1344.8,1757.1 L1345.5,1755.4 L1346.0,1768.3 L1346.9,1759.7 L1347.6,1772.2 L1348.3,1780.3 L1349.0,1760.9 L1349.7,1764.3 L1350.4,1779.2 L1351.1,1779.7 L1351.8,1763.0 L1352.5,1779.2 L1353.2,1753.0 L1353.9,1755.4 L1354.6,1753.0 L1355.3,1771.8 L1356.0,1769.7 L1356.7,1769.1 L1357.4,1768.2 L1358.1,1774.0 L1358.8,1753.3 L1359.5,1773.4 L1360.2,1761.1 L1360.9,1750.0 L1361.6,1770.0 L1362.3,1767.1 L1363.0,1758.8 L1363.7,1757.5 L1364.4,1767.7 L1365.1,1761.4 L1365.8,1752.4 L1366.5,1768.1 L1367.2,1765.5 L1367.9,1759.8 L1368.6,1756.7 L1369.3,1752.4 L1370.0,1759.7 L1370.7,1751.2 L1371.4,1760.8 L1372.1,1761.3 L1372.8,1768.2 L1373.5,1765.2 L1374.2,1746.9 L1374.9,1746.0 L1375.6,1773.5 L1376.3,1758.6 L1377.0,1766.4 L1377.7,1749.7 L1378.4,1743.6 L1379.0,1772.9 L1379.8,1766.6 L1380.5,1740.3 L1381.2,1753.9 L1381.9,1748.5 L1382.6,1778.3 L1383.3,1766.8 L1384.0,1762.8 L1384.7,1749.2 L1385.4,1749.1 L1386.1,1759.1 L1386.8,1746.6 L1387.5,1748.8 L1388.2,1754.7 L1388.9,1764.4 L1389.6,1770.9 L1390.3,1769.7 L1391.0,1770.1 L1391.7,1750.1 L1392.4,1756.1 L1393.1,1767.0 L1393.8,1761.9 L1394.5,1754.4 L1395.0,1772.1 L1395.9,1765.7 L1396.6,1743.7 L1397.3,1769.0 L1398.0,1768.5 L1398.7,1757.5 L1399.4,1753.1 L1400.1,1749.3 L1400.8,1752.5 L1401.5,1750.5 L1402.2,1771.2 L1402.9,1761.8 L1403.6,1763.5 L1404.3,1752.3 L1405.0,1761.6 L1405.7,1753.7 L1406.4,1752.1 L1407.1,1773.6 L1407.8,1769.2 L1408.5,1761.3 L1409.2,1769.3 L1409.9,1751.8 L1410.6,1758.9 L1411.0,1761.5 L1411.3,1761.6 L1412.0,1769.1 L1412.7,1761.1 L1413.4,1768.5 L1414.1,1743.4 L1414.8,1759.8 L1415.5,1755.3 L1416.2,1755.2 L1416.9,1757.1 L1417.6,1762.1 L1418.3,1745.2 L1419.0,1745.7 L1419.7,1747.6 L1420.4,1757.3 L1421.1,1747.5 L1421.8,1756.9 L1422.5,1753.0 L1423.2,1739.9 L1423.9,1748.6 L1424.6,1746.1 L1425.3,1757.8 L1426.0,1738.6 L1426.7,1743.7 L1427.4,1764.9 L1428.0,1752.5 L1428.8,1741.4 L1429.5,1748.0 L1430.2,1751.9 L1430.9,1741.4 L1431.6,1742.9 L1432.3,1762.0 L1433.0,1754.8 L1433.7,1759.9 L1434.4,1753.7 L1435.1,1727.7 L1435.8,1739.7 L1436.5,1736.4 L1437.2,1758.0 L1437.9,1731.1 L1438.6,1739.4 L1439.3,1759.7 L1440.0,1729.5 L1440.7,1727.4 L1441.4,1760.8 L1442.1,1745.8 L1442.8,1730.4 L1443.5,1720.1 L1444.0,1744.9 L1444.9,1740.4 L1445.6,1733.0 L1446.3,1745.1 L1447.0,1731.2 L1447.7,1764.8 L1448.4,1729.1 L1449.1,1744.9 L1449.8,1732.7 L1450.5,1731.7 L1451.2,1738.2 L1451.9,1745.6 L1452.6,1745.4 L1453.3,1761.0 L1454.0,1753.1 L1454.7,1739.2 L1455.4,1728.0 L1456.1,1723.9 L1456.8,1758.4 L1457.5,1725.2 L1458.2,1751.2 L1458.9,1726.6 L1459.6,1730.7 L1460.0,1736.2 L1460.3,1719.8 L1461.0,1729.9 L1461.7,1730.1 L1462.4,1746.6 L1463.1,1743.0 L1463.8,1723.1 L1464.5,1725.6 L1465.2,1719.6 L1465.9,1718.8 L1466.6,1729.6 L1467.3,1718.5 L1468.0,1731.3 L1468.7,1714.6 L1469.4,1711.0 L1470.1,1710.5 L1470.8,1695.9 L1471.5,1702.7 L1472.2,1713.2 L1472.9,1696.8 L1473.6,1716.2 L1474.3,1696.9 L1475.0,1719.2 L1475.7,1714.2 L1476.0,1692.5 L1476.4,1714.3 L1477.1,1697.6 L1477.8,1717.1 L1478.5,1713.1 L1479.2,1708.7 L1479.9,1720.0 L1480.6,1705.6 L1481.3,1707.0 L1482.0,1701.7 L1482.7,1708.5 L1483.4,1713.9 L1484.1,1707.0 L1485.0,1697.6 L1485.5,1702.1 L1486.2,1688.4 L1486.9,1698.3 L1487.6,1709.1 L1488.3,1693.1 L1489.0,1707.7 L1489.7,1708.5 L1490.4,1704.0 L1491.1,1692.1 L1491.8,1697.3 L1492.5,1704.9 L1493.0,1700.5 L1493.9,1705.8 L1494.6,1701.1 L1495.3,1696.2 L1496.0,1696.4 L1496.7,1702.7 L1497.4,1717.2 L1498.1,1699.0 L1498.8,1713.2 L1499.5,1705.3 L1500.2,1715.5 L1501.0,1718.1 L1501.6,1703.7 L1502.3,1717.8 L1503.0,1722.1 L1503.7,1701.6 L1504.4,1707.0 L1505.1,1713.2 L1505.8,1716.3 L1506.5,1716.7 L1507.2,1723.1 L1507.9,1732.7 L1508.6,1723.0 L1509.0,1724.1 L1509.3,1729.6 L1510.0,1725.4 L1510.7,1719.4 L1511.4,1707.5 L1512.1,1732.1 L1512.8,1724.1 L1513.5,1735.3 L1514.2,1735.6 L1514.9,1722.5 L1515.6,1732.7 L1516.3,1715.1 L1517.0,1734.0 L1517.7,1718.8 L1518.4,1714.3 L1519.1,1738.6 L1519.8,1730.2 L1520.5,1724.0 L1521.2,1743.8 L1521.9,1736.0 L1522.6,1719.9 L1523.3,1723.4 L1524.0,1727.7 L1524.7,1744.6 L1525.0,1727.6 L1525.4,1732.5 L1526.1,1728.5 L1526.8,1721.9 L1527.5,1745.3 L1528.2,1743.1 L1528.9,1741.2 L1529.6,1743.1 L1530.3,1744.0 L1531.0,1736.8 L1531.7,1734.7 L1532.4,1729.6 L1533.1,1739.1 L1533.8,1733.2 L1534.5,1743.8 L1535.2,1738.9 L1535.9,1744.7 L1536.6,1741.0 L1537.3,1748.0 L1538.0,1747.8 L1538.7,1754.8 L1539.4,1740.8 L1540.1,1737.2 L1540.8,1745.9 L1541.5,1755.9 L1542.0,1754.4 L1542.9,1741.9 L1543.6,1737.9 L1544.3,1760.8 L1545.0,1740.4 L1545.7,1756.9 L1546.4,1748.9 L1547.1,1741.9 L1547.8,1737.1 L1548.5,1744.3 L1549.2,1744.3 L1549.9,1751.2 L1550.6,1742.0 L1551.3,1745.7 L1552.0,1758.6 L1552.7,1740.7 L1553.4,1733.0 L1554.1,1754.5 L1554.8,1758.6 L1555.5,1756.7 L1556.2,1743.7 L1556.9,1745.9 L1557.6,1754.0 L1558.0,1760.1 L1558.3,1734.4 L1559.0,1737.2 L1559.7,1739.3 L1560.4,1739.4 L1561.1,1754.2 L1561.8,1751.1 L1562.5,1753.4 L1563.2,1735.2 L1563.9,1740.5 L1564.6,1741.4 L1565.3,1749.5 L1566.0,1763.9 L1566.7,1750.9 L1567.4,1753.8 L1568.1,1748.2 L1568.8,1744.0 L1569.5,1747.3 L1570.2,1759.1 L1570.9,1758.1 L1571.6,1757.5 L1572.3,1750.5 L1573.0,1749.8 L1573.7,1749.0 L1574.0,1751.2 L1574.4,1743.8 L1575.1,1739.6 L1575.8,1756.0 L1576.5,1736.3 L1577.2,1751.7 L1577.9,1735.3 L1578.6,1756.5 L1579.3,1746.3 L1580.0,1753.9 L1580.7,1759.8 L1581.4,1751.6 L1582.1,1739.9 L1582.8,1748.3 L1583.5,1732.5 L1584.2,1731.3 L1584.9,1733.6 L1585.6,1739.6 L1586.3,1737.7 L1587.0,1731.3 L1587.7,1735.6 L1588.4,1749.5 L1589.1,1727.7 L1590.0,1750.7 L1590.5,1742.8 L1591.2,1744.1 L1591.9,1739.4 L1592.6,1743.4 L1593.3,1735.3 L1594.0,1753.7 L1594.7,1754.2 L1595.4,1729.4 L1596.1,1727.2 L1596.8,1727.7 L1597.5,1715.7 L1598.2,1745.7 L1598.9,1731.0 L1599.6,1718.3 L1600.3,1719.3 L1601.0,1731.3 L1601.7,1747.7 L1602.4,1744.9 L1603.1,1731.4 L1603.8,1717.7 L1604.5,1731.4 L1605.2,1729.1 L1605.9,1744.3 L1606.6,1735.1 L1607.0,1715.4 L1607.3,1722.8 L1608.0,1719.0 L1608.7,1720.4 L1609.4,1712.1 L1610.1,1738.1 L1610.8,1739.0 L1611.5,1716.8 L1612.2,1729.8 L1612.9,1717.6 L1613.6,1704.8 L1614.3,1732.6 L1615.0,1725.0 L1615.7,1705.7 L1616.4,1702.0 L1617.1,1707.4 L1617.8,1732.0 L1618.5,1705.1 L1619.2,1704.2 L1620.0,1713.4 L1620.6,1707.7 L1621.3,1705.3 L1622.0,1697.8 L1622.7,1684.0 L1623.4,1706.2 L1624.1,1686.2 L1624.8,1691.2 L1625.5,1684.7 L1626.0,1685.9 L1626.9,1681.9 L1627.6,1666.4 L1628.3,1679.2 L1629.0,1663.3 L1629.7,1662.3 L1630.4,1670.9 L1631.0,1670.3 L1631.8,1663.6 L1632.5,1666.1 L1633.2,1661.6 L1633.9,1642.9 L1634.7,1654.1 L1635.3,1646.7 L1636.0,1627.3 L1636.6,1632.9 L1637.4,1618.9 L1638.1,1619.9 L1638.8,1602.2 L1639.5,1606.9 L1640.0,1597.6 L1640.9,1578.9 L1641.6,1576.2 L1642.0,1565.9 L1642.3,1565.4 L1643.0,1542.5 L1643.9,1533.9 L1644.4,1524.6 L1645.1,1511.8 L1645.8,1499.2 L1646.5,1493.2 L1647.3,1476.8 L1647.9,1460.3 L1648.6,1443.0 L1648.9,1443.0 L1649.3,1433.8 L1650.0,1415.1 L1650.7,1399.4 L1651.0,1399.1 L1651.4,1397.7 L1652.1,1384.6 L1653.0,1373.7 L1653.5,1382.0 L1654.2,1374.2 L1655.0,1367.1 L1655.6,1368.8 L1656.3,1379.4 L1657.0,1379.8 L1657.7,1392.9 L1658.5,1393.2 L1659.1,1404.5 L1660.0,1416.3 L1660.5,1429.9 L1661.2,1429.3 L1661.6,1440.5 L1661.9,1445.3 L1662.6,1452.8 L1663.3,1460.4 L1664.0,1477.9 L1664.3,1479.1 L1664.7,1481.7 L1665.4,1481.9 L1666.1,1493.7 L1667.0,1499.0 L1667.7,1534.0 L1668.2,1545.4 L1668.9,1549.9 L1669.6,1558.4 L1670.3,1559.1 L1670.8,1567.3 L1671.7,1581.1 L1672.4,1585.9 L1673.0,1593.9 L1673.8,1594.4 L1674.5,1597.0 L1675.2,1617.3 L1675.9,1608.5 L1676.6,1626.7 L1677.4,1628.1 L1678.0,1640.2 L1678.7,1643.6 L1679.0,1644.7 L1679.4,1655.0 L1680.0,1664.7 L1680.8,1655.7 L1681.5,1664.8 L1682.2,1676.8 L1682.9,1667.0 L1683.6,1663.2 L1684.3,1679.9 L1685.0,1682.4 L1685.5,1684.8 L1686.4,1676.3 L1687.1,1688.4 L1688.0,1698.9 L1688.5,1686.2 L1689.2,1703.2 L1689.9,1714.3 L1690.6,1699.4 L1691.3,1700.8 L1692.0,1713.3 L1692.7,1707.4 L1693.0,1706.9 L1693.4,1714.5 L1694.1,1723.3 L1694.8,1709.9 L1695.5,1723.9 L1696.2,1724.7 L1696.9,1729.3 L1697.6,1735.1 L1698.3,1734.3 L1699.0,1733.7 L1699.7,1730.4 L1700.0,1734.8 L1700.4,1730.1 L1701.1,1731.8 L1701.8,1740.7 L1702.5,1732.0 L1703.2,1744.4 L1703.9,1736.5 L1704.6,1734.5 L1705.3,1742.3 L1706.0,1747.9 L1706.7,1749.0 L1707.4,1751.8 L1708.1,1740.5 L1708.8,1739.8 L1709.5,1739.1 L1710.0,1756.8 L1710.9,1749.3 L1711.6,1741.0 L1712.3,1752.0 L1713.0,1752.7 L1713.7,1736.4 L1714.4,1746.7 L1715.1,1762.9 L1715.8,1741.8 L1716.5,1748.0 L1717.2,1766.9 L1717.9,1754.3 L1718.6,1748.8 L1719.3,1764.8 L1720.0,1750.4 L1720.7,1760.0 L1721.4,1756.3 L1722.1,1740.7 L1722.8,1754.8 L1723.5,1756.3 L1724.2,1752.2 L1724.9,1767.1 L1725.6,1771.1 L1726.3,1763.9 L1727.0,1756.6 L1727.7,1754.7 L1728.4,1757.6 L1729.1,1764.3 L1730.0,1773.3 L1730.5,1753.3 L1731.2,1761.4 L1731.9,1774.8 L1732.6,1764.3 L1733.3,1777.6 L1734.0,1751.4 L1734.7,1782.3 L1735.4,1764.2 L1736.1,1776.3 L1736.8,1776.3 L1737.5,1771.9 L1738.2,1780.2 L1738.9,1766.4 L1739.6,1771.8 L1740.0,1782.9 L1740.3,1784.2 L1741.0,1771.7 L1741.7,1764.8 L1742.4,1761.2 L1743.1,1787.3 L1743.8,1788.1 L1744.5,1769.1 L1745.2,1770.6 L1745.9,1777.4 L1746.6,1786.0 L1747.3,1787.1 L1748.0,1794.4 L1748.7,1761.0 L1749.4,1790.5 L1750.0,1782.1 L1750.8,1772.9 L1751.5,1792.0 L1752.2,1762.3 L1752.9,1777.2 L1753.6,1784.4 L1754.3,1789.3 L1755.0,1767.9 L1755.7,1774.6 L1756.4,1778.0 L1757.1,1766.7 L1757.8,1788.9 L1758.5,1778.3 L1759.2,1779.4 L1760.0,1776.6 L1760.6,1769.0 L1761.3,1782.2 L1762.0,1795.2 L1762.7,1788.7 L1763.4,1780.3 L1764.1,1781.4 L1764.8,1767.8 L1765.5,1789.2 L1766.2,1785.4 L1766.9,1785.1 L1767.6,1777.3 L1768.3,1769.4 L1769.0,1772.5 L1769.7,1777.4 L1770.0,1766.2 L1770.4,1786.9 L1771.1,1793.0 L1771.8,1795.1 L1772.5,1793.3 L1773.2,1784.8 L1773.9,1793.1 L1774.6,1772.0 L1775.3,1783.8 L1776.0,1771.4 L1776.7,1768.2 L1777.4,1779.3 L1778.1,1788.8 L1778.8,1773.1 L1779.5,1777.5 L1780.0,1787.8 L1780.9,1780.7 L1781.6,1770.0 L1782.3,1784.6 L1783.0,1784.1 L1783.7,1787.8 L1784.4,1770.3 L1785.1,1788.8 L1785.8,1778.5 L1786.5,1782.2 L1787.2,1771.8 L1787.9,1776.4 L1788.6,1795.1 L1789.3,1797.9 L1790.0,1786.3 L1790.7,1775.7 L1791.4,1794.2 L1792.1,1781.6 L1792.8,1793.7 L1793.5,1796.8 L1794.2,1794.5 L1794.9,1776.8 L1795.6,1779.9 L1796.3,1776.7 L1797.0,1796.0 L1797.7,1768.9 L1798.4,1787.0 L1799.1,1771.6 L1800.0,1795.4 L1800.5,1778.0 L1801.2,1795.7 L1801.9,1789.4 L1802.6,1792.0 L1803.3,1792.7 L1804.0,1779.6 L1804.7,1794.8 L1805.4,1790.7 L1806.1,1799.2 L1806.8,1780.8 L1807.5,1783.1 L1808.2,1790.6 L1808.9,1779.6 L1809.6,1785.7 L1810.0,1792.8 L1810.3,1795.5 L1811.0,1786.7 L1811.7,1786.5 L1812.4,1778.7 L1813.1,1791.9 L1813.8,1782.6 L1814.5,1789.6 L1815.2,1785.6 L1815.9,1797.4 L1816.6,1790.8 L1817.3,1784.8 L1818.0,1785.0 L1818.7,1805.1 L1819.4,1771.6 L1820.0,1789.1 L1820.8,1792.2 L1821.5,1779.8 L1822.2,1798.5 L1822.9,1796.8 L1823.6,1785.9 L1824.3,1789.8 L1825.0,1797.9 L1825.7,1778.9 L1826.4,1774.3 L1827.1,1777.6 L1827.8,1801.9 L1828.5,1767.0 L1829.2,1796.3 L1830.0,1781.0 L1830.6,1789.4 L1831.3,1802.0 L1832.0,1785.4 L1832.7,1783.5 L1833.4,1776.5 L1834.1,1774.5 L1834.8,1797.1 L1835.5,1793.8 L1836.2,1795.0 L1836.9,1792.3 L1837.6,1801.0 L1838.3,1768.3 L1839.0,1801.7 L1839.7,1774.5 L1840.0,1776.4 L1840.4,1783.0 L1841.1,1779.5 L1841.8,1797.6 L1842.5,1780.1 L1843.2,1798.7 L1843.9,1793.0 L1844.6,1776.8 L1845.3,1802.0 L1846.0,1792.9 L1846.7,1771.8 L1847.4,1784.8 L1848.1,1794.1 L1848.8,1777.8 L1849.5,1773.8 L1850.0,1801.8 L1850.9,1798.0 L1851.6,1775.2 L1852.3,1801.5 L1853.0,1773.5 L1853.7,1791.2 L1854.4,1779.4 L1855.1,1782.8 L1855.8,1787.3 L1856.5,1801.2 L1857.2,1795.7 L1857.9,1793.9 L1858.6,1795.5 L1859.3,1799.8 L1860.0,1799.9 L1860.7,1786.7 L1861.4,1792.2 L1862.1,1785.6 L1862.8,1782.4 L1863.5,1787.8 L1864.2,1791.7 L1864.9,1796.1 L1865.6,1795.5 L1866.3,1797.9 L1867.0,1803.3 L1867.7,1788.0 L1868.4,1782.7 L1869.1,1784.4 L1870.0,1803.8 L1870.5,1802.1 L1871.2,1793.1 L1871.9,1794.0 L1872.6,1793.7 L1873.3,1790.9 L1874.0,1796.9 L1874.7,1794.5 L1875.4,1782.2 L1876.1,1782.7 L1876.8,1772.5 L1877.5,1783.0 L1878.2,1787.6 L1878.9,1784.3 L1879.6,1792.3 L1880.0,1804.6 L1880.3,1786.7 L1881.0,1786.6 L1881.7,1793.9 L1882.4,1780.7 L1883.1,1788.7 L1883.8,1796.6 L1884.5,1787.0 L1885.2,1796.6 L1885.9,1779.8 L1886.6,1789.3 L1887.3,1800.8 L1888.0,1787.2 L1888.7,1779.0 L1889.4,1789.7 L1890.0,1792.8 L1890.8,1780.8 L1891.5,1789.6 L1892.2,1790.4 L1892.9,1777.6 L1893.6,1795.3 L1894.3,1778.3 L1895.0,1787.1 L1895.7,1781.4 L1896.4,1783.1 L1897.1,1784.0 L1897.8,1788.6 L1898.5,1778.7 L1899.2,1780.4 L1900.0,1794.6 L1900.6,1791.5 L1901.3,1781.1 L1902.0,1783.9 L1902.7,1786.4 L1903.4,1787.6 L1904.1,1794.3 L1904.8,1777.2 L1905.5,1775.9 L1906.2,1773.0 L1906.9,1780.7 L1907.6,1776.1 L1908.3,1780.2 L1909.0,1789.1 L1909.7,1788.2 L1910.0,1774.3 L1910.4,1783.4 L1911.1,1771.5 L1911.8,1775.9 L1912.5,1782.6 L1913.2,1778.4 L1913.9,1772.7 L1914.6,1779.5 L1915.3,1791.5 L1916.0,1787.9 L1916.7,1779.4 L1917.4,1787.2 L1918.1,1791.6 L1918.8,1768.8 L1919.5,1791.1 L1920.0,1773.8 L1920.9,1788.1 L1921.6,1784.3 L1922.3,1787.7 L1923.0,1792.9 L1923.7,1783.6 L1924.4,1774.0 L1925.1,1788.1 L1925.8,1778.6 L1926.5,1778.2 L1927.2,1782.8 L1927.9,1780.2 L1928.6,1767.9 L1929.3,1770.1 L1930.0,1784.1 L1930.7,1777.4 L1931.4,1787.5 L1932.1,1784.4 L1932.8,1774.3 L1933.5,1792.8 L1934.2,1785.4 L1934.9,1764.9 L1935.6,1766.3 L1936.3,1783.5 L1937.0,1782.7 L1937.7,1785.7 L1938.4,1791.0 L1939.1,1782.1 L1940.0,1791.4 L1940.5,1791.4 L1941.2,1778.9 L1941.9,1791.7 L1942.6,1769.7 L1943.3,1774.4 L1944.0,1773.0 L1944.7,1780.1 L1945.4,1775.2 L1946.1,1789.3 L1946.8,1775.0 L1947.5,1780.9 L1948.2,1798.9 L1948.9,1784.0 L1949.6,1791.1 L1950.0,1776.7 L1950.3,1786.9 L1951.0,1797.9 L1951.7,1791.3 L1952.4,1778.2 L1953.1,1778.7 L1953.8,1782.9 L1954.5,1777.2 L1955.2,1788.4 L1955.9,1799.8 L1956.6,1788.8 L1957.3,1803.9 L1958.0,1803.8 L1958.7,1800.7 L1959.4,1788.5 L1960.0,1784.0 L1960.8,1799.2 L1961.5,1797.3 L1962.2,1789.3 L1962.9,1797.8 L1963.6,1785.0 L1964.3,1796.3 L1965.0,1788.0 L1965.7,1801.4 L1966.4,1800.2 L1967.1,1776.8 L1967.8,1777.0 L1968.5,1801.6 L1969.2,1781.1 L1970.0,1796.2 L1970.6,1791.1 L1971.3,1789.8 L1972.0,1795.0 L1972.7,1790.3 L1973.4,1780.9 L1974.1,1783.3 L1974.8,1785.8 L1975.5,1795.6 L1976.2,1794.4 L1976.9,1788.6 L1977.6,1791.1 L1978.3,1800.8 L1979.0,1798.2 L1979.7,1784.4 L1980.0,1785.8 L1980.4,1804.1 L1981.1,1786.5 L1981.8,1800.8 L1982.5,1790.9 L1983.2,1787.5 L1983.9,1795.7 L1984.6,1781.1 L1985.3,1790.8 L1986.0,1783.6 L1986.7,1786.7 L1987.4,1783.1 L1988.1,1774.4 L1988.8,1794.9 L1989.5,1791.5 L1990.0,1782.1 L1990.9,1789.0 L1991.6,1797.5 L1992.3,1796.6 L1993.0,1775.6 L1993.7,1797.0 L1994.4,1786.0 L1995.1,1778.1 L1995.8,1778.0 L1996.5,1776.7 L1997.2,1778.7 L1997.9,1780.2 L1998.6,1787.4 L1999.3,1799.7 L2000.0,1776.5 L2000.7,1789.8 L2001.4,1777.5 L2002.1,1787.8 L2002.8,1802.6 L2003.5,1781.9 L2004.2,1799.4 L2004.9,1789.8 L2005.6,1791.6 L2006.3,1781.7 L2007.0,1784.5 L2007.7,1788.2 L2008.4,1797.8 L2009.1,1799.0 L2010.0,1783.7 L2010.5,1799.9 L2011.2,1787.8 L2011.9,1792.4 L2012.6,1785.8 L2013.3,1800.0 L2014.0,1793.8 L2014.7,1793.9 L2015.4,1793.8 L2016.1,1797.0 L2016.8,1786.5 L2017.5,1800.2 L2018.2,1801.3 L2018.9,1786.4 L2019.6,1804.0 L2020.0,1792.4 L2020.3,1803.6 L2021.0,1802.3 L2021.7,1797.4 L2022.4,1807.9 L2023.1,1796.0 L2023.8,1791.8 L2024.5,1793.5 L2025.2,1806.2 L2025.9,1804.0 L2026.6,1804.3 L2027.3,1797.8 L2028.0,1789.7 L2028.7,1806.1 L2029.4,1800.1 L2030.1,1793.9 L2030.8,1810.3 L2031.5,1793.4 L2032.2,1789.9 L2032.9,1796.8 L2033.6,1801.1 L2034.3,1789.3 L2035.0,1800.3" fill="none" stroke="#000" stroke-width="9" stroke-linejoin="round" stroke-linecap="round"/>
<polygon points="996.1,363.2 1040.1,363.2 1018.1,385.2" fill="#ff00ff"/>
<polygon points="1209.0,531.3 1253.0,531.3 1231.0,553.3" fill="#ff00ff"/>
<polygon points="1903.8,591.0 1947.8,591.0 1925.8,613.0" fill="#ff00ff"/>
<polygon points="1004.0,845.1 1048.0,845.1 1026.0,867.1" fill="#ff00ff"/>
<polygon points="1206.0,1062.3 1250.0,1062.3 1228.0,1084.3" fill="#ff00ff"/>
<polygon points="1907.0,1144.1 1951.0,1144.1 1929.0,1166.1" fill="#ff00ff"/>
<polygon points="1000.0,1544.4 1044.0,1544.4 1022.0,1566.4" fill="#ff00ff"/>
<polygon points="1210.0,1686.2 1254.0,1686.2 1232.0,1708.2" fill="#ff00ff"/>
<polygon points="1904.0,1723.2 1948.0,1723.2 1926.0,1745.2" fill="#ff00ff"/>
</svg>
</body></html>
